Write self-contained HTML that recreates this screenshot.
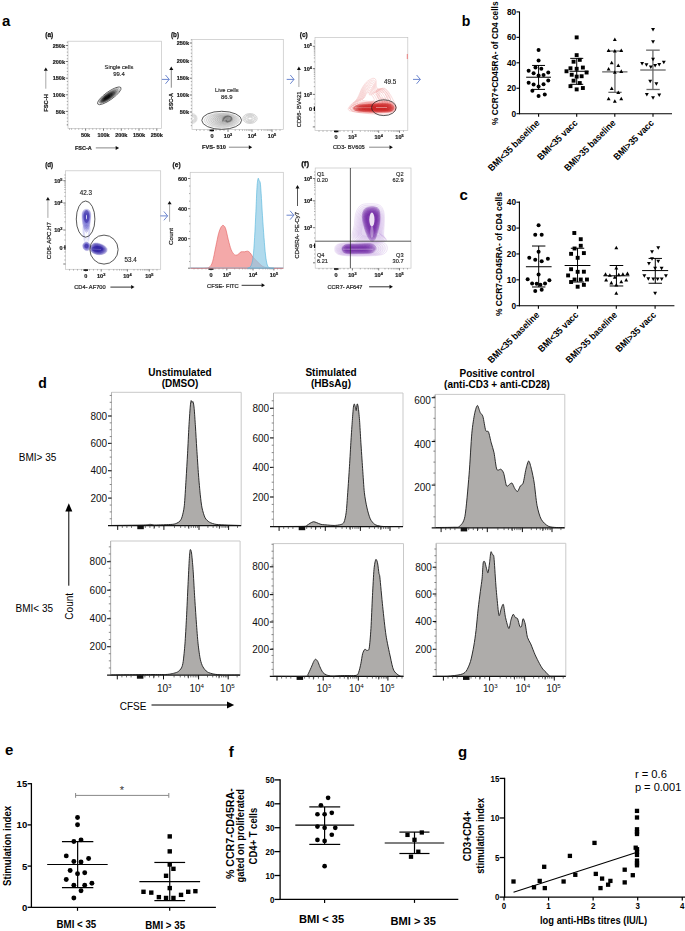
<!DOCTYPE html>
<html><head><meta charset="utf-8"><style>
html,body{margin:0;padding:0;background:#fff;}
body{width:685px;height:931px;overflow:hidden;}
svg{display:block;font-family:"Liberation Sans", sans-serif;}
</style></head><body>
<svg width="685" height="931" viewBox="0 0 685 931">
<rect width="685" height="931" fill="#fff"/>
<text x="1.90" y="26.00" font-size="15" font-weight="bold" text-anchor="start" fill="#000">a</text>
<text x="461.70" y="26.20" font-size="14" font-weight="bold" text-anchor="start" fill="#000">b</text>
<text x="459.40" y="200.00" font-size="15" font-weight="bold" text-anchor="start" fill="#000">c</text>
<text x="38.30" y="388.30" font-size="14" font-weight="bold" text-anchor="start" fill="#000">d</text>
<text x="5.00" y="755.00" font-size="15" font-weight="bold" text-anchor="start" fill="#000">e</text>
<text x="228.80" y="756.80" font-size="15" font-weight="bold" text-anchor="start" fill="#000">f</text>
<text x="458.00" y="757.00" font-size="15" font-weight="bold" text-anchor="start" fill="#000">g</text>
<defs><filter id="soft" x="-5%" y="-5%" width="110%" height="110%"><feGaussianBlur stdDeviation="0.28"/></filter></defs>
<g filter="url(#soft)">
<rect x="68.00" y="41.20" width="93.50" height="87.30" fill="none" stroke="#c4c4c4" stroke-width="0.7"/>
<line x1="65.80" y1="45.50" x2="68.00" y2="45.50" stroke="#555" stroke-width="0.8"/>
<text x="65.00" y="47.60" font-size="5.5" font-weight="bold" text-anchor="end" fill="#1e1e1e" stroke="#1e1e1e" stroke-width="0.22">250k</text>
<line x1="65.80" y1="61.50" x2="68.00" y2="61.50" stroke="#555" stroke-width="0.8"/>
<text x="65.00" y="63.60" font-size="5.5" font-weight="bold" text-anchor="end" fill="#1e1e1e" stroke="#1e1e1e" stroke-width="0.22">200k</text>
<line x1="65.80" y1="78.20" x2="68.00" y2="78.20" stroke="#555" stroke-width="0.8"/>
<text x="65.00" y="80.30" font-size="5.5" font-weight="bold" text-anchor="end" fill="#1e1e1e" stroke="#1e1e1e" stroke-width="0.22">150k</text>
<line x1="65.80" y1="94.80" x2="68.00" y2="94.80" stroke="#555" stroke-width="0.8"/>
<text x="65.00" y="96.90" font-size="5.5" font-weight="bold" text-anchor="end" fill="#1e1e1e" stroke="#1e1e1e" stroke-width="0.22">100k</text>
<line x1="65.80" y1="111.40" x2="68.00" y2="111.40" stroke="#555" stroke-width="0.8"/>
<text x="65.00" y="113.50" font-size="5.5" font-weight="bold" text-anchor="end" fill="#1e1e1e" stroke="#1e1e1e" stroke-width="0.22">50k</text>
<line x1="66.80" y1="48.82" x2="68.00" y2="48.82" stroke="#777" stroke-width="0.6"/>
<line x1="66.80" y1="52.14" x2="68.00" y2="52.14" stroke="#777" stroke-width="0.6"/>
<line x1="66.80" y1="55.46" x2="68.00" y2="55.46" stroke="#777" stroke-width="0.6"/>
<line x1="66.80" y1="58.78" x2="68.00" y2="58.78" stroke="#777" stroke-width="0.6"/>
<line x1="66.80" y1="64.82" x2="68.00" y2="64.82" stroke="#777" stroke-width="0.6"/>
<line x1="66.80" y1="68.14" x2="68.00" y2="68.14" stroke="#777" stroke-width="0.6"/>
<line x1="66.80" y1="71.46" x2="68.00" y2="71.46" stroke="#777" stroke-width="0.6"/>
<line x1="66.80" y1="74.78" x2="68.00" y2="74.78" stroke="#777" stroke-width="0.6"/>
<line x1="66.80" y1="81.52" x2="68.00" y2="81.52" stroke="#777" stroke-width="0.6"/>
<line x1="66.80" y1="84.84" x2="68.00" y2="84.84" stroke="#777" stroke-width="0.6"/>
<line x1="66.80" y1="88.16" x2="68.00" y2="88.16" stroke="#777" stroke-width="0.6"/>
<line x1="66.80" y1="91.48" x2="68.00" y2="91.48" stroke="#777" stroke-width="0.6"/>
<line x1="66.80" y1="98.12" x2="68.00" y2="98.12" stroke="#777" stroke-width="0.6"/>
<line x1="66.80" y1="101.44" x2="68.00" y2="101.44" stroke="#777" stroke-width="0.6"/>
<line x1="66.80" y1="104.76" x2="68.00" y2="104.76" stroke="#777" stroke-width="0.6"/>
<line x1="66.80" y1="108.08" x2="68.00" y2="108.08" stroke="#777" stroke-width="0.6"/>
<line x1="66.80" y1="114.72" x2="68.00" y2="114.72" stroke="#777" stroke-width="0.6"/>
<line x1="66.80" y1="118.04" x2="68.00" y2="118.04" stroke="#777" stroke-width="0.6"/>
<line x1="66.80" y1="121.36" x2="68.00" y2="121.36" stroke="#777" stroke-width="0.6"/>
<line x1="66.80" y1="124.68" x2="68.00" y2="124.68" stroke="#777" stroke-width="0.6"/>
<line x1="66.80" y1="42.20" x2="68.00" y2="42.20" stroke="#777" stroke-width="0.6"/>
<line x1="66.80" y1="125.00" x2="68.00" y2="125.00" stroke="#777" stroke-width="0.6"/>
<line x1="85.60" y1="128.50" x2="85.60" y2="130.70" stroke="#555" stroke-width="0.8"/>
<text x="85.60" y="137.20" font-size="5.5" font-weight="bold" text-anchor="middle" fill="#1e1e1e" stroke="#1e1e1e" stroke-width="0.22">50k</text>
<line x1="103.50" y1="128.50" x2="103.50" y2="130.70" stroke="#555" stroke-width="0.8"/>
<text x="103.50" y="137.20" font-size="5.5" font-weight="bold" text-anchor="middle" fill="#1e1e1e" stroke="#1e1e1e" stroke-width="0.22">100k</text>
<line x1="121.30" y1="128.50" x2="121.30" y2="130.70" stroke="#555" stroke-width="0.8"/>
<text x="121.30" y="137.20" font-size="5.5" font-weight="bold" text-anchor="middle" fill="#1e1e1e" stroke="#1e1e1e" stroke-width="0.22">200k</text>
<line x1="139.00" y1="128.50" x2="139.00" y2="130.70" stroke="#555" stroke-width="0.8"/>
<text x="139.00" y="137.20" font-size="5.5" font-weight="bold" text-anchor="middle" fill="#1e1e1e" stroke="#1e1e1e" stroke-width="0.22">150k</text>
<line x1="156.80" y1="128.50" x2="156.80" y2="130.70" stroke="#555" stroke-width="0.8"/>
<text x="156.80" y="137.20" font-size="5.5" font-weight="bold" text-anchor="middle" fill="#1e1e1e" stroke="#1e1e1e" stroke-width="0.22">250k</text>
<line x1="69.50" y1="128.50" x2="69.50" y2="129.70" stroke="#777" stroke-width="0.6"/>
<line x1="71.58" y1="128.50" x2="71.58" y2="129.70" stroke="#777" stroke-width="0.6"/>
<line x1="75.16" y1="128.50" x2="75.16" y2="129.70" stroke="#777" stroke-width="0.6"/>
<line x1="78.74" y1="128.50" x2="78.74" y2="129.70" stroke="#777" stroke-width="0.6"/>
<line x1="82.32" y1="128.50" x2="82.32" y2="129.70" stroke="#777" stroke-width="0.6"/>
<line x1="89.18" y1="128.50" x2="89.18" y2="129.70" stroke="#777" stroke-width="0.6"/>
<line x1="92.76" y1="128.50" x2="92.76" y2="129.70" stroke="#777" stroke-width="0.6"/>
<line x1="96.34" y1="128.50" x2="96.34" y2="129.70" stroke="#777" stroke-width="0.6"/>
<line x1="99.92" y1="128.50" x2="99.92" y2="129.70" stroke="#777" stroke-width="0.6"/>
<line x1="107.08" y1="128.50" x2="107.08" y2="129.70" stroke="#777" stroke-width="0.6"/>
<line x1="110.66" y1="128.50" x2="110.66" y2="129.70" stroke="#777" stroke-width="0.6"/>
<line x1="114.24" y1="128.50" x2="114.24" y2="129.70" stroke="#777" stroke-width="0.6"/>
<line x1="117.82" y1="128.50" x2="117.82" y2="129.70" stroke="#777" stroke-width="0.6"/>
<line x1="124.88" y1="128.50" x2="124.88" y2="129.70" stroke="#777" stroke-width="0.6"/>
<line x1="128.46" y1="128.50" x2="128.46" y2="129.70" stroke="#777" stroke-width="0.6"/>
<line x1="132.04" y1="128.50" x2="132.04" y2="129.70" stroke="#777" stroke-width="0.6"/>
<line x1="135.62" y1="128.50" x2="135.62" y2="129.70" stroke="#777" stroke-width="0.6"/>
<line x1="142.58" y1="128.50" x2="142.58" y2="129.70" stroke="#777" stroke-width="0.6"/>
<line x1="146.16" y1="128.50" x2="146.16" y2="129.70" stroke="#777" stroke-width="0.6"/>
<line x1="149.74" y1="128.50" x2="149.74" y2="129.70" stroke="#777" stroke-width="0.6"/>
<line x1="153.32" y1="128.50" x2="153.32" y2="129.70" stroke="#777" stroke-width="0.6"/>
<text x="45.30" y="36.80" font-size="7" font-weight="bold" fill="#111" stroke="#111" stroke-width="0.25" textLength="8" lengthAdjust="spacingAndGlyphs">(a)</text>
<text x="48.10" y="103.00" font-size="6.2" font-weight="bold" stroke="#1e1e1e" stroke-width="0.22" text-anchor="middle" fill="#1e1e1e" textLength="17.7" lengthAdjust="spacingAndGlyphs" transform="rotate(-90 48.10 103.00)">FSC-H</text>
<line x1="45.80" y1="88.70" x2="45.80" y2="70.40" stroke="#a8a8a8" stroke-width="1.0"/>
<path d="M43.80,70.80 L45.80,67.40 L47.80,70.80Z" fill="#111"/>
<text x="75.00" y="149.70" font-size="6.2" font-weight="bold" stroke="#1e1e1e" stroke-width="0.22" text-anchor="start" fill="#1e1e1e" textLength="16.8" lengthAdjust="spacingAndGlyphs">FSC-A</text>
<line x1="95.80" y1="147.90" x2="116.10" y2="147.90" stroke="#888" stroke-width="1.0"/>
<path d="M115.70,145.90 L119.10,147.90 L115.70,149.90Z" fill="#111"/>
<text x="119" y="69.4" font-size="5.9" text-anchor="middle" fill="#1e1e1e" stroke="#1e1e1e" stroke-width="0.15" textLength="28.8" lengthAdjust="spacingAndGlyphs">Single cells</text>
<text x="119" y="75.9" font-size="5.9" text-anchor="middle" fill="#1e1e1e" stroke="#1e1e1e" stroke-width="0.15">99.4</text>
<g transform="translate(109.3,95.8) rotate(-35.5)">
<ellipse cx="0" cy="0" rx="14.2" ry="4.0" fill="none" stroke="#333" stroke-width="0.7"/>
<ellipse cx="-0.00" cy="0" rx="12.3" ry="3.7" fill="#d8d8d8" stroke="#555" stroke-width="0.25"/>
<ellipse cx="-0.55" cy="0" rx="11.2" ry="3.35" fill="#b0b0b0" stroke="#555" stroke-width="0.25"/>
<ellipse cx="-1.10" cy="0" rx="9.8" ry="3.0" fill="#7a7a7a" stroke="#555" stroke-width="0.25"/>
<ellipse cx="-1.65" cy="0" rx="8.4" ry="2.6" fill="#4a4a4a" stroke="#555" stroke-width="0.25"/>
<ellipse cx="-2.20" cy="0" rx="6.5" ry="2.1" fill="#222" stroke="#555" stroke-width="0.25"/>
<ellipse cx="-2.75" cy="0" rx="4.2" ry="1.5" fill="#080808" stroke="#555" stroke-width="0.25"/>
</g>
<rect x="192.00" y="39.40" width="91.30" height="90.20" fill="none" stroke="#c4c4c4" stroke-width="0.7"/>
<line x1="189.80" y1="43.00" x2="192.00" y2="43.00" stroke="#555" stroke-width="0.8"/>
<text x="189.00" y="45.10" font-size="5.5" font-weight="bold" text-anchor="end" fill="#1e1e1e" stroke="#1e1e1e" stroke-width="0.22">250k</text>
<line x1="189.80" y1="61.00" x2="192.00" y2="61.00" stroke="#555" stroke-width="0.8"/>
<text x="189.00" y="63.10" font-size="5.5" font-weight="bold" text-anchor="end" fill="#1e1e1e" stroke="#1e1e1e" stroke-width="0.22">200k</text>
<line x1="189.80" y1="78.20" x2="192.00" y2="78.20" stroke="#555" stroke-width="0.8"/>
<text x="189.00" y="80.30" font-size="5.5" font-weight="bold" text-anchor="end" fill="#1e1e1e" stroke="#1e1e1e" stroke-width="0.22">150k</text>
<line x1="189.80" y1="95.00" x2="192.00" y2="95.00" stroke="#555" stroke-width="0.8"/>
<text x="189.00" y="97.10" font-size="5.5" font-weight="bold" text-anchor="end" fill="#1e1e1e" stroke="#1e1e1e" stroke-width="0.22">100k</text>
<line x1="189.80" y1="112.00" x2="192.00" y2="112.00" stroke="#555" stroke-width="0.8"/>
<text x="189.00" y="114.10" font-size="5.5" font-weight="bold" text-anchor="end" fill="#1e1e1e" stroke="#1e1e1e" stroke-width="0.22">50k</text>
<line x1="190.80" y1="46.40" x2="192.00" y2="46.40" stroke="#777" stroke-width="0.6"/>
<line x1="190.80" y1="49.80" x2="192.00" y2="49.80" stroke="#777" stroke-width="0.6"/>
<line x1="190.80" y1="53.20" x2="192.00" y2="53.20" stroke="#777" stroke-width="0.6"/>
<line x1="190.80" y1="56.60" x2="192.00" y2="56.60" stroke="#777" stroke-width="0.6"/>
<line x1="190.80" y1="64.40" x2="192.00" y2="64.40" stroke="#777" stroke-width="0.6"/>
<line x1="190.80" y1="67.80" x2="192.00" y2="67.80" stroke="#777" stroke-width="0.6"/>
<line x1="190.80" y1="71.20" x2="192.00" y2="71.20" stroke="#777" stroke-width="0.6"/>
<line x1="190.80" y1="74.60" x2="192.00" y2="74.60" stroke="#777" stroke-width="0.6"/>
<line x1="190.80" y1="81.60" x2="192.00" y2="81.60" stroke="#777" stroke-width="0.6"/>
<line x1="190.80" y1="85.00" x2="192.00" y2="85.00" stroke="#777" stroke-width="0.6"/>
<line x1="190.80" y1="88.40" x2="192.00" y2="88.40" stroke="#777" stroke-width="0.6"/>
<line x1="190.80" y1="91.80" x2="192.00" y2="91.80" stroke="#777" stroke-width="0.6"/>
<line x1="190.80" y1="98.40" x2="192.00" y2="98.40" stroke="#777" stroke-width="0.6"/>
<line x1="190.80" y1="101.80" x2="192.00" y2="101.80" stroke="#777" stroke-width="0.6"/>
<line x1="190.80" y1="105.20" x2="192.00" y2="105.20" stroke="#777" stroke-width="0.6"/>
<line x1="190.80" y1="108.60" x2="192.00" y2="108.60" stroke="#777" stroke-width="0.6"/>
<line x1="190.80" y1="115.40" x2="192.00" y2="115.40" stroke="#777" stroke-width="0.6"/>
<line x1="190.80" y1="118.80" x2="192.00" y2="118.80" stroke="#777" stroke-width="0.6"/>
<line x1="190.80" y1="122.20" x2="192.00" y2="122.20" stroke="#777" stroke-width="0.6"/>
<line x1="190.80" y1="125.60" x2="192.00" y2="125.60" stroke="#777" stroke-width="0.6"/>
<line x1="190.80" y1="39.80" x2="192.00" y2="39.80" stroke="#777" stroke-width="0.6"/>
<line x1="212.00" y1="129.60" x2="212.00" y2="131.80" stroke="#555" stroke-width="0.8"/>
<text x="212.00" y="137.50" font-size="5.5" font-weight="bold" text-anchor="middle" fill="#1e1e1e" stroke="#1e1e1e" stroke-width="0.22">0</text>
<line x1="228.00" y1="129.60" x2="228.00" y2="131.80" stroke="#555" stroke-width="0.8"/>
<text x="228.00" y="137.50" font-size="5.5" font-weight="bold" text-anchor="middle" fill="#1e1e1e" stroke="#1e1e1e" stroke-width="0.22">10<tspan font-size="3.85" dy="-2">3</tspan></text>
<line x1="252.00" y1="129.60" x2="252.00" y2="131.80" stroke="#555" stroke-width="0.8"/>
<text x="252.00" y="137.50" font-size="5.5" font-weight="bold" text-anchor="middle" fill="#1e1e1e" stroke="#1e1e1e" stroke-width="0.22">10<tspan font-size="3.85" dy="-2">4</tspan></text>
<line x1="272.00" y1="129.60" x2="272.00" y2="131.80" stroke="#555" stroke-width="0.8"/>
<text x="272.00" y="137.50" font-size="5.5" font-weight="bold" text-anchor="middle" fill="#1e1e1e" stroke="#1e1e1e" stroke-width="0.22">10<tspan font-size="3.85" dy="-2">5</tspan></text>
<line x1="196.50" y1="129.60" x2="196.50" y2="130.80" stroke="#777" stroke-width="0.6"/>
<line x1="200.00" y1="129.60" x2="200.00" y2="130.80" stroke="#777" stroke-width="0.6"/>
<line x1="204.00" y1="129.60" x2="204.00" y2="130.80" stroke="#777" stroke-width="0.6"/>
<line x1="208.00" y1="129.60" x2="208.00" y2="130.80" stroke="#777" stroke-width="0.6"/>
<line x1="216.00" y1="129.60" x2="216.00" y2="130.80" stroke="#777" stroke-width="0.6"/>
<line x1="220.00" y1="129.60" x2="220.00" y2="130.80" stroke="#777" stroke-width="0.6"/>
<line x1="224.00" y1="129.60" x2="224.00" y2="130.80" stroke="#777" stroke-width="0.6"/>
<line x1="235.22" y1="129.60" x2="235.22" y2="130.80" stroke="#777" stroke-width="0.6"/>
<line x1="239.45" y1="129.60" x2="239.45" y2="130.80" stroke="#777" stroke-width="0.6"/>
<line x1="242.45" y1="129.60" x2="242.45" y2="130.80" stroke="#777" stroke-width="0.6"/>
<line x1="244.78" y1="129.60" x2="244.78" y2="130.80" stroke="#777" stroke-width="0.6"/>
<line x1="246.68" y1="129.60" x2="246.68" y2="130.80" stroke="#777" stroke-width="0.6"/>
<line x1="248.28" y1="129.60" x2="248.28" y2="130.80" stroke="#777" stroke-width="0.6"/>
<line x1="249.67" y1="129.60" x2="249.67" y2="130.80" stroke="#777" stroke-width="0.6"/>
<line x1="250.90" y1="129.60" x2="250.90" y2="130.80" stroke="#777" stroke-width="0.6"/>
<line x1="258.02" y1="129.60" x2="258.02" y2="130.80" stroke="#777" stroke-width="0.6"/>
<line x1="261.54" y1="129.60" x2="261.54" y2="130.80" stroke="#777" stroke-width="0.6"/>
<line x1="264.04" y1="129.60" x2="264.04" y2="130.80" stroke="#777" stroke-width="0.6"/>
<line x1="265.98" y1="129.60" x2="265.98" y2="130.80" stroke="#777" stroke-width="0.6"/>
<line x1="267.56" y1="129.60" x2="267.56" y2="130.80" stroke="#777" stroke-width="0.6"/>
<line x1="268.90" y1="129.60" x2="268.90" y2="130.80" stroke="#777" stroke-width="0.6"/>
<line x1="270.06" y1="129.60" x2="270.06" y2="130.80" stroke="#777" stroke-width="0.6"/>
<line x1="271.08" y1="129.60" x2="271.08" y2="130.80" stroke="#777" stroke-width="0.6"/>
<line x1="276.00" y1="129.60" x2="276.00" y2="130.80" stroke="#777" stroke-width="0.6"/>
<line x1="280.00" y1="129.60" x2="280.00" y2="130.80" stroke="#777" stroke-width="0.6"/>
<rect x="209.50" y="129.60" width="4.50" height="1.60" fill="#111" stroke="none" stroke-width="1"/>
<text x="171.00" y="37.00" font-size="7" font-weight="bold" fill="#111" stroke="#111" stroke-width="0.25" textLength="8" lengthAdjust="spacingAndGlyphs">(b)</text>
<path d="M161.90,79.40 H169.20 M165.50,75.00 L169.20,79.40 L165.50,83.80" fill="none" stroke="#5b78c8" stroke-width="0.9"/>
<text x="173.30" y="101.50" font-size="6.2" font-weight="bold" stroke="#1e1e1e" stroke-width="0.22" text-anchor="middle" fill="#1e1e1e" textLength="17.0" lengthAdjust="spacingAndGlyphs" transform="rotate(-90 173.30 101.50)">SSC-A</text>
<line x1="171.30" y1="87.70" x2="171.30" y2="69.50" stroke="#8a8a8a" stroke-width="1.0"/>
<path d="M169.30,69.90 L171.30,66.50 L173.30,69.90Z" fill="#111"/>
<text x="202.00" y="149.00" font-size="6.2" font-weight="bold" stroke="#1e1e1e" stroke-width="0.22" text-anchor="start" fill="#1e1e1e" textLength="24.0" lengthAdjust="spacingAndGlyphs">FVS- 510</text>
<line x1="228.90" y1="147.20" x2="249.20" y2="147.20" stroke="#888" stroke-width="1.0"/>
<path d="M248.80,145.20 L252.20,147.20 L248.80,149.20Z" fill="#111"/>
<text x="226.8" y="92.0" font-size="5.9" text-anchor="middle" fill="#1e1e1e" stroke="#1e1e1e" stroke-width="0.15" textLength="23.5" lengthAdjust="spacingAndGlyphs">Live cells</text>
<text x="226.8" y="98.6" font-size="5.9" text-anchor="middle" fill="#1e1e1e" stroke="#1e1e1e" stroke-width="0.15">86.9</text>
<ellipse cx="222.00" cy="120.30" rx="17.80" ry="7.40" fill="#000" fill-opacity="0.03" stroke="#555" stroke-opacity="0.6" stroke-width="0.3"/>
<ellipse cx="222.43" cy="120.18" rx="16.11" ry="6.70" fill="#000" fill-opacity="0.03" stroke="#555" stroke-opacity="0.6" stroke-width="0.3"/>
<ellipse cx="222.85" cy="120.05" rx="14.42" ry="5.99" fill="#000" fill-opacity="0.03" stroke="#555" stroke-opacity="0.6" stroke-width="0.3"/>
<ellipse cx="223.28" cy="119.93" rx="12.73" ry="5.29" fill="#000" fill-opacity="0.03" stroke="#555" stroke-opacity="0.6" stroke-width="0.3"/>
<ellipse cx="223.71" cy="119.81" rx="11.04" ry="4.59" fill="#000" fill-opacity="0.03" stroke="#555" stroke-opacity="0.6" stroke-width="0.3"/>
<ellipse cx="224.14" cy="119.68" rx="9.35" ry="3.89" fill="#000" fill-opacity="0.03" stroke="#555" stroke-opacity="0.6" stroke-width="0.3"/>
<ellipse cx="224.56" cy="119.56" rx="7.65" ry="3.18" fill="#000" fill-opacity="0.03" stroke="#555" stroke-opacity="0.6" stroke-width="0.3"/>
<ellipse cx="224.99" cy="119.44" rx="5.96" ry="2.48" fill="#000" fill-opacity="0.03" stroke="#555" stroke-opacity="0.6" stroke-width="0.3"/>
<ellipse cx="225.42" cy="119.31" rx="4.27" ry="1.78" fill="#000" fill-opacity="0.03" stroke="#555" stroke-opacity="0.6" stroke-width="0.3"/>
<ellipse cx="225.85" cy="119.19" rx="2.58" ry="1.07" fill="#000" fill-opacity="0.03" stroke="#555" stroke-opacity="0.6" stroke-width="0.3"/>
<path d="M222.5,121.5 C223,117 227,115.5 230,116.5 C232.5,117.5 231.5,120.5 229,121.5 C227,122.3 225.5,121 226.5,119.8" fill="none" stroke="#3a3a3a" stroke-opacity="0.45" stroke-width="1.3"/>
<ellipse cx="227.5" cy="119" rx="5.5" ry="3.6" fill="#444" fill-opacity="0.25"/>
<ellipse cx="221.7" cy="120.3" rx="19.9" ry="9.0" fill="none" stroke="#222" stroke-width="0.75"/>
<ellipse cx="250" cy="118.5" rx="7.20" ry="5.00" fill="none" stroke="#777" stroke-width="0.3"/>
<ellipse cx="250" cy="118.5" rx="5.90" ry="4.10" fill="none" stroke="#777" stroke-width="0.3"/>
<ellipse cx="250" cy="118.5" rx="4.61" ry="3.20" fill="none" stroke="#777" stroke-width="0.3"/>
<ellipse cx="250" cy="118.5" rx="3.31" ry="2.30" fill="none" stroke="#777" stroke-width="0.3"/>
<ellipse cx="250" cy="118.5" rx="2.02" ry="1.40" fill="none" stroke="#777" stroke-width="0.3"/>
<ellipse cx="192.5" cy="118.5" rx="4.50" ry="4.80" fill="none" stroke="#888" stroke-width="0.3" clip-path="url(#clipb)"/>
<ellipse cx="192.5" cy="118.5" rx="3.60" ry="3.84" fill="none" stroke="#888" stroke-width="0.3" clip-path="url(#clipb)"/>
<ellipse cx="192.5" cy="118.5" rx="2.70" ry="2.88" fill="none" stroke="#888" stroke-width="0.3" clip-path="url(#clipb)"/>
<ellipse cx="192.5" cy="118.5" rx="1.80" ry="1.92" fill="none" stroke="#888" stroke-width="0.3" clip-path="url(#clipb)"/>
<clipPath id="clipb"><rect x="192.0" y="39.4" width="91.30000000000001" height="90.19999999999999"/></clipPath>
<rect x="315.00" y="37.40" width="92.80" height="93.20" fill="none" stroke="#c4c4c4" stroke-width="0.7"/>
<line x1="312.80" y1="46.30" x2="315.00" y2="46.30" stroke="#555" stroke-width="0.8"/>
<text x="312.00" y="48.40" font-size="5.5" font-weight="bold" text-anchor="end" fill="#1e1e1e" stroke="#1e1e1e" stroke-width="0.22">10<tspan font-size="3.85" dy="-2">5</tspan></text>
<line x1="312.80" y1="68.60" x2="315.00" y2="68.60" stroke="#555" stroke-width="0.8"/>
<text x="312.00" y="70.70" font-size="5.5" font-weight="bold" text-anchor="end" fill="#1e1e1e" stroke="#1e1e1e" stroke-width="0.22">10<tspan font-size="3.85" dy="-2">4</tspan></text>
<line x1="312.80" y1="94.40" x2="315.00" y2="94.40" stroke="#555" stroke-width="0.8"/>
<text x="312.00" y="96.50" font-size="5.5" font-weight="bold" text-anchor="end" fill="#1e1e1e" stroke="#1e1e1e" stroke-width="0.22">10<tspan font-size="3.85" dy="-2">3</tspan></text>
<line x1="312.80" y1="108.70" x2="315.00" y2="108.70" stroke="#555" stroke-width="0.8"/>
<text x="312.00" y="110.80" font-size="5.5" font-weight="bold" text-anchor="end" fill="#1e1e1e" stroke="#1e1e1e" stroke-width="0.22">0</text>
<line x1="312.80" y1="126.90" x2="315.00" y2="126.90" stroke="#555" stroke-width="0.8"/>
<line x1="313.80" y1="86.63" x2="315.00" y2="86.63" stroke="#777" stroke-width="0.6"/>
<line x1="313.80" y1="82.09" x2="315.00" y2="82.09" stroke="#777" stroke-width="0.6"/>
<line x1="313.80" y1="78.87" x2="315.00" y2="78.87" stroke="#777" stroke-width="0.6"/>
<line x1="313.80" y1="76.37" x2="315.00" y2="76.37" stroke="#777" stroke-width="0.6"/>
<line x1="313.80" y1="74.32" x2="315.00" y2="74.32" stroke="#777" stroke-width="0.6"/>
<line x1="313.80" y1="72.60" x2="315.00" y2="72.60" stroke="#777" stroke-width="0.6"/>
<line x1="313.80" y1="71.10" x2="315.00" y2="71.10" stroke="#777" stroke-width="0.6"/>
<line x1="313.80" y1="69.78" x2="315.00" y2="69.78" stroke="#777" stroke-width="0.6"/>
<line x1="313.80" y1="61.89" x2="315.00" y2="61.89" stroke="#777" stroke-width="0.6"/>
<line x1="313.80" y1="57.96" x2="315.00" y2="57.96" stroke="#777" stroke-width="0.6"/>
<line x1="313.80" y1="55.17" x2="315.00" y2="55.17" stroke="#777" stroke-width="0.6"/>
<line x1="313.80" y1="53.01" x2="315.00" y2="53.01" stroke="#777" stroke-width="0.6"/>
<line x1="313.80" y1="51.25" x2="315.00" y2="51.25" stroke="#777" stroke-width="0.6"/>
<line x1="313.80" y1="49.75" x2="315.00" y2="49.75" stroke="#777" stroke-width="0.6"/>
<line x1="313.80" y1="48.46" x2="315.00" y2="48.46" stroke="#777" stroke-width="0.6"/>
<line x1="313.80" y1="47.32" x2="315.00" y2="47.32" stroke="#777" stroke-width="0.6"/>
<line x1="313.80" y1="41.00" x2="315.00" y2="41.00" stroke="#777" stroke-width="0.6"/>
<line x1="313.80" y1="43.00" x2="315.00" y2="43.00" stroke="#777" stroke-width="0.6"/>
<line x1="313.80" y1="99.00" x2="315.00" y2="99.00" stroke="#777" stroke-width="0.6"/>
<line x1="313.80" y1="104.00" x2="315.00" y2="104.00" stroke="#777" stroke-width="0.6"/>
<line x1="313.80" y1="113.00" x2="315.00" y2="113.00" stroke="#777" stroke-width="0.6"/>
<line x1="313.80" y1="117.00" x2="315.00" y2="117.00" stroke="#777" stroke-width="0.6"/>
<line x1="313.80" y1="121.00" x2="315.00" y2="121.00" stroke="#777" stroke-width="0.6"/>
<rect x="313.80" y="106.50" width="1.20" height="4.50" fill="#111" stroke="none" stroke-width="1"/>
<line x1="336.00" y1="130.60" x2="336.00" y2="132.80" stroke="#555" stroke-width="0.8"/>
<text x="336.00" y="138.50" font-size="5.5" font-weight="bold" text-anchor="middle" fill="#1e1e1e" stroke="#1e1e1e" stroke-width="0.22">0</text>
<line x1="352.40" y1="130.60" x2="352.40" y2="132.80" stroke="#555" stroke-width="0.8"/>
<text x="352.40" y="138.50" font-size="5.5" font-weight="bold" text-anchor="middle" fill="#1e1e1e" stroke="#1e1e1e" stroke-width="0.22">10<tspan font-size="3.85" dy="-2">3</tspan></text>
<line x1="378.70" y1="130.60" x2="378.70" y2="132.80" stroke="#555" stroke-width="0.8"/>
<text x="378.70" y="138.50" font-size="5.5" font-weight="bold" text-anchor="middle" fill="#1e1e1e" stroke="#1e1e1e" stroke-width="0.22">10<tspan font-size="3.85" dy="-2">4</tspan></text>
<line x1="399.50" y1="130.60" x2="399.50" y2="132.80" stroke="#555" stroke-width="0.8"/>
<text x="399.50" y="138.50" font-size="5.5" font-weight="bold" text-anchor="middle" fill="#1e1e1e" stroke="#1e1e1e" stroke-width="0.22">10<tspan font-size="3.85" dy="-2">5</tspan></text>
<line x1="319.00" y1="130.60" x2="319.00" y2="131.80" stroke="#777" stroke-width="0.6"/>
<line x1="323.00" y1="130.60" x2="323.00" y2="131.80" stroke="#777" stroke-width="0.6"/>
<line x1="327.00" y1="130.60" x2="327.00" y2="131.80" stroke="#777" stroke-width="0.6"/>
<line x1="331.00" y1="130.60" x2="331.00" y2="131.80" stroke="#777" stroke-width="0.6"/>
<line x1="340.00" y1="130.60" x2="340.00" y2="131.80" stroke="#777" stroke-width="0.6"/>
<line x1="344.00" y1="130.60" x2="344.00" y2="131.80" stroke="#777" stroke-width="0.6"/>
<line x1="348.00" y1="130.60" x2="348.00" y2="131.80" stroke="#777" stroke-width="0.6"/>
<line x1="360.32" y1="130.60" x2="360.32" y2="131.80" stroke="#777" stroke-width="0.6"/>
<line x1="364.95" y1="130.60" x2="364.95" y2="131.80" stroke="#777" stroke-width="0.6"/>
<line x1="368.23" y1="130.60" x2="368.23" y2="131.80" stroke="#777" stroke-width="0.6"/>
<line x1="370.78" y1="130.60" x2="370.78" y2="131.80" stroke="#777" stroke-width="0.6"/>
<line x1="372.87" y1="130.60" x2="372.87" y2="131.80" stroke="#777" stroke-width="0.6"/>
<line x1="374.63" y1="130.60" x2="374.63" y2="131.80" stroke="#777" stroke-width="0.6"/>
<line x1="376.15" y1="130.60" x2="376.15" y2="131.80" stroke="#777" stroke-width="0.6"/>
<line x1="377.50" y1="130.60" x2="377.50" y2="131.80" stroke="#777" stroke-width="0.6"/>
<line x1="384.96" y1="130.60" x2="384.96" y2="131.80" stroke="#777" stroke-width="0.6"/>
<line x1="388.62" y1="130.60" x2="388.62" y2="131.80" stroke="#777" stroke-width="0.6"/>
<line x1="391.22" y1="130.60" x2="391.22" y2="131.80" stroke="#777" stroke-width="0.6"/>
<line x1="393.24" y1="130.60" x2="393.24" y2="131.80" stroke="#777" stroke-width="0.6"/>
<line x1="394.89" y1="130.60" x2="394.89" y2="131.80" stroke="#777" stroke-width="0.6"/>
<line x1="396.28" y1="130.60" x2="396.28" y2="131.80" stroke="#777" stroke-width="0.6"/>
<line x1="397.48" y1="130.60" x2="397.48" y2="131.80" stroke="#777" stroke-width="0.6"/>
<line x1="398.55" y1="130.60" x2="398.55" y2="131.80" stroke="#777" stroke-width="0.6"/>
<line x1="403.50" y1="130.60" x2="403.50" y2="131.80" stroke="#777" stroke-width="0.6"/>
<rect x="334.00" y="130.60" width="4.50" height="1.60" fill="#111" stroke="none" stroke-width="1"/>
<text x="299.80" y="36.60" font-size="7" font-weight="bold" fill="#111" stroke="#111" stroke-width="0.25" textLength="8" lengthAdjust="spacingAndGlyphs">(c)</text>
<path d="M286.70,79.40 H294.00 M290.30,75.00 L294.00,79.40 L290.30,83.80" fill="none" stroke="#5b78c8" stroke-width="0.9"/>
<path d="M413.00,79.40 H420.30 M416.60,75.00 L420.30,79.40 L416.60,83.80" fill="none" stroke="#5b78c8" stroke-width="0.9"/>
<text x="300.90" y="109.40" font-size="6.2" stroke="#1e1e1e" stroke-width="0.22" text-anchor="middle" fill="#1e1e1e" textLength="35.8" lengthAdjust="spacingAndGlyphs" transform="rotate(-90 300.90 109.40)">CD56- BV421</text>
<line x1="298.90" y1="87.00" x2="298.90" y2="69.50" stroke="#a8a8a8" stroke-width="1.0"/>
<path d="M296.90,69.90 L298.90,66.50 L300.90,69.90Z" fill="#111"/>
<text x="333.00" y="149.00" font-size="6.2" stroke="#1e1e1e" stroke-width="0.22" text-anchor="start" fill="#1e1e1e" textLength="31.7" lengthAdjust="spacingAndGlyphs">CD3- BV605</text>
<line x1="369.10" y1="147.20" x2="389.90" y2="147.20" stroke="#888" stroke-width="1.0"/>
<path d="M389.50,145.20 L392.90,147.20 L389.50,149.20Z" fill="#111"/>
<text x="390.2" y="83.6" font-size="6.3" text-anchor="middle" fill="#1e1e1e" stroke="#1e1e1e" stroke-width="0.15">49.5</text>
<path d="M348.32,108.54 C348.61,107.44 350.15,105.47 351.39,104.16 C352.63,102.85 354.53,102.12 355.77,100.66 C357.01,99.20 357.81,97.44 358.83,95.40 C359.85,93.36 360.66,90.58 361.90,88.39 C363.14,86.20 364.82,83.80 366.28,82.26 C367.74,80.73 369.42,79.85 370.66,79.20 C371.90,78.54 372.85,78.17 373.72,78.32 C374.60,78.47 375.47,78.69 375.91,80.07 C376.35,81.46 375.91,85.18 376.35,86.64 C376.79,88.10 377.15,88.54 378.54,88.83 C379.93,89.12 382.92,87.74 384.67,88.39 C386.42,89.05 387.74,91.02 389.05,92.77 C390.36,94.52 391.39,96.57 392.55,98.90 C393.72,101.24 395.84,104.60 396.06,106.79 C396.28,108.98 395.33,110.80 393.87,112.04 C392.41,113.28 390.14,113.87 387.30,114.23 C384.45,114.60 380.29,114.38 376.79,114.23 C373.28,114.09 369.78,113.72 366.28,113.36 C362.77,112.99 358.54,112.48 355.77,112.04 C352.99,111.60 350.88,111.31 349.63,110.73 C348.39,110.14 348.03,109.63 348.32,108.54Z" fill="#e04848" fill-opacity="0.0" stroke="#e04848" stroke-opacity="0.55" stroke-width="0.35"/>
<path d="M350.07,107.46 C350.34,106.47 351.73,104.68 352.85,103.49 C353.97,102.30 355.69,101.64 356.82,100.31 C357.94,98.99 358.67,97.40 359.60,95.55 C360.52,93.70 361.25,91.18 362.38,89.20 C363.50,87.22 365.02,85.03 366.34,83.64 C367.67,82.25 369.19,81.46 370.31,80.87 C371.44,80.27 372.30,79.94 373.09,80.07 C373.89,80.20 374.68,80.40 375.08,81.66 C375.47,82.92 375.08,86.29 375.47,87.61 C375.87,88.94 376.20,89.33 377.46,89.60 C378.71,89.86 381.43,88.61 383.01,89.20 C384.60,89.80 385.79,91.58 386.98,93.17 C388.17,94.76 389.10,96.61 390.16,98.73 C391.22,100.84 393.13,103.89 393.33,105.87 C393.53,107.85 392.67,109.51 391.35,110.63 C390.03,111.76 387.97,112.29 385.39,112.62 C382.82,112.95 379.04,112.75 375.87,112.62 C372.69,112.48 369.52,112.15 366.34,111.82 C363.17,111.49 359.33,111.03 356.82,110.63 C354.31,110.24 352.39,109.97 351.26,109.44 C350.14,108.91 349.81,108.45 350.07,107.46Z" fill="#e04848" fill-opacity="0.0" stroke="#e04848" stroke-opacity="0.55" stroke-width="0.35"/>
<path d="M351.82,106.38 C352.06,105.49 353.31,103.88 354.31,102.82 C355.32,101.75 356.86,101.16 357.87,99.97 C358.88,98.78 359.53,97.36 360.36,95.70 C361.19,94.04 361.85,91.79 362.85,90.01 C363.86,88.23 365.23,86.27 366.41,85.03 C367.60,83.78 368.96,83.07 369.97,82.53 C370.98,82.00 371.75,81.70 372.46,81.82 C373.17,81.94 373.88,82.12 374.24,83.25 C374.60,84.37 374.24,87.40 374.60,88.58 C374.95,89.77 375.25,90.13 376.38,90.36 C377.50,90.60 379.93,89.47 381.36,90.01 C382.78,90.54 383.85,92.14 384.92,93.57 C385.98,94.99 386.81,96.65 387.76,98.55 C388.71,100.44 390.43,103.17 390.61,104.95 C390.79,106.73 390.02,108.21 388.83,109.22 C387.64,110.23 385.80,110.70 383.49,111.00 C381.18,111.30 377.80,111.12 374.95,111.00 C372.11,110.88 369.26,110.59 366.41,110.29 C363.57,109.99 360.13,109.58 357.87,109.22 C355.62,108.87 353.90,108.63 352.89,108.15 C351.88,107.68 351.59,107.27 351.82,106.38Z" fill="#e04848" fill-opacity="0.0" stroke="#e04848" stroke-opacity="0.55" stroke-width="0.35"/>
<path d="M353.57,105.29 C353.78,104.51 354.89,103.09 355.78,102.15 C356.67,101.20 358.03,100.68 358.93,99.63 C359.82,98.58 360.39,97.32 361.13,95.85 C361.86,94.38 362.44,92.39 363.33,90.81 C364.22,89.24 365.43,87.51 366.48,86.41 C367.53,85.31 368.74,84.68 369.63,84.20 C370.52,83.73 371.20,83.47 371.83,83.57 C372.46,83.68 373.09,83.84 373.41,84.83 C373.72,85.83 373.41,88.51 373.72,89.56 C374.03,90.60 374.30,90.92 375.29,91.13 C376.29,91.34 378.44,90.34 379.70,90.81 C380.96,91.29 381.90,92.70 382.85,93.96 C383.79,95.22 384.53,96.69 385.37,98.37 C386.21,100.05 387.73,102.46 387.88,104.03 C388.04,105.61 387.36,106.92 386.31,107.81 C385.26,108.70 383.64,109.12 381.59,109.39 C379.54,109.65 376.55,109.49 374.03,109.39 C371.52,109.28 369.00,109.02 366.48,108.76 C363.96,108.49 360.92,108.13 358.93,107.81 C356.93,107.50 355.41,107.29 354.52,106.87 C353.63,106.45 353.36,106.08 353.57,105.29Z" fill="#e04848" fill-opacity="0.0" stroke="#e04848" stroke-opacity="0.55" stroke-width="0.35"/>
<path d="M355.33,104.21 C355.51,103.53 356.47,102.30 357.24,101.47 C358.02,100.65 359.20,100.20 359.98,99.29 C360.75,98.37 361.26,97.28 361.89,96.00 C362.53,94.72 363.04,92.99 363.81,91.62 C364.59,90.25 365.64,88.75 366.55,87.79 C367.46,86.83 368.51,86.28 369.29,85.87 C370.06,85.46 370.65,85.23 371.20,85.33 C371.75,85.42 372.30,85.55 372.57,86.42 C372.84,87.29 372.57,89.61 372.84,90.53 C373.12,91.44 373.35,91.71 374.21,91.89 C375.08,92.08 376.95,91.21 378.04,91.62 C379.14,92.03 379.96,93.26 380.78,94.36 C381.60,95.45 382.24,96.73 382.97,98.19 C383.70,99.65 385.02,101.75 385.16,103.12 C385.30,104.49 384.70,105.63 383.79,106.40 C382.88,107.18 381.47,107.54 379.69,107.77 C377.91,108.00 375.31,107.86 373.12,107.77 C370.93,107.68 368.74,107.45 366.55,107.22 C364.36,106.99 361.71,106.68 359.98,106.40 C358.25,106.13 356.92,105.95 356.15,105.58 C355.37,105.22 355.14,104.90 355.33,104.21Z" fill="#e04848" fill-opacity="0.0" stroke="#e04848" stroke-opacity="0.55" stroke-width="0.35"/>
<path d="M357.08,103.13 C357.23,102.55 358.05,101.50 358.71,100.80 C359.36,100.11 360.37,99.72 361.03,98.94 C361.69,98.17 362.12,97.24 362.66,96.15 C363.20,95.06 363.63,93.59 364.29,92.43 C364.95,91.26 365.84,89.98 366.62,89.17 C367.39,88.36 368.28,87.89 368.94,87.54 C369.60,87.19 370.11,87.00 370.57,87.08 C371.04,87.15 371.50,87.27 371.73,88.01 C371.97,88.74 371.73,90.72 371.97,91.50 C372.20,92.27 372.39,92.51 373.13,92.66 C373.87,92.82 375.46,92.08 376.39,92.43 C377.32,92.78 378.02,93.82 378.71,94.75 C379.41,95.69 379.95,96.77 380.58,98.01 C381.20,99.25 382.32,101.04 382.44,102.20 C382.55,103.36 382.05,104.33 381.27,104.99 C380.50,105.65 379.30,105.96 377.78,106.15 C376.27,106.35 374.06,106.23 372.20,106.15 C370.34,106.08 368.48,105.88 366.62,105.69 C364.75,105.50 362.51,105.22 361.03,104.99 C359.56,104.76 358.43,104.60 357.77,104.29 C357.12,103.98 356.92,103.71 357.08,103.13Z" fill="#e04848" fill-opacity="0.0" stroke="#e04848" stroke-opacity="0.55" stroke-width="0.35"/>
<path d="M358.83,102.05 C358.96,101.57 359.63,100.71 360.17,100.13 C360.71,99.56 361.54,99.24 362.09,98.60 C362.63,97.96 362.98,97.19 363.43,96.30 C363.87,95.41 364.22,94.19 364.77,93.23 C365.31,92.28 366.04,91.22 366.68,90.55 C367.32,89.88 368.06,89.50 368.60,89.21 C369.14,88.92 369.56,88.76 369.94,88.83 C370.32,88.89 370.71,88.99 370.90,89.59 C371.09,90.20 370.90,91.83 371.09,92.47 C371.28,93.11 371.44,93.30 372.05,93.43 C372.66,93.55 373.96,92.95 374.73,93.23 C375.50,93.52 376.07,94.38 376.65,95.15 C377.22,95.92 377.67,96.81 378.18,97.83 C378.69,98.85 379.62,100.32 379.71,101.28 C379.81,102.24 379.39,103.04 378.75,103.58 C378.12,104.12 377.13,104.38 375.88,104.54 C374.63,104.70 372.81,104.60 371.28,104.54 C369.75,104.48 368.22,104.32 366.68,104.16 C365.15,104.00 363.30,103.77 362.09,103.58 C360.87,103.39 359.95,103.26 359.40,103.01 C358.86,102.75 358.70,102.53 358.83,102.05Z" fill="#e04848" fill-opacity="0.0" stroke="#e04848" stroke-opacity="0.55" stroke-width="0.35"/>
<path d="M360.58,100.97 C360.68,100.59 361.21,99.91 361.63,99.46 C362.06,99.01 362.71,98.76 363.14,98.26 C363.56,97.75 363.84,97.15 364.19,96.45 C364.54,95.75 364.82,94.79 365.25,94.04 C365.67,93.29 366.25,92.46 366.75,91.93 C367.25,91.41 367.83,91.11 368.26,90.88 C368.68,90.65 369.01,90.53 369.31,90.58 C369.61,90.63 369.91,90.70 370.06,91.18 C370.21,91.66 370.06,92.94 370.21,93.44 C370.36,93.94 370.49,94.09 370.97,94.19 C371.44,94.29 372.47,93.82 373.07,94.04 C373.68,94.27 374.13,94.94 374.58,95.55 C375.03,96.15 375.38,96.85 375.78,97.65 C376.19,98.46 376.91,99.61 376.99,100.36 C377.06,101.12 376.74,101.74 376.24,102.17 C375.73,102.60 374.96,102.80 373.98,102.92 C373.00,103.05 371.57,102.97 370.36,102.92 C369.16,102.87 367.96,102.75 366.75,102.62 C365.55,102.50 364.09,102.32 363.14,102.17 C362.18,102.02 361.46,101.92 361.03,101.72 C360.60,101.52 360.48,101.34 360.58,100.97Z" fill="#e04848" fill-opacity="0.0" stroke="#e04848" stroke-opacity="0.55" stroke-width="0.35"/>
<path d="M362.33,99.88 C362.40,99.61 362.79,99.12 363.10,98.79 C363.41,98.46 363.88,98.28 364.19,97.91 C364.50,97.55 364.70,97.11 364.96,96.60 C365.21,96.09 365.41,95.40 365.72,94.85 C366.03,94.30 366.45,93.70 366.82,93.32 C367.18,92.93 367.60,92.71 367.91,92.55 C368.22,92.38 368.46,92.29 368.68,92.33 C368.90,92.37 369.12,92.42 369.23,92.77 C369.34,93.11 369.23,94.05 369.34,94.41 C369.45,94.78 369.54,94.88 369.88,94.96 C370.23,95.03 370.98,94.68 371.42,94.85 C371.86,95.01 372.18,95.51 372.51,95.94 C372.84,96.38 373.10,96.89 373.39,97.48 C373.68,98.06 374.21,98.90 374.26,99.45 C374.32,99.99 374.08,100.45 373.72,100.76 C373.35,101.07 372.79,101.22 372.07,101.31 C371.36,101.40 370.32,101.34 369.45,101.31 C368.57,101.27 367.70,101.18 366.82,101.09 C365.94,101.00 364.88,100.87 364.19,100.76 C363.50,100.65 362.97,100.58 362.66,100.43 C362.35,100.29 362.26,100.16 362.33,99.88Z" fill="#e04848" fill-opacity="0.0" stroke="#e04848" stroke-opacity="0.55" stroke-width="0.35"/>
<path d="M376.79,90.15 C377.52,89.05 379.71,88.90 381.17,88.83 C382.63,88.76 384.23,88.76 385.55,89.71 C386.86,90.66 388.25,92.85 389.05,94.52 C389.85,96.20 390.95,98.61 390.36,99.78 C389.78,100.95 387.37,101.53 385.55,101.53 C383.72,101.53 380.87,100.80 379.41,99.78 C377.96,98.76 377.23,97.01 376.79,95.40 C376.35,93.79 376.06,91.24 376.79,90.15Z" fill="#e04848" fill-opacity="0.0" stroke="#e04848" stroke-opacity="0.45" stroke-width="0.3"/>
<path d="M377.74,91.02 C378.34,90.11 380.17,89.99 381.39,89.93 C382.60,89.87 383.94,89.87 385.04,90.66 C386.13,91.45 387.29,93.27 387.95,94.67 C388.62,96.07 389.54,98.08 389.05,99.05 C388.56,100.02 386.56,100.51 385.04,100.51 C383.51,100.51 381.14,99.90 379.93,99.05 C378.71,98.20 378.10,96.74 377.74,95.40 C377.37,94.06 377.13,91.93 377.74,91.02Z" fill="#e04848" fill-opacity="0.0" stroke="#e04848" stroke-opacity="0.45" stroke-width="0.3"/>
<path d="M378.69,91.90 C379.17,91.17 380.63,91.07 381.60,91.02 C382.58,90.97 383.65,90.97 384.52,91.61 C385.40,92.24 386.32,93.70 386.86,94.82 C387.40,95.94 388.13,97.54 387.74,98.32 C387.35,99.10 385.74,99.49 384.52,99.49 C383.31,99.49 381.41,99.00 380.44,98.32 C379.46,97.64 378.98,96.47 378.69,95.40 C378.39,94.33 378.20,92.63 378.69,91.90Z" fill="#e04848" fill-opacity="0.0" stroke="#e04848" stroke-opacity="0.45" stroke-width="0.3"/>
<path d="M379.63,92.77 C380.00,92.23 381.09,92.15 381.82,92.12 C382.55,92.08 383.36,92.08 384.01,92.55 C384.67,93.03 385.36,94.12 385.77,94.96 C386.17,95.80 386.71,97.01 386.42,97.59 C386.13,98.17 384.93,98.47 384.01,98.47 C383.10,98.47 381.68,98.10 380.95,97.59 C380.22,97.08 379.85,96.20 379.63,95.40 C379.41,94.60 379.27,93.32 379.63,92.77Z" fill="#e04848" fill-opacity="0.0" stroke="#e04848" stroke-opacity="0.45" stroke-width="0.3"/>
<path d="M349.63,108.54 C349.49,107.33 351.97,105.62 354.01,104.60 C356.06,103.58 358.69,102.92 361.90,102.41 C365.11,101.90 369.63,101.79 373.28,101.53 C376.93,101.27 380.58,100.69 383.79,100.83 C387.01,100.98 390.51,101.27 392.55,102.41 C394.60,103.55 396.06,106.06 396.06,107.66 C396.06,109.27 395.33,111.14 392.55,112.04 C389.78,112.95 383.79,112.95 379.41,113.09 C375.04,113.24 370.36,113.12 366.28,112.92 C362.19,112.71 357.66,112.60 354.89,111.87 C352.12,111.14 349.78,109.75 349.63,108.54Z" fill="#e03030" fill-opacity="0.12" stroke="#e03030" stroke-opacity="0.6" stroke-width="0.3"/>
<path d="M353.85,108.48 C353.73,107.40 355.93,105.88 357.75,104.97 C359.57,104.06 361.91,103.48 364.77,103.02 C367.63,102.57 371.65,102.48 374.90,102.24 C378.15,102.01 381.40,101.49 384.26,101.62 C387.12,101.75 390.23,102.01 392.05,103.02 C393.87,104.04 395.17,106.27 395.17,107.70 C395.17,109.13 394.52,110.79 392.05,111.60 C389.58,112.40 384.26,112.40 380.36,112.53 C376.46,112.66 372.30,112.56 368.67,112.38 C365.03,112.20 361.00,112.09 358.53,111.44 C356.06,110.79 353.98,109.56 353.85,108.48Z" fill="#e03030" fill-opacity="0.12" stroke="#e03030" stroke-opacity="0.6" stroke-width="0.3"/>
<path d="M358.08,108.42 C357.96,107.48 359.90,106.14 361.49,105.35 C363.09,104.55 365.13,104.04 367.64,103.64 C370.14,103.24 373.67,103.16 376.52,102.95 C379.37,102.75 382.21,102.29 384.72,102.41 C387.22,102.52 389.96,102.75 391.55,103.64 C393.15,104.53 394.28,106.48 394.28,107.74 C394.28,108.99 393.71,110.45 391.55,111.15 C389.39,111.86 384.72,111.86 381.30,111.97 C377.89,112.09 374.24,112.00 371.06,111.84 C367.87,111.68 364.34,111.59 362.17,111.02 C360.01,110.45 358.19,109.37 358.08,108.42Z" fill="#e03030" fill-opacity="0.12" stroke="#e03030" stroke-opacity="0.6" stroke-width="0.3"/>
<path d="M362.30,108.36 C362.20,107.55 363.86,106.40 365.23,105.72 C366.60,105.04 368.36,104.60 370.51,104.25 C372.66,103.91 375.69,103.84 378.14,103.67 C380.59,103.49 383.03,103.10 385.18,103.20 C387.33,103.29 389.68,103.49 391.05,104.25 C392.42,105.02 393.40,106.70 393.40,107.77 C393.40,108.85 392.91,110.10 391.05,110.71 C389.19,111.31 385.18,111.31 382.25,111.41 C379.31,111.51 376.18,111.43 373.45,111.30 C370.71,111.16 367.67,111.08 365.82,110.59 C363.96,110.10 362.39,109.17 362.30,108.36Z" fill="#e03030" fill-opacity="0.12" stroke="#e03030" stroke-opacity="0.6" stroke-width="0.3"/>
<path d="M366.52,108.30 C366.43,107.62 367.82,106.67 368.97,106.09 C370.11,105.52 371.58,105.15 373.38,104.87 C375.18,104.58 377.72,104.53 379.76,104.38 C381.80,104.23 383.85,103.90 385.64,103.99 C387.44,104.07 389.41,104.23 390.55,104.87 C391.69,105.51 392.51,106.91 392.51,107.81 C392.51,108.71 392.10,109.76 390.55,110.26 C389.00,110.77 385.64,110.77 383.19,110.85 C380.74,110.93 378.12,110.87 375.83,110.75 C373.55,110.64 371.01,110.57 369.46,110.17 C367.91,109.76 366.60,108.98 366.52,108.30Z" fill="#e03030" fill-opacity="0.12" stroke="#e03030" stroke-opacity="0.6" stroke-width="0.3"/>
<path d="M370.74,108.24 C370.67,107.70 371.79,106.93 372.71,106.47 C373.63,106.01 374.81,105.71 376.25,105.48 C377.70,105.25 379.74,105.21 381.38,105.09 C383.02,104.97 384.66,104.71 386.11,104.77 C387.55,104.84 389.13,104.97 390.05,105.48 C390.97,106.00 391.63,107.13 391.63,107.85 C391.63,108.57 391.30,109.41 390.05,109.82 C388.80,110.23 386.11,110.23 384.14,110.29 C382.17,110.36 380.06,110.31 378.22,110.21 C376.39,110.12 374.35,110.07 373.10,109.74 C371.85,109.41 370.80,108.79 370.74,108.24Z" fill="#e03030" fill-opacity="0.12" stroke="#e03030" stroke-opacity="0.6" stroke-width="0.3"/>
<path d="M353.14,107.66 C353.43,106.71 355.33,105.62 357.52,105.04 C359.71,104.45 363.36,104.38 366.28,104.16 C369.20,103.94 372.12,103.87 375.04,103.72 C377.96,103.58 381.02,103.14 383.79,103.28 C386.57,103.43 390.00,103.72 391.68,104.60 C393.36,105.47 394.01,107.44 393.87,108.54 C393.72,109.63 393.21,110.61 390.80,111.17 C388.39,111.72 383.50,111.79 379.41,111.87 C375.33,111.94 370.22,111.79 366.28,111.60 C362.34,111.41 357.96,111.39 355.77,110.73 C353.58,110.07 352.85,108.61 353.14,107.66Z" fill="#c81e1e" fill-opacity="0.22" stroke="#c81e1e" stroke-opacity="0.8" stroke-width="0.3"/>
<path d="M354.37,107.72 C354.64,106.88 356.43,105.90 358.50,105.38 C360.57,104.86 364.01,104.80 366.77,104.60 C369.52,104.41 372.28,104.34 375.03,104.21 C377.79,104.08 380.68,103.69 383.30,103.82 C385.92,103.95 389.15,104.21 390.74,104.99 C392.32,105.77 392.94,107.53 392.81,108.50 C392.67,109.48 392.19,110.35 389.91,110.84 C387.64,111.33 383.02,111.40 379.17,111.46 C375.31,111.53 370.49,111.40 366.77,111.23 C363.05,111.06 358.91,111.04 356.85,110.45 C354.78,109.87 354.09,108.57 354.37,107.72Z" fill="#c81e1e" fill-opacity="0.22" stroke="#c81e1e" stroke-opacity="0.8" stroke-width="0.3"/>
<path d="M355.60,107.78 C355.86,107.04 357.54,106.19 359.48,105.73 C361.43,105.28 364.67,105.22 367.26,105.05 C369.85,104.88 372.44,104.82 375.03,104.71 C377.62,104.59 380.34,104.25 382.80,104.37 C385.27,104.48 388.31,104.71 389.80,105.39 C391.29,106.07 391.87,107.61 391.74,108.46 C391.61,109.32 391.16,110.08 389.02,110.51 C386.89,110.95 382.55,111.00 378.92,111.06 C375.29,111.12 370.76,111.00 367.26,110.86 C363.76,110.71 359.87,110.68 357.93,110.17 C355.99,109.66 355.34,108.52 355.60,107.78Z" fill="#c81e1e" fill-opacity="0.22" stroke="#c81e1e" stroke-opacity="0.8" stroke-width="0.3"/>
<path d="M356.83,107.84 C357.07,107.20 358.65,106.47 360.47,106.08 C362.29,105.69 365.32,105.64 367.75,105.49 C370.18,105.35 372.60,105.30 375.03,105.20 C377.46,105.10 380.00,104.81 382.31,104.91 C384.62,105.00 387.47,105.20 388.86,105.79 C390.26,106.37 390.80,107.69 390.68,108.43 C390.56,109.16 390.14,109.82 388.13,110.19 C386.13,110.56 382.07,110.61 378.67,110.66 C375.27,110.71 371.03,110.61 367.75,110.48 C364.47,110.35 360.83,110.33 359.01,109.89 C357.19,109.45 356.58,108.48 356.83,107.84Z" fill="#c81e1e" fill-opacity="0.22" stroke="#c81e1e" stroke-opacity="0.8" stroke-width="0.3"/>
<path d="M358.06,107.90 C358.28,107.37 359.75,106.75 361.45,106.43 C363.15,106.10 365.98,106.06 368.24,105.94 C370.50,105.81 372.76,105.77 375.03,105.69 C377.29,105.61 379.67,105.37 381.82,105.45 C383.97,105.53 386.62,105.69 387.92,106.18 C389.23,106.67 389.74,107.78 389.62,108.39 C389.51,109.00 389.11,109.55 387.25,109.86 C385.38,110.17 381.59,110.21 378.42,110.25 C375.25,110.29 371.29,110.21 368.24,110.11 C365.18,110.00 361.79,109.98 360.09,109.62 C358.40,109.25 357.83,108.43 358.06,107.90Z" fill="#c81e1e" fill-opacity="0.22" stroke="#c81e1e" stroke-opacity="0.8" stroke-width="0.3"/>
<path d="M359.29,107.96 C359.50,107.53 360.86,107.04 362.43,106.78 C364.01,106.51 366.63,106.48 368.73,106.38 C370.83,106.28 372.93,106.25 375.03,106.18 C377.12,106.12 379.33,105.92 381.32,105.99 C383.31,106.05 385.78,106.18 386.99,106.58 C388.19,106.97 388.67,107.86 388.56,108.35 C388.46,108.85 388.09,109.29 386.36,109.54 C384.63,109.78 381.11,109.82 378.17,109.85 C375.24,109.88 371.56,109.82 368.73,109.73 C365.90,109.65 362.75,109.63 361.18,109.34 C359.60,109.04 359.08,108.39 359.29,107.96Z" fill="#c81e1e" fill-opacity="0.22" stroke="#c81e1e" stroke-opacity="0.8" stroke-width="0.3"/>
<path d="M360.52,108.02 C360.71,107.69 361.97,107.32 363.42,107.12 C364.87,106.93 367.29,106.90 369.22,106.83 C371.16,106.75 373.09,106.73 375.02,106.68 C376.96,106.63 378.99,106.48 380.83,106.53 C382.66,106.58 384.94,106.68 386.05,106.98 C387.16,107.27 387.60,107.94 387.50,108.32 C387.40,108.69 387.06,109.02 385.47,109.21 C383.87,109.40 380.63,109.42 377.92,109.45 C375.22,109.47 371.83,109.42 369.22,109.36 C366.61,109.29 363.71,109.28 362.26,109.06 C360.81,108.84 360.32,108.34 360.52,108.02Z" fill="#c81e1e" fill-opacity="0.22" stroke="#c81e1e" stroke-opacity="0.8" stroke-width="0.3"/>
<path d="M361.75,108.08 C361.92,107.86 363.07,107.61 364.40,107.47 C365.73,107.34 367.94,107.32 369.71,107.27 C371.48,107.22 373.25,107.20 375.02,107.17 C376.79,107.14 378.65,107.04 380.33,107.07 C382.01,107.10 384.09,107.17 385.11,107.37 C386.13,107.57 386.53,108.03 386.44,108.28 C386.35,108.53 386.04,108.75 384.58,108.88 C383.12,109.01 380.15,109.03 377.68,109.04 C375.20,109.06 372.10,109.03 369.71,108.98 C367.32,108.94 364.67,108.93 363.34,108.78 C362.01,108.63 361.57,108.29 361.75,108.08Z" fill="#c81e1e" fill-opacity="0.22" stroke="#c81e1e" stroke-opacity="0.8" stroke-width="0.3"/>
<path d="M362.98,108.14 C363.14,108.02 364.18,107.89 365.38,107.82 C366.59,107.75 368.60,107.74 370.20,107.72 C371.81,107.69 373.41,107.68 375.02,107.66 C376.63,107.65 378.31,107.59 379.84,107.61 C381.36,107.63 383.25,107.66 384.17,107.77 C385.10,107.87 385.46,108.11 385.38,108.24 C385.30,108.37 385.02,108.49 383.69,108.56 C382.37,108.62 379.68,108.63 377.43,108.64 C375.18,108.65 372.37,108.63 370.20,108.61 C368.03,108.59 365.63,108.58 364.42,108.50 C363.22,108.42 362.82,108.25 362.98,108.14Z" fill="#c81e1e" fill-opacity="0.22" stroke="#c81e1e" stroke-opacity="0.8" stroke-width="0.3"/>
<line x1="355.00" y1="107.70" x2="372.00" y2="107.70" stroke="#fff" stroke-width="0.5" stroke-opacity="0.6"/>
<line x1="376.00" y1="107.50" x2="387.00" y2="107.50" stroke="#fff" stroke-width="0.6" stroke-opacity="0.7"/>
<ellipse cx="383.8" cy="107.7" rx="12.3" ry="7.9" fill="none" stroke="#222" stroke-width="0.75"/>
<line x1="407.30" y1="54.00" x2="407.30" y2="59.00" stroke="#e66" stroke-width="0.8"/>
<rect x="65.50" y="170.80" width="95.20" height="98.50" fill="none" stroke="#c4c4c4" stroke-width="0.7"/>
<line x1="63.30" y1="180.70" x2="65.50" y2="180.70" stroke="#555" stroke-width="0.8"/>
<text x="62.50" y="182.80" font-size="5.5" font-weight="bold" text-anchor="end" fill="#1e1e1e" stroke="#1e1e1e" stroke-width="0.22">10<tspan font-size="3.85" dy="-2">5</tspan></text>
<line x1="63.30" y1="203.00" x2="65.50" y2="203.00" stroke="#555" stroke-width="0.8"/>
<text x="62.50" y="205.10" font-size="5.5" font-weight="bold" text-anchor="end" fill="#1e1e1e" stroke="#1e1e1e" stroke-width="0.22">10<tspan font-size="3.85" dy="-2">4</tspan></text>
<line x1="63.30" y1="230.00" x2="65.50" y2="230.00" stroke="#555" stroke-width="0.8"/>
<text x="62.50" y="232.10" font-size="5.5" font-weight="bold" text-anchor="end" fill="#1e1e1e" stroke="#1e1e1e" stroke-width="0.22">10<tspan font-size="3.85" dy="-2">3</tspan></text>
<line x1="63.30" y1="247.40" x2="65.50" y2="247.40" stroke="#555" stroke-width="0.8"/>
<text x="62.50" y="249.50" font-size="5.5" font-weight="bold" text-anchor="end" fill="#1e1e1e" stroke="#1e1e1e" stroke-width="0.22">0</text>
<line x1="63.30" y1="264.00" x2="65.50" y2="264.00" stroke="#555" stroke-width="0.8"/>
<line x1="64.30" y1="221.87" x2="65.50" y2="221.87" stroke="#777" stroke-width="0.6"/>
<line x1="64.30" y1="217.12" x2="65.50" y2="217.12" stroke="#777" stroke-width="0.6"/>
<line x1="64.30" y1="213.74" x2="65.50" y2="213.74" stroke="#777" stroke-width="0.6"/>
<line x1="64.30" y1="211.13" x2="65.50" y2="211.13" stroke="#777" stroke-width="0.6"/>
<line x1="64.30" y1="208.99" x2="65.50" y2="208.99" stroke="#777" stroke-width="0.6"/>
<line x1="64.30" y1="207.18" x2="65.50" y2="207.18" stroke="#777" stroke-width="0.6"/>
<line x1="64.30" y1="205.62" x2="65.50" y2="205.62" stroke="#777" stroke-width="0.6"/>
<line x1="64.30" y1="204.24" x2="65.50" y2="204.24" stroke="#777" stroke-width="0.6"/>
<line x1="64.30" y1="196.29" x2="65.50" y2="196.29" stroke="#777" stroke-width="0.6"/>
<line x1="64.30" y1="192.36" x2="65.50" y2="192.36" stroke="#777" stroke-width="0.6"/>
<line x1="64.30" y1="189.57" x2="65.50" y2="189.57" stroke="#777" stroke-width="0.6"/>
<line x1="64.30" y1="187.41" x2="65.50" y2="187.41" stroke="#777" stroke-width="0.6"/>
<line x1="64.30" y1="185.65" x2="65.50" y2="185.65" stroke="#777" stroke-width="0.6"/>
<line x1="64.30" y1="184.15" x2="65.50" y2="184.15" stroke="#777" stroke-width="0.6"/>
<line x1="64.30" y1="182.86" x2="65.50" y2="182.86" stroke="#777" stroke-width="0.6"/>
<line x1="64.30" y1="181.72" x2="65.50" y2="181.72" stroke="#777" stroke-width="0.6"/>
<line x1="64.30" y1="175.00" x2="65.50" y2="175.00" stroke="#777" stroke-width="0.6"/>
<line x1="64.30" y1="178.00" x2="65.50" y2="178.00" stroke="#777" stroke-width="0.6"/>
<line x1="64.30" y1="235.00" x2="65.50" y2="235.00" stroke="#777" stroke-width="0.6"/>
<line x1="64.30" y1="240.00" x2="65.50" y2="240.00" stroke="#777" stroke-width="0.6"/>
<line x1="64.30" y1="252.00" x2="65.50" y2="252.00" stroke="#777" stroke-width="0.6"/>
<line x1="64.30" y1="256.00" x2="65.50" y2="256.00" stroke="#777" stroke-width="0.6"/>
<line x1="64.30" y1="260.00" x2="65.50" y2="260.00" stroke="#777" stroke-width="0.6"/>
<rect x="64.30" y="245.20" width="1.20" height="4.50" fill="#111" stroke="none" stroke-width="1"/>
<line x1="85.80" y1="269.30" x2="85.80" y2="271.50" stroke="#555" stroke-width="0.8"/>
<text x="85.80" y="277.50" font-size="5.5" font-weight="bold" text-anchor="middle" fill="#1e1e1e" stroke="#1e1e1e" stroke-width="0.22">0</text>
<line x1="101.20" y1="269.30" x2="101.20" y2="271.50" stroke="#555" stroke-width="0.8"/>
<text x="101.20" y="277.50" font-size="5.5" font-weight="bold" text-anchor="middle" fill="#1e1e1e" stroke="#1e1e1e" stroke-width="0.22">10<tspan font-size="3.85" dy="-2">3</tspan></text>
<line x1="127.40" y1="269.30" x2="127.40" y2="271.50" stroke="#555" stroke-width="0.8"/>
<text x="127.40" y="277.50" font-size="5.5" font-weight="bold" text-anchor="middle" fill="#1e1e1e" stroke="#1e1e1e" stroke-width="0.22">10<tspan font-size="3.85" dy="-2">4</tspan></text>
<line x1="149.30" y1="269.30" x2="149.30" y2="271.50" stroke="#555" stroke-width="0.8"/>
<text x="149.30" y="277.50" font-size="5.5" font-weight="bold" text-anchor="middle" fill="#1e1e1e" stroke="#1e1e1e" stroke-width="0.22">10<tspan font-size="3.85" dy="-2">5</tspan></text>
<line x1="69.50" y1="269.30" x2="69.50" y2="270.50" stroke="#777" stroke-width="0.6"/>
<line x1="73.50" y1="269.30" x2="73.50" y2="270.50" stroke="#777" stroke-width="0.6"/>
<line x1="77.50" y1="269.30" x2="77.50" y2="270.50" stroke="#777" stroke-width="0.6"/>
<line x1="81.50" y1="269.30" x2="81.50" y2="270.50" stroke="#777" stroke-width="0.6"/>
<line x1="89.50" y1="269.30" x2="89.50" y2="270.50" stroke="#777" stroke-width="0.6"/>
<line x1="93.50" y1="269.30" x2="93.50" y2="270.50" stroke="#777" stroke-width="0.6"/>
<line x1="97.50" y1="269.30" x2="97.50" y2="270.50" stroke="#777" stroke-width="0.6"/>
<line x1="109.09" y1="269.30" x2="109.09" y2="270.50" stroke="#777" stroke-width="0.6"/>
<line x1="113.70" y1="269.30" x2="113.70" y2="270.50" stroke="#777" stroke-width="0.6"/>
<line x1="116.97" y1="269.30" x2="116.97" y2="270.50" stroke="#777" stroke-width="0.6"/>
<line x1="119.51" y1="269.30" x2="119.51" y2="270.50" stroke="#777" stroke-width="0.6"/>
<line x1="121.59" y1="269.30" x2="121.59" y2="270.50" stroke="#777" stroke-width="0.6"/>
<line x1="123.34" y1="269.30" x2="123.34" y2="270.50" stroke="#777" stroke-width="0.6"/>
<line x1="124.86" y1="269.30" x2="124.86" y2="270.50" stroke="#777" stroke-width="0.6"/>
<line x1="126.20" y1="269.30" x2="126.20" y2="270.50" stroke="#777" stroke-width="0.6"/>
<line x1="133.99" y1="269.30" x2="133.99" y2="270.50" stroke="#777" stroke-width="0.6"/>
<line x1="137.85" y1="269.30" x2="137.85" y2="270.50" stroke="#777" stroke-width="0.6"/>
<line x1="140.59" y1="269.30" x2="140.59" y2="270.50" stroke="#777" stroke-width="0.6"/>
<line x1="142.71" y1="269.30" x2="142.71" y2="270.50" stroke="#777" stroke-width="0.6"/>
<line x1="144.44" y1="269.30" x2="144.44" y2="270.50" stroke="#777" stroke-width="0.6"/>
<line x1="145.91" y1="269.30" x2="145.91" y2="270.50" stroke="#777" stroke-width="0.6"/>
<line x1="147.18" y1="269.30" x2="147.18" y2="270.50" stroke="#777" stroke-width="0.6"/>
<line x1="148.30" y1="269.30" x2="148.30" y2="270.50" stroke="#777" stroke-width="0.6"/>
<line x1="153.00" y1="269.30" x2="153.00" y2="270.50" stroke="#777" stroke-width="0.6"/>
<line x1="157.00" y1="269.30" x2="157.00" y2="270.50" stroke="#777" stroke-width="0.6"/>
<rect x="83.50" y="269.30" width="4.50" height="1.60" fill="#111" stroke="none" stroke-width="1"/>
<text x="45.20" y="166.60" font-size="7" font-weight="bold" fill="#111" stroke="#111" stroke-width="0.25" textLength="8" lengthAdjust="spacingAndGlyphs">(d)</text>
<text x="50.70" y="240.70" font-size="6.2" stroke="#1e1e1e" stroke-width="0.22" text-anchor="middle" fill="#1e1e1e" textLength="36.9" lengthAdjust="spacingAndGlyphs" transform="rotate(-90 50.70 240.70)">CD8- APC.H7</text>
<line x1="47.90" y1="217.90" x2="47.90" y2="199.90" stroke="#a8a8a8" stroke-width="1.0"/>
<path d="M45.90,200.30 L47.90,196.90 L49.90,200.30Z" fill="#111"/>
<text x="74.20" y="289.00" font-size="6.2" stroke="#1e1e1e" stroke-width="0.22" text-anchor="start" fill="#1e1e1e" textLength="31.5" lengthAdjust="spacingAndGlyphs">CD4- AF700</text>
<line x1="110.40" y1="287.10" x2="131.50" y2="287.10" stroke="#333" stroke-width="1.0"/>
<path d="M131.10,285.10 L134.50,287.10 L131.10,289.10Z" fill="#111"/>
<text x="85.8" y="194.5" font-size="6.3" text-anchor="middle" fill="#1e1e1e" stroke="#1e1e1e" stroke-width="0.15">42.3</text>
<text x="130.7" y="261.7" font-size="6.3" text-anchor="middle" fill="#1e1e1e" stroke="#1e1e1e" stroke-width="0.15">53.4</text>
<path d="M82.85,227.12 C82.44,229.52 83.52,237.29 84.05,239.96 C84.59,242.64 85.25,243.17 86.06,243.17 C86.86,243.17 88.20,242.64 88.87,239.96 C89.54,237.29 90.47,229.52 90.07,227.12 C89.67,224.71 87.66,225.51 86.46,225.51 C85.25,225.51 83.25,224.71 82.85,227.12Z" fill="#7a7ae0" fill-opacity="0.0" stroke="#7a7ae0" stroke-opacity="0.55" stroke-width="0.3"/>
<path d="M83.33,227.77 C82.99,229.85 83.91,236.58 84.38,238.90 C84.84,241.22 85.42,241.68 86.12,241.68 C86.81,241.68 87.97,241.22 88.55,238.90 C89.13,236.58 89.94,229.85 89.60,227.77 C89.25,225.68 87.51,226.38 86.46,226.38 C85.42,226.38 83.68,225.68 83.33,227.77Z" fill="#7a7ae0" fill-opacity="0.0" stroke="#7a7ae0" stroke-opacity="0.55" stroke-width="0.3"/>
<path d="M83.82,228.42 C83.53,230.18 84.31,235.88 84.70,237.84 C85.10,239.80 85.59,240.19 86.18,240.19 C86.76,240.19 87.75,239.80 88.24,237.84 C88.73,235.88 89.41,230.18 89.12,228.42 C88.83,226.65 87.35,227.24 86.47,227.24 C85.59,227.24 84.11,226.65 83.82,228.42Z" fill="#7a7ae0" fill-opacity="0.0" stroke="#7a7ae0" stroke-opacity="0.55" stroke-width="0.3"/>
<path d="M84.31,229.07 C84.07,230.51 84.71,235.17 85.03,236.78 C85.35,238.38 85.75,238.70 86.23,238.70 C86.72,238.70 87.52,238.38 87.92,236.78 C88.32,235.17 88.88,230.51 88.64,229.07 C88.40,227.62 87.20,228.11 86.48,228.11 C85.75,228.11 84.55,227.62 84.31,229.07Z" fill="#7a7ae0" fill-opacity="0.0" stroke="#7a7ae0" stroke-opacity="0.55" stroke-width="0.3"/>
<path d="M82.04,215.07 C82.18,213.27 82.51,211.62 83.25,210.66 C83.98,209.69 85.39,209.29 86.46,209.29 C87.53,209.29 88.96,209.69 89.67,210.66 C90.38,211.62 90.62,213.27 90.71,215.07 C90.81,216.88 90.47,219.49 90.23,221.50 C89.99,223.50 89.90,225.24 89.27,227.12 C88.64,228.99 87.42,232.74 86.46,232.74 C85.50,232.74 84.16,228.99 83.49,227.12 C82.82,225.24 82.69,223.50 82.44,221.50 C82.20,219.49 81.91,216.88 82.04,215.07Z" fill="#4238c0" fill-opacity="0.14" stroke="#4238c0" stroke-opacity="0.65" stroke-width="0.3"/>
<path d="M82.49,215.22 C82.61,213.59 82.91,212.11 83.57,211.24 C84.24,210.37 85.50,210.01 86.46,210.01 C87.43,210.01 88.72,210.37 89.35,211.24 C89.99,212.11 90.21,213.59 90.29,215.22 C90.38,216.84 90.08,219.19 89.86,221.00 C89.64,222.80 89.56,224.37 88.99,226.05 C88.43,227.74 87.33,231.11 86.46,231.11 C85.60,231.11 84.39,227.74 83.79,226.05 C83.19,224.37 83.07,222.80 82.85,221.00 C82.63,219.19 82.37,216.84 82.49,215.22Z" fill="#4238c0" fill-opacity="0.14" stroke="#4238c0" stroke-opacity="0.65" stroke-width="0.3"/>
<path d="M82.93,215.36 C83.04,213.91 83.31,212.60 83.90,211.83 C84.49,211.05 85.61,210.73 86.47,210.73 C87.32,210.73 88.47,211.05 89.04,211.83 C89.60,212.60 89.80,213.91 89.87,215.36 C89.95,216.80 89.68,218.89 89.49,220.50 C89.29,222.10 89.22,223.49 88.72,224.99 C88.21,226.49 87.24,229.49 86.47,229.49 C85.70,229.49 84.63,226.49 84.09,224.99 C83.56,223.49 83.45,222.10 83.26,220.50 C83.06,218.89 82.83,216.80 82.93,215.36Z" fill="#4238c0" fill-opacity="0.14" stroke="#4238c0" stroke-opacity="0.65" stroke-width="0.3"/>
<path d="M83.38,215.50 C83.47,214.24 83.71,213.08 84.22,212.41 C84.74,211.74 85.72,211.45 86.47,211.45 C87.22,211.45 88.22,211.74 88.72,212.41 C89.22,213.08 89.38,214.24 89.45,215.50 C89.52,216.77 89.28,218.59 89.11,220.00 C88.94,221.40 88.88,222.62 88.44,223.93 C88.00,225.24 87.15,227.87 86.47,227.87 C85.80,227.87 84.86,225.24 84.39,223.93 C83.92,222.62 83.83,221.40 83.66,220.00 C83.49,218.59 83.29,216.77 83.38,215.50Z" fill="#4238c0" fill-opacity="0.14" stroke="#4238c0" stroke-opacity="0.65" stroke-width="0.3"/>
<path d="M83.83,215.64 C83.91,214.56 84.11,213.57 84.55,212.99 C84.99,212.42 85.83,212.17 86.48,212.17 C87.12,212.17 87.98,212.42 88.40,212.99 C88.83,213.57 88.97,214.56 89.03,215.64 C89.08,216.73 88.88,218.29 88.74,219.50 C88.60,220.70 88.54,221.75 88.16,222.87 C87.78,223.99 87.05,226.24 86.48,226.24 C85.90,226.24 85.09,223.99 84.69,222.87 C84.29,221.75 84.21,220.70 84.07,219.50 C83.92,218.29 83.75,216.73 83.83,215.64Z" fill="#4238c0" fill-opacity="0.14" stroke="#4238c0" stroke-opacity="0.65" stroke-width="0.3"/>
<path d="M84.27,215.79 C84.34,214.88 84.51,214.06 84.87,213.58 C85.24,213.10 85.94,212.90 86.48,212.90 C87.01,212.90 87.73,213.10 88.09,213.58 C88.44,214.06 88.56,214.88 88.61,215.79 C88.65,216.69 88.49,217.99 88.37,219.00 C88.25,220.00 88.20,220.87 87.88,221.81 C87.57,222.74 86.96,224.62 86.48,224.62 C86.00,224.62 85.33,222.74 84.99,221.81 C84.66,220.87 84.59,220.00 84.47,219.00 C84.35,217.99 84.20,216.69 84.27,215.79Z" fill="#4238c0" fill-opacity="0.14" stroke="#4238c0" stroke-opacity="0.65" stroke-width="0.3"/>
<path d="M84.72,215.93 C84.77,215.21 84.90,214.55 85.20,214.16 C85.49,213.78 86.06,213.62 86.48,213.62 C86.91,213.62 87.48,213.78 87.77,214.16 C88.05,214.55 88.15,215.21 88.19,215.93 C88.22,216.65 88.09,217.70 87.99,218.50 C87.90,219.30 87.86,220.00 87.61,220.75 C87.36,221.50 86.87,222.99 86.48,222.99 C86.10,222.99 85.56,221.50 85.30,220.75 C85.03,220.00 84.97,219.30 84.88,218.50 C84.78,217.70 84.66,216.65 84.72,215.93Z" fill="#4238c0" fill-opacity="0.14" stroke="#4238c0" stroke-opacity="0.65" stroke-width="0.3"/>
<path d="M85.16,216.07 C85.20,215.53 85.30,215.04 85.52,214.75 C85.75,214.46 86.17,214.34 86.49,214.34 C86.81,214.34 87.24,214.46 87.45,214.75 C87.66,215.04 87.74,215.53 87.76,216.07 C87.79,216.61 87.69,217.40 87.62,218.00 C87.55,218.60 87.52,219.12 87.33,219.68 C87.14,220.25 86.78,221.37 86.49,221.37 C86.20,221.37 85.80,220.25 85.60,219.68 C85.40,219.12 85.36,218.60 85.28,218.00 C85.21,217.40 85.12,216.61 85.16,216.07Z" fill="#4238c0" fill-opacity="0.14" stroke="#4238c0" stroke-opacity="0.65" stroke-width="0.3"/>
<path d="M85.61,216.21 C85.64,215.85 85.70,215.52 85.85,215.33 C86.00,215.14 86.28,215.06 86.49,215.06 C86.71,215.06 86.99,215.14 87.13,215.33 C87.28,215.52 87.32,215.85 87.34,216.21 C87.36,216.58 87.29,217.10 87.25,217.50 C87.20,217.90 87.18,218.25 87.05,218.62 C86.93,219.00 86.68,219.75 86.49,219.75 C86.30,219.75 86.03,219.00 85.90,218.62 C85.76,218.25 85.74,217.90 85.69,217.50 C85.64,217.10 85.58,216.58 85.61,216.21Z" fill="#4238c0" fill-opacity="0.14" stroke="#4238c0" stroke-opacity="0.65" stroke-width="0.3"/>
<path d="M82.69,245.58 C82.71,244.62 83.18,243.74 83.81,243.17 C84.44,242.61 85.55,242.17 86.46,242.21 C87.37,242.25 88.64,242.72 89.27,243.41 C89.90,244.11 90.27,245.33 90.23,246.38 C90.19,247.44 89.66,249.06 89.03,249.76 C88.40,250.45 87.36,250.69 86.46,250.56 C85.56,250.43 84.28,249.78 83.65,248.95 C83.02,248.12 82.66,246.55 82.69,245.58Z" fill="#3e34b8" fill-opacity="0.22" stroke="#3e34b8" stroke-opacity="0.65" stroke-width="0.3"/>
<path d="M83.22,245.64 C83.24,244.81 83.65,244.05 84.19,243.57 C84.73,243.09 85.68,242.71 86.46,242.74 C87.25,242.78 88.34,243.18 88.88,243.78 C89.42,244.37 89.74,245.42 89.71,246.33 C89.68,247.24 89.22,248.63 88.67,249.23 C88.13,249.83 87.24,250.04 86.46,249.92 C85.69,249.81 84.59,249.25 84.05,248.54 C83.51,247.83 83.20,246.47 83.22,245.64Z" fill="#3e34b8" fill-opacity="0.22" stroke="#3e34b8" stroke-opacity="0.65" stroke-width="0.3"/>
<path d="M83.75,245.70 C83.77,245.01 84.11,244.37 84.56,243.96 C85.02,243.56 85.82,243.24 86.47,243.27 C87.13,243.30 88.04,243.64 88.49,244.14 C88.95,244.64 89.22,245.52 89.19,246.28 C89.16,247.04 88.77,248.20 88.32,248.71 C87.87,249.21 87.12,249.38 86.47,249.28 C85.83,249.19 84.90,248.72 84.45,248.13 C83.99,247.53 83.73,246.39 83.75,245.70Z" fill="#3e34b8" fill-opacity="0.22" stroke="#3e34b8" stroke-opacity="0.65" stroke-width="0.3"/>
<path d="M84.29,245.76 C84.30,245.20 84.57,244.69 84.94,244.36 C85.30,244.03 85.95,243.78 86.48,243.80 C87.00,243.83 87.74,244.10 88.11,244.50 C88.47,244.90 88.69,245.61 88.67,246.22 C88.64,246.84 88.33,247.78 87.97,248.18 C87.60,248.58 87.00,248.72 86.48,248.64 C85.96,248.57 85.21,248.19 84.85,247.71 C84.48,247.23 84.27,246.32 84.29,245.76Z" fill="#3e34b8" fill-opacity="0.22" stroke="#3e34b8" stroke-opacity="0.65" stroke-width="0.3"/>
<path d="M84.82,245.82 C84.83,245.39 85.04,245.00 85.32,244.76 C85.59,244.51 86.08,244.31 86.48,244.33 C86.88,244.35 87.44,244.56 87.72,244.86 C88.00,245.17 88.16,245.70 88.14,246.17 C88.12,246.63 87.89,247.35 87.61,247.65 C87.34,247.96 86.88,248.07 86.48,248.01 C86.09,247.95 85.52,247.66 85.25,247.30 C84.97,246.93 84.81,246.24 84.82,245.82Z" fill="#3e34b8" fill-opacity="0.22" stroke="#3e34b8" stroke-opacity="0.65" stroke-width="0.3"/>
<path d="M85.36,245.87 C85.36,245.59 85.50,245.32 85.69,245.15 C85.88,244.98 86.21,244.85 86.49,244.86 C86.76,244.88 87.14,245.02 87.33,245.22 C87.52,245.43 87.63,245.80 87.62,246.12 C87.61,246.43 87.45,246.92 87.26,247.13 C87.07,247.34 86.76,247.41 86.49,247.37 C86.22,247.33 85.83,247.14 85.64,246.89 C85.46,246.64 85.35,246.16 85.36,245.87Z" fill="#3e34b8" fill-opacity="0.22" stroke="#3e34b8" stroke-opacity="0.65" stroke-width="0.3"/>
<path d="M90.71,246.38 C91.22,245.45 92.12,244.11 93.28,243.57 C94.45,243.04 96.09,242.95 97.70,243.17 C99.31,243.40 101.41,244.07 102.92,244.94 C104.43,245.81 106.21,247.19 106.77,248.39 C107.33,249.60 107.07,251.16 106.29,252.17 C105.51,253.17 103.75,254.04 102.12,254.41 C100.48,254.79 98.21,254.79 96.50,254.41 C94.78,254.04 92.88,253.04 91.84,252.17 C90.79,251.30 90.42,250.16 90.23,249.20 C90.05,248.23 90.21,247.32 90.71,246.38Z" fill="#3529aa" fill-opacity="0.28" stroke="#3529aa" stroke-opacity="0.7" stroke-width="0.3"/>
<path d="M91.39,246.65 C91.85,245.80 92.66,244.60 93.71,244.12 C94.75,243.64 96.23,243.55 97.68,243.76 C99.12,243.96 101.02,244.56 102.38,245.35 C103.74,246.13 105.34,247.37 105.85,248.45 C106.35,249.54 106.11,250.95 105.41,251.85 C104.71,252.75 103.12,253.54 101.65,253.87 C100.18,254.21 98.14,254.21 96.60,253.87 C95.05,253.54 93.34,252.63 92.40,251.85 C91.47,251.07 91.13,250.04 90.96,249.18 C90.79,248.31 90.94,247.49 91.39,246.65Z" fill="#3529aa" fill-opacity="0.28" stroke="#3529aa" stroke-opacity="0.7" stroke-width="0.3"/>
<path d="M92.07,246.91 C92.48,246.16 93.20,245.09 94.13,244.66 C95.06,244.23 96.38,244.16 97.66,244.34 C98.94,244.52 100.63,245.06 101.83,245.75 C103.04,246.45 104.47,247.55 104.92,248.51 C105.37,249.48 105.15,250.73 104.53,251.53 C103.91,252.34 102.50,253.03 101.19,253.33 C99.89,253.63 98.07,253.63 96.70,253.33 C95.33,253.03 93.81,252.23 92.97,251.53 C92.14,250.84 91.84,249.93 91.69,249.16 C91.54,248.39 91.66,247.66 92.07,246.91Z" fill="#3529aa" fill-opacity="0.28" stroke="#3529aa" stroke-opacity="0.7" stroke-width="0.3"/>
<path d="M92.75,247.17 C93.11,246.51 93.73,245.58 94.55,245.20 C95.36,244.83 96.52,244.76 97.64,244.92 C98.76,245.08 100.23,245.55 101.29,246.16 C102.35,246.77 103.60,247.73 103.99,248.57 C104.38,249.42 104.20,250.51 103.65,251.22 C103.11,251.92 101.87,252.53 100.73,252.79 C99.59,253.05 98.00,253.05 96.80,252.79 C95.60,252.53 94.27,251.82 93.54,251.22 C92.81,250.61 92.54,249.81 92.41,249.14 C92.28,248.46 92.39,247.83 92.75,247.17Z" fill="#3529aa" fill-opacity="0.28" stroke="#3529aa" stroke-opacity="0.7" stroke-width="0.3"/>
<path d="M93.43,247.43 C93.73,246.87 94.27,246.07 94.97,245.74 C95.67,245.42 96.66,245.37 97.62,245.50 C98.58,245.64 99.84,246.04 100.75,246.56 C101.66,247.09 102.73,247.91 103.06,248.64 C103.40,249.36 103.24,250.30 102.77,250.90 C102.31,251.50 101.25,252.02 100.27,252.25 C99.29,252.47 97.92,252.47 96.90,252.25 C95.87,252.02 94.73,251.42 94.10,250.90 C93.48,250.38 93.25,249.70 93.14,249.12 C93.03,248.54 93.12,247.99 93.43,247.43Z" fill="#3529aa" fill-opacity="0.28" stroke="#3529aa" stroke-opacity="0.7" stroke-width="0.3"/>
<path d="M94.11,247.69 C94.36,247.22 94.81,246.56 95.39,246.29 C95.97,246.02 96.80,245.97 97.60,246.09 C98.40,246.20 99.45,246.53 100.21,246.97 C100.97,247.40 101.86,248.09 102.14,248.70 C102.42,249.30 102.28,250.08 101.90,250.58 C101.51,251.08 100.62,251.52 99.81,251.71 C98.99,251.89 97.85,251.89 97.00,251.71 C96.14,251.52 95.19,251.02 94.67,250.58 C94.15,250.15 93.96,249.58 93.87,249.10 C93.77,248.62 93.85,248.16 94.11,247.69Z" fill="#3529aa" fill-opacity="0.28" stroke="#3529aa" stroke-opacity="0.7" stroke-width="0.3"/>
<path d="M94.79,247.95 C94.99,247.58 95.35,247.04 95.81,246.83 C96.28,246.62 96.94,246.58 97.58,246.67 C98.22,246.76 99.06,247.03 99.67,247.38 C100.27,247.72 100.98,248.28 101.21,248.76 C101.43,249.24 101.33,249.86 101.02,250.27 C100.71,250.67 100.00,251.02 99.35,251.17 C98.69,251.32 97.78,251.32 97.10,251.17 C96.41,251.02 95.65,250.61 95.24,250.27 C94.82,249.92 94.67,249.46 94.59,249.08 C94.52,248.69 94.58,248.33 94.79,247.95Z" fill="#3529aa" fill-opacity="0.28" stroke="#3529aa" stroke-opacity="0.7" stroke-width="0.3"/>
<path d="M95.46,248.22 C95.62,247.93 95.89,247.53 96.24,247.37 C96.58,247.21 97.08,247.18 97.56,247.25 C98.04,247.32 98.67,247.52 99.13,247.78 C99.58,248.04 100.11,248.46 100.28,248.82 C100.45,249.18 100.37,249.65 100.14,249.95 C99.90,250.25 99.37,250.51 98.88,250.62 C98.39,250.74 97.71,250.74 97.20,250.62 C96.68,250.51 96.11,250.21 95.80,249.95 C95.49,249.69 95.38,249.35 95.32,249.06 C95.26,248.77 95.31,248.50 95.46,248.22Z" fill="#3529aa" fill-opacity="0.28" stroke="#3529aa" stroke-opacity="0.7" stroke-width="0.3"/>
<path d="M96.14,248.48 C96.24,248.29 96.42,248.02 96.66,247.91 C96.89,247.81 97.22,247.79 97.54,247.83 C97.86,247.88 98.28,248.01 98.58,248.19 C98.89,248.36 99.24,248.64 99.35,248.88 C99.47,249.12 99.41,249.43 99.26,249.63 C99.10,249.83 98.75,250.01 98.42,250.08 C98.10,250.16 97.64,250.16 97.30,250.08 C96.96,250.01 96.58,249.81 96.37,249.63 C96.16,249.46 96.08,249.23 96.05,249.04 C96.01,248.85 96.04,248.66 96.14,248.48Z" fill="#3529aa" fill-opacity="0.28" stroke="#3529aa" stroke-opacity="0.7" stroke-width="0.3"/>
<ellipse cx="86.5" cy="216.5" rx="3" ry="6.5" fill="#2a1c9c" fill-opacity="0.45"/>
<ellipse cx="97.5" cy="249" rx="6" ry="3" fill="#2a1c9c" fill-opacity="0.5"/>
<ellipse cx="86.5" cy="246" rx="2.2" ry="2.2" fill="#2a1c9c" fill-opacity="0.4"/>
<ellipse cx="86.5" cy="217" rx="0.5" ry="2.5" fill="#fff" fill-opacity="0.8"/>
<line x1="91.00" y1="249.00" x2="101.00" y2="249.50" stroke="#fff" stroke-width="0.4" stroke-opacity="0.5"/>
<ellipse cx="85.6" cy="219.1" rx="9.3" ry="18.1" fill="none" stroke="#222" stroke-width="0.75"/>
<ellipse cx="104.0" cy="249.6" rx="14.1" ry="14.5" fill="none" stroke="#222" stroke-width="0.75"/>
<path d="M160.30,215.90 H167.60 M163.90,211.50 L167.60,215.90 L163.90,220.30" fill="none" stroke="#5b78c8" stroke-width="0.9"/>
<rect x="190.20" y="172.30" width="93.10" height="95.90" fill="none" stroke="#c4c4c4" stroke-width="0.7"/>
<line x1="188.00" y1="178.50" x2="190.20" y2="178.50" stroke="#555" stroke-width="0.8"/>
<text x="187.20" y="180.60" font-size="5.5" font-weight="bold" text-anchor="end" fill="#1e1e1e" stroke="#1e1e1e" stroke-width="0.22">600</text>
<line x1="188.00" y1="208.70" x2="190.20" y2="208.70" stroke="#555" stroke-width="0.8"/>
<text x="187.20" y="210.80" font-size="5.5" font-weight="bold" text-anchor="end" fill="#1e1e1e" stroke="#1e1e1e" stroke-width="0.22">400</text>
<line x1="188.00" y1="238.70" x2="190.20" y2="238.70" stroke="#555" stroke-width="0.8"/>
<text x="187.20" y="240.80" font-size="5.5" font-weight="bold" text-anchor="end" fill="#1e1e1e" stroke="#1e1e1e" stroke-width="0.22">200</text>
<line x1="188.00" y1="268.20" x2="190.20" y2="268.20" stroke="#555" stroke-width="0.8"/>
<line x1="189.00" y1="186.05" x2="190.20" y2="186.05" stroke="#777" stroke-width="0.6"/>
<line x1="189.00" y1="193.60" x2="190.20" y2="193.60" stroke="#777" stroke-width="0.6"/>
<line x1="189.00" y1="201.15" x2="190.20" y2="201.15" stroke="#777" stroke-width="0.6"/>
<line x1="189.00" y1="216.25" x2="190.20" y2="216.25" stroke="#777" stroke-width="0.6"/>
<line x1="189.00" y1="223.80" x2="190.20" y2="223.80" stroke="#777" stroke-width="0.6"/>
<line x1="189.00" y1="231.35" x2="190.20" y2="231.35" stroke="#777" stroke-width="0.6"/>
<line x1="189.00" y1="246.45" x2="190.20" y2="246.45" stroke="#777" stroke-width="0.6"/>
<line x1="189.00" y1="254.00" x2="190.20" y2="254.00" stroke="#777" stroke-width="0.6"/>
<line x1="189.00" y1="261.55" x2="190.20" y2="261.55" stroke="#777" stroke-width="0.6"/>
<line x1="211.00" y1="268.20" x2="211.00" y2="270.40" stroke="#555" stroke-width="0.8"/>
<text x="211.00" y="276.50" font-size="5.5" font-weight="bold" text-anchor="middle" fill="#1e1e1e" stroke="#1e1e1e" stroke-width="0.22">0</text>
<line x1="226.80" y1="268.20" x2="226.80" y2="270.40" stroke="#555" stroke-width="0.8"/>
<text x="226.80" y="276.50" font-size="5.5" font-weight="bold" text-anchor="middle" fill="#1e1e1e" stroke="#1e1e1e" stroke-width="0.22">10<tspan font-size="3.85" dy="-2">3</tspan></text>
<line x1="253.00" y1="268.20" x2="253.00" y2="270.40" stroke="#555" stroke-width="0.8"/>
<text x="253.00" y="276.50" font-size="5.5" font-weight="bold" text-anchor="middle" fill="#1e1e1e" stroke="#1e1e1e" stroke-width="0.22">10<tspan font-size="3.85" dy="-2">4</tspan></text>
<line x1="273.90" y1="268.20" x2="273.90" y2="270.40" stroke="#555" stroke-width="0.8"/>
<text x="273.90" y="276.50" font-size="5.5" font-weight="bold" text-anchor="middle" fill="#1e1e1e" stroke="#1e1e1e" stroke-width="0.22">10<tspan font-size="3.85" dy="-2">5</tspan></text>
<line x1="194.00" y1="268.20" x2="194.00" y2="269.40" stroke="#777" stroke-width="0.6"/>
<line x1="198.00" y1="268.20" x2="198.00" y2="269.40" stroke="#777" stroke-width="0.6"/>
<line x1="202.00" y1="268.20" x2="202.00" y2="269.40" stroke="#777" stroke-width="0.6"/>
<line x1="206.00" y1="268.20" x2="206.00" y2="269.40" stroke="#777" stroke-width="0.6"/>
<line x1="215.00" y1="268.20" x2="215.00" y2="269.40" stroke="#777" stroke-width="0.6"/>
<line x1="219.00" y1="268.20" x2="219.00" y2="269.40" stroke="#777" stroke-width="0.6"/>
<line x1="223.00" y1="268.20" x2="223.00" y2="269.40" stroke="#777" stroke-width="0.6"/>
<line x1="234.69" y1="268.20" x2="234.69" y2="269.40" stroke="#777" stroke-width="0.6"/>
<line x1="239.30" y1="268.20" x2="239.30" y2="269.40" stroke="#777" stroke-width="0.6"/>
<line x1="242.57" y1="268.20" x2="242.57" y2="269.40" stroke="#777" stroke-width="0.6"/>
<line x1="245.11" y1="268.20" x2="245.11" y2="269.40" stroke="#777" stroke-width="0.6"/>
<line x1="247.19" y1="268.20" x2="247.19" y2="269.40" stroke="#777" stroke-width="0.6"/>
<line x1="248.94" y1="268.20" x2="248.94" y2="269.40" stroke="#777" stroke-width="0.6"/>
<line x1="250.46" y1="268.20" x2="250.46" y2="269.40" stroke="#777" stroke-width="0.6"/>
<line x1="251.80" y1="268.20" x2="251.80" y2="269.40" stroke="#777" stroke-width="0.6"/>
<line x1="259.29" y1="268.20" x2="259.29" y2="269.40" stroke="#777" stroke-width="0.6"/>
<line x1="262.97" y1="268.20" x2="262.97" y2="269.40" stroke="#777" stroke-width="0.6"/>
<line x1="265.58" y1="268.20" x2="265.58" y2="269.40" stroke="#777" stroke-width="0.6"/>
<line x1="267.61" y1="268.20" x2="267.61" y2="269.40" stroke="#777" stroke-width="0.6"/>
<line x1="269.26" y1="268.20" x2="269.26" y2="269.40" stroke="#777" stroke-width="0.6"/>
<line x1="270.66" y1="268.20" x2="270.66" y2="269.40" stroke="#777" stroke-width="0.6"/>
<line x1="271.87" y1="268.20" x2="271.87" y2="269.40" stroke="#777" stroke-width="0.6"/>
<line x1="272.94" y1="268.20" x2="272.94" y2="269.40" stroke="#777" stroke-width="0.6"/>
<line x1="277.50" y1="268.20" x2="277.50" y2="269.40" stroke="#777" stroke-width="0.6"/>
<line x1="281.00" y1="268.20" x2="281.00" y2="269.40" stroke="#777" stroke-width="0.6"/>
<rect x="208.50" y="268.20" width="5.00" height="1.60" fill="#111" stroke="none" stroke-width="1"/>
<text x="172.60" y="166.60" font-size="7" font-weight="bold" fill="#111" stroke="#111" stroke-width="0.25" textLength="8" lengthAdjust="spacingAndGlyphs">(e)</text>
<text x="172.80" y="236.50" font-size="6.2" stroke="#1e1e1e" stroke-width="0.22" text-anchor="middle" fill="#1e1e1e" textLength="16.9" lengthAdjust="spacingAndGlyphs" transform="rotate(-90 172.80 236.50)">Count</text>
<line x1="169.60" y1="221.80" x2="169.60" y2="203.90" stroke="#a8a8a8" stroke-width="1.0"/>
<path d="M167.60,204.30 L169.60,200.90 L171.60,204.30Z" fill="#111"/>
<text x="207.00" y="287.50" font-size="6.2" stroke="#1e1e1e" stroke-width="0.22" text-anchor="start" fill="#1e1e1e" textLength="31.7" lengthAdjust="spacingAndGlyphs">CFSE- FITC</text>
<line x1="241.60" y1="285.30" x2="262.00" y2="285.30" stroke="#333" stroke-width="1.0"/>
<path d="M261.60,283.30 L265.00,285.30 L261.60,287.30Z" fill="#111"/>
<path d="M190.65,268.24 C192.84,268.24 200.69,268.42 203.79,268.24 C206.89,268.06 207.81,268.24 209.27,267.14 C210.73,266.05 211.46,265.14 212.55,261.67 C213.65,258.20 214.81,251.09 215.84,246.34 C216.86,241.60 217.77,236.49 218.68,233.21 C219.59,229.92 220.51,227.91 221.31,226.64 C222.11,225.36 222.77,225.18 223.50,225.54 C224.23,225.91 224.89,226.45 225.69,228.83 C226.49,231.20 227.40,236.31 228.32,239.77 C229.23,243.24 230.14,247.15 231.16,249.63 C232.18,252.11 233.35,253.82 234.45,254.66 C235.54,255.50 236.64,255.14 237.73,254.66 C238.83,254.19 239.92,252.29 241.02,251.82 C242.11,251.34 243.21,251.93 244.30,251.82 C245.40,251.71 246.60,250.98 247.58,251.16 C248.57,251.34 249.30,251.89 250.21,252.91 C251.12,253.93 252.04,256.01 253.06,257.29 C254.08,258.57 255.25,259.48 256.34,260.58 C257.44,261.67 258.53,262.87 259.63,263.86 C260.72,264.85 261.63,265.83 262.91,266.49 C264.19,267.14 265.47,267.51 267.29,267.80 C269.12,268.09 271.20,268.17 273.86,268.24 C276.52,268.31 281.71,268.24 283.28,268.24 Z" fill="#f08c8c" fill-opacity="0.75" stroke="#e25c5c" stroke-width="0.6"/>
<path d="M247.58,268.24 C248.13,267.87 249.96,267.87 250.87,266.05 C251.78,264.23 252.44,262.04 253.06,257.29 C253.68,252.55 254.12,245.25 254.59,237.58 C255.07,229.92 255.50,219.70 255.91,211.31 C256.31,202.92 256.64,192.70 257.00,187.22 C257.37,181.75 257.73,179.56 258.10,178.47 C258.46,177.37 258.82,179.92 259.19,180.65 C259.55,181.38 259.96,180.65 260.28,182.84 C260.61,185.03 260.80,188.32 261.16,193.79 C261.53,199.27 262.00,208.39 262.47,215.69 C262.95,222.99 263.50,231.02 264.01,237.58 C264.52,244.15 264.99,250.54 265.54,255.10 C266.09,259.66 266.63,262.84 267.29,264.96 C267.95,267.07 268.39,267.25 269.48,267.80 C270.58,268.35 273.13,268.17 273.86,268.24 Z" fill="#8ecbe6" fill-opacity="0.7" stroke="#4fb3da" stroke-width="0.6"/>
<line x1="190.20" y1="267.90" x2="283.30" y2="267.90" stroke="#6fb9d9" stroke-width="0.6"/>
<path d="M286.50,215.20 H293.80 M290.10,210.80 L293.80,215.20 L290.10,219.60" fill="none" stroke="#5b78c8" stroke-width="0.9"/>
<rect x="315.20" y="168.00" width="95.80" height="100.20" fill="none" stroke="#c4c4c4" stroke-width="0.7"/>
<line x1="313.00" y1="178.50" x2="315.20" y2="178.50" stroke="#555" stroke-width="0.8"/>
<text x="312.20" y="180.60" font-size="5.5" font-weight="bold" text-anchor="end" fill="#1e1e1e" stroke="#1e1e1e" stroke-width="0.22">10<tspan font-size="3.85" dy="-2">5</tspan></text>
<line x1="313.00" y1="200.80" x2="315.20" y2="200.80" stroke="#555" stroke-width="0.8"/>
<text x="312.20" y="202.90" font-size="5.5" font-weight="bold" text-anchor="end" fill="#1e1e1e" stroke="#1e1e1e" stroke-width="0.22">10<tspan font-size="3.85" dy="-2">4</tspan></text>
<line x1="313.00" y1="227.70" x2="315.20" y2="227.70" stroke="#555" stroke-width="0.8"/>
<text x="312.20" y="229.80" font-size="5.5" font-weight="bold" text-anchor="end" fill="#1e1e1e" stroke="#1e1e1e" stroke-width="0.22">10<tspan font-size="3.85" dy="-2">3</tspan></text>
<line x1="313.00" y1="245.70" x2="315.20" y2="245.70" stroke="#555" stroke-width="0.8"/>
<text x="312.20" y="247.80" font-size="5.5" font-weight="bold" text-anchor="end" fill="#1e1e1e" stroke="#1e1e1e" stroke-width="0.22">0</text>
<line x1="313.00" y1="262.80" x2="315.20" y2="262.80" stroke="#555" stroke-width="0.8"/>
<line x1="314.00" y1="219.60" x2="315.20" y2="219.60" stroke="#777" stroke-width="0.6"/>
<line x1="314.00" y1="214.87" x2="315.20" y2="214.87" stroke="#777" stroke-width="0.6"/>
<line x1="314.00" y1="211.50" x2="315.20" y2="211.50" stroke="#777" stroke-width="0.6"/>
<line x1="314.00" y1="208.90" x2="315.20" y2="208.90" stroke="#777" stroke-width="0.6"/>
<line x1="314.00" y1="206.77" x2="315.20" y2="206.77" stroke="#777" stroke-width="0.6"/>
<line x1="314.00" y1="204.97" x2="315.20" y2="204.97" stroke="#777" stroke-width="0.6"/>
<line x1="314.00" y1="203.41" x2="315.20" y2="203.41" stroke="#777" stroke-width="0.6"/>
<line x1="314.00" y1="202.03" x2="315.20" y2="202.03" stroke="#777" stroke-width="0.6"/>
<line x1="314.00" y1="194.09" x2="315.20" y2="194.09" stroke="#777" stroke-width="0.6"/>
<line x1="314.00" y1="190.16" x2="315.20" y2="190.16" stroke="#777" stroke-width="0.6"/>
<line x1="314.00" y1="187.37" x2="315.20" y2="187.37" stroke="#777" stroke-width="0.6"/>
<line x1="314.00" y1="185.21" x2="315.20" y2="185.21" stroke="#777" stroke-width="0.6"/>
<line x1="314.00" y1="183.45" x2="315.20" y2="183.45" stroke="#777" stroke-width="0.6"/>
<line x1="314.00" y1="181.95" x2="315.20" y2="181.95" stroke="#777" stroke-width="0.6"/>
<line x1="314.00" y1="180.66" x2="315.20" y2="180.66" stroke="#777" stroke-width="0.6"/>
<line x1="314.00" y1="179.52" x2="315.20" y2="179.52" stroke="#777" stroke-width="0.6"/>
<line x1="314.00" y1="172.00" x2="315.20" y2="172.00" stroke="#777" stroke-width="0.6"/>
<line x1="314.00" y1="175.00" x2="315.20" y2="175.00" stroke="#777" stroke-width="0.6"/>
<line x1="314.00" y1="233.00" x2="315.20" y2="233.00" stroke="#777" stroke-width="0.6"/>
<line x1="314.00" y1="238.00" x2="315.20" y2="238.00" stroke="#777" stroke-width="0.6"/>
<line x1="314.00" y1="250.00" x2="315.20" y2="250.00" stroke="#777" stroke-width="0.6"/>
<line x1="314.00" y1="254.00" x2="315.20" y2="254.00" stroke="#777" stroke-width="0.6"/>
<line x1="314.00" y1="258.00" x2="315.20" y2="258.00" stroke="#777" stroke-width="0.6"/>
<rect x="314.00" y="243.50" width="1.20" height="4.50" fill="#111" stroke="none" stroke-width="1"/>
<line x1="336.00" y1="268.20" x2="336.00" y2="270.40" stroke="#555" stroke-width="0.8"/>
<text x="336.00" y="277.00" font-size="5.5" font-weight="bold" text-anchor="middle" fill="#1e1e1e" stroke="#1e1e1e" stroke-width="0.22">0</text>
<line x1="352.40" y1="268.20" x2="352.40" y2="270.40" stroke="#555" stroke-width="0.8"/>
<text x="352.40" y="277.00" font-size="5.5" font-weight="bold" text-anchor="middle" fill="#1e1e1e" stroke="#1e1e1e" stroke-width="0.22">10<tspan font-size="3.85" dy="-2">3</tspan></text>
<line x1="378.70" y1="268.20" x2="378.70" y2="270.40" stroke="#555" stroke-width="0.8"/>
<text x="378.70" y="277.00" font-size="5.5" font-weight="bold" text-anchor="middle" fill="#1e1e1e" stroke="#1e1e1e" stroke-width="0.22">10<tspan font-size="3.85" dy="-2">4</tspan></text>
<line x1="399.50" y1="268.20" x2="399.50" y2="270.40" stroke="#555" stroke-width="0.8"/>
<text x="399.50" y="277.00" font-size="5.5" font-weight="bold" text-anchor="middle" fill="#1e1e1e" stroke="#1e1e1e" stroke-width="0.22">10<tspan font-size="3.85" dy="-2">5</tspan></text>
<line x1="319.00" y1="268.20" x2="319.00" y2="269.40" stroke="#777" stroke-width="0.6"/>
<line x1="323.00" y1="268.20" x2="323.00" y2="269.40" stroke="#777" stroke-width="0.6"/>
<line x1="327.00" y1="268.20" x2="327.00" y2="269.40" stroke="#777" stroke-width="0.6"/>
<line x1="331.00" y1="268.20" x2="331.00" y2="269.40" stroke="#777" stroke-width="0.6"/>
<line x1="340.00" y1="268.20" x2="340.00" y2="269.40" stroke="#777" stroke-width="0.6"/>
<line x1="344.00" y1="268.20" x2="344.00" y2="269.40" stroke="#777" stroke-width="0.6"/>
<line x1="348.00" y1="268.20" x2="348.00" y2="269.40" stroke="#777" stroke-width="0.6"/>
<line x1="360.32" y1="268.20" x2="360.32" y2="269.40" stroke="#777" stroke-width="0.6"/>
<line x1="364.95" y1="268.20" x2="364.95" y2="269.40" stroke="#777" stroke-width="0.6"/>
<line x1="368.23" y1="268.20" x2="368.23" y2="269.40" stroke="#777" stroke-width="0.6"/>
<line x1="370.78" y1="268.20" x2="370.78" y2="269.40" stroke="#777" stroke-width="0.6"/>
<line x1="372.87" y1="268.20" x2="372.87" y2="269.40" stroke="#777" stroke-width="0.6"/>
<line x1="374.63" y1="268.20" x2="374.63" y2="269.40" stroke="#777" stroke-width="0.6"/>
<line x1="376.15" y1="268.20" x2="376.15" y2="269.40" stroke="#777" stroke-width="0.6"/>
<line x1="377.50" y1="268.20" x2="377.50" y2="269.40" stroke="#777" stroke-width="0.6"/>
<line x1="384.96" y1="268.20" x2="384.96" y2="269.40" stroke="#777" stroke-width="0.6"/>
<line x1="388.62" y1="268.20" x2="388.62" y2="269.40" stroke="#777" stroke-width="0.6"/>
<line x1="391.22" y1="268.20" x2="391.22" y2="269.40" stroke="#777" stroke-width="0.6"/>
<line x1="393.24" y1="268.20" x2="393.24" y2="269.40" stroke="#777" stroke-width="0.6"/>
<line x1="394.89" y1="268.20" x2="394.89" y2="269.40" stroke="#777" stroke-width="0.6"/>
<line x1="396.28" y1="268.20" x2="396.28" y2="269.40" stroke="#777" stroke-width="0.6"/>
<line x1="397.48" y1="268.20" x2="397.48" y2="269.40" stroke="#777" stroke-width="0.6"/>
<line x1="398.55" y1="268.20" x2="398.55" y2="269.40" stroke="#777" stroke-width="0.6"/>
<line x1="403.50" y1="268.20" x2="403.50" y2="269.40" stroke="#777" stroke-width="0.6"/>
<line x1="407.50" y1="268.20" x2="407.50" y2="269.40" stroke="#777" stroke-width="0.6"/>
<rect x="334.00" y="268.20" width="4.50" height="1.60" fill="#111" stroke="none" stroke-width="1"/>
<text x="301.20" y="165.60" font-size="7" font-weight="bold" fill="#111" stroke="#111" stroke-width="0.25" textLength="8" lengthAdjust="spacingAndGlyphs">(f)</text>
<text x="299.20" y="235.30" font-size="6.2" stroke="#1e1e1e" stroke-width="0.22" text-anchor="middle" fill="#1e1e1e" textLength="46.5" lengthAdjust="spacingAndGlyphs" transform="rotate(-90 299.20 235.30)">CD45RA- PE-Cy7</text>
<line x1="297.50" y1="206.00" x2="297.50" y2="188.00" stroke="#555" stroke-width="1.0"/>
<path d="M295.50,188.40 L297.50,185.00 L299.50,188.40Z" fill="#111"/>
<text x="327.50" y="289.00" font-size="6.2" stroke="#1e1e1e" stroke-width="0.22" text-anchor="start" fill="#1e1e1e" textLength="35.0" lengthAdjust="spacingAndGlyphs">CCR7- AF647</text>
<line x1="369.10" y1="286.80" x2="389.90" y2="286.80" stroke="#333" stroke-width="1.0"/>
<path d="M389.50,284.80 L392.90,286.80 L389.50,288.80Z" fill="#111"/>
<path d="M354.20,241.50 C349.18,238.49 354.17,228.37 354.48,223.47 C354.80,218.57 354.96,215.17 356.10,212.08 C357.23,209.00 358.86,206.36 361.32,204.96 C363.77,203.57 367.72,203.68 370.80,203.73 C373.89,203.78 377.64,203.86 379.82,205.25 C382.00,206.64 383.16,209.04 383.90,212.08 C384.64,215.12 384.33,219.67 384.28,223.47 C384.23,227.26 383.57,231.85 383.62,234.86 C383.66,237.86 389.47,240.39 384.56,241.50 C379.66,242.61 359.21,244.50 354.20,241.50Z" fill="#a46ad0" fill-opacity="0.045" stroke="#a46ad0" stroke-opacity="0.55" stroke-width="0.3"/>
<path d="M355.34,240.63 C350.65,237.82 355.31,228.35 355.61,223.76 C355.90,219.17 356.05,215.99 357.12,213.10 C358.18,210.22 359.71,207.75 362.00,206.44 C364.30,205.14 368.00,205.25 370.88,205.29 C373.77,205.33 377.27,205.41 379.32,206.71 C381.36,208.01 382.44,210.26 383.14,213.10 C383.83,215.95 383.53,220.21 383.49,223.76 C383.45,227.31 382.82,231.60 382.87,234.42 C382.91,237.23 388.34,239.59 383.76,240.63 C379.17,241.67 360.03,243.44 355.34,240.63Z" fill="#a46ad0" fill-opacity="0.045" stroke="#a46ad0" stroke-opacity="0.55" stroke-width="0.3"/>
<path d="M356.49,239.76 C352.12,237.14 356.46,228.32 356.74,224.05 C357.01,219.78 357.15,216.82 358.14,214.13 C359.13,211.44 360.55,209.14 362.69,207.93 C364.83,206.71 368.27,206.81 370.96,206.85 C373.65,206.89 376.91,206.96 378.81,208.17 C380.72,209.39 381.72,211.48 382.37,214.13 C383.02,216.77 382.74,220.74 382.70,224.05 C382.66,227.36 382.08,231.36 382.12,233.97 C382.16,236.59 387.22,238.80 382.95,239.76 C378.68,240.73 360.86,242.38 356.49,239.76Z" fill="#a46ad0" fill-opacity="0.045" stroke="#a46ad0" stroke-opacity="0.55" stroke-width="0.3"/>
<path d="M357.63,238.90 C353.58,236.47 357.61,228.30 357.86,224.34 C358.12,220.39 358.24,217.64 359.16,215.15 C360.08,212.66 361.40,210.53 363.38,209.41 C365.35,208.28 368.55,208.37 371.04,208.41 C373.52,208.45 376.55,208.51 378.31,209.64 C380.07,210.76 381.01,212.70 381.61,215.15 C382.21,217.60 381.95,221.28 381.91,224.34 C381.87,227.41 381.34,231.11 381.38,233.53 C381.41,235.96 386.10,238.00 382.14,238.90 C378.18,239.79 361.68,241.32 357.63,238.90Z" fill="#a46ad0" fill-opacity="0.045" stroke="#a46ad0" stroke-opacity="0.55" stroke-width="0.3"/>
<path d="M358.78,238.03 C355.05,235.80 358.75,228.28 358.99,224.63 C359.22,220.99 359.34,218.47 360.19,216.17 C361.03,213.88 362.24,211.92 364.06,210.89 C365.88,209.85 368.82,209.94 371.11,209.97 C373.40,210.01 376.19,210.07 377.81,211.10 C379.43,212.13 380.29,213.92 380.84,216.17 C381.39,218.43 381.16,221.81 381.12,224.63 C381.09,227.45 380.59,230.86 380.63,233.09 C380.66,235.33 384.98,237.20 381.33,238.03 C377.69,238.85 362.50,240.26 358.78,238.03Z" fill="#a46ad0" fill-opacity="0.045" stroke="#a46ad0" stroke-opacity="0.55" stroke-width="0.3"/>
<path d="M359.92,237.16 C356.52,235.12 359.90,228.25 360.11,224.92 C360.33,221.60 360.44,219.29 361.21,217.20 C361.98,215.11 363.09,213.31 364.75,212.37 C366.41,211.42 369.10,211.50 371.19,211.53 C373.28,211.56 375.83,211.62 377.31,212.56 C378.79,213.51 379.57,215.14 380.08,217.20 C380.58,219.26 380.36,222.35 380.33,224.92 C380.30,227.50 379.85,230.61 379.88,232.65 C379.91,234.69 383.85,236.41 380.53,237.16 C377.20,237.91 363.32,239.20 359.92,237.16Z" fill="#a46ad0" fill-opacity="0.045" stroke="#a46ad0" stroke-opacity="0.55" stroke-width="0.3"/>
<path d="M361.06,236.29 C357.98,234.45 361.05,228.23 361.24,225.22 C361.43,222.20 361.53,220.12 362.23,218.22 C362.93,216.33 363.93,214.70 365.44,213.85 C366.94,212.99 369.37,213.06 371.27,213.09 C373.16,213.12 375.46,213.17 376.80,214.02 C378.14,214.88 378.85,216.36 379.31,218.22 C379.77,220.09 379.57,222.88 379.54,225.22 C379.51,227.55 379.11,230.37 379.14,232.21 C379.16,234.06 382.73,235.61 379.72,236.29 C376.71,236.97 364.14,238.14 361.06,236.29Z" fill="#a46ad0" fill-opacity="0.045" stroke="#a46ad0" stroke-opacity="0.55" stroke-width="0.3"/>
<path d="M362.21,235.42 C359.45,233.77 362.19,228.20 362.37,225.51 C362.54,222.81 362.63,220.94 363.25,219.24 C363.88,217.55 364.78,216.10 366.12,215.33 C367.47,214.56 369.65,214.63 371.34,214.65 C373.04,214.68 375.10,214.72 376.30,215.49 C377.50,216.25 378.14,217.57 378.55,219.24 C378.95,220.91 378.78,223.42 378.75,225.51 C378.73,227.60 378.36,230.12 378.39,231.77 C378.41,233.42 381.61,234.82 378.91,235.42 C376.21,236.03 364.97,237.08 362.21,235.42Z" fill="#a46ad0" fill-opacity="0.045" stroke="#a46ad0" stroke-opacity="0.55" stroke-width="0.3"/>
<path d="M334.74,249.09 C334.74,247.48 335.22,245.45 337.59,244.35 C339.96,243.24 343.92,242.76 348.98,242.45 C354.04,242.13 362.26,242.45 367.96,242.45 C373.65,242.45 379.90,241.50 383.14,242.45 C386.38,243.40 387.41,246.16 387.41,248.14 C387.41,250.12 386.38,253.01 383.14,254.31 C379.90,255.61 373.65,255.65 367.96,255.92 C362.26,256.19 354.04,256.24 348.98,255.92 C343.92,255.61 339.96,255.16 337.59,254.02 C335.22,252.89 334.74,250.70 334.74,249.09Z" fill="#a46ad0" fill-opacity="0.045" stroke="#a46ad0" stroke-opacity="0.55" stroke-width="0.3"/>
<path d="M335.62,249.17 C335.62,247.69 336.06,245.84 338.30,244.83 C340.54,243.82 344.27,243.38 349.04,243.09 C353.81,242.81 361.56,243.09 366.93,243.09 C372.30,243.09 378.19,242.23 381.25,243.09 C384.30,243.96 385.27,246.49 385.27,248.30 C385.27,250.11 384.30,252.75 381.25,253.94 C378.19,255.13 372.30,255.17 366.93,255.41 C361.56,255.66 353.81,255.70 349.04,255.41 C344.27,255.13 340.54,254.72 338.30,253.68 C336.06,252.64 335.62,250.64 335.62,249.17Z" fill="#a46ad0" fill-opacity="0.045" stroke="#a46ad0" stroke-opacity="0.55" stroke-width="0.3"/>
<path d="M336.49,249.25 C336.49,247.91 336.91,246.23 339.01,245.31 C341.11,244.40 344.61,244.00 349.10,243.74 C353.58,243.48 360.86,243.74 365.91,243.74 C370.95,243.74 376.48,242.96 379.35,243.74 C382.23,244.53 383.14,246.82 383.14,248.46 C383.14,250.10 382.23,252.50 379.35,253.57 C376.48,254.65 370.95,254.68 365.91,254.91 C360.86,255.13 353.58,255.17 349.10,254.91 C344.61,254.65 341.11,254.28 339.01,253.33 C336.91,252.39 336.49,250.58 336.49,249.25Z" fill="#a46ad0" fill-opacity="0.045" stroke="#a46ad0" stroke-opacity="0.55" stroke-width="0.3"/>
<path d="M337.36,249.32 C337.36,248.13 337.75,246.62 339.72,245.80 C341.68,244.98 344.96,244.62 349.15,244.39 C353.35,244.15 360.16,244.39 364.88,244.39 C369.60,244.39 374.77,243.68 377.46,244.39 C380.15,245.09 381.00,247.15 381.00,248.62 C381.00,250.09 380.15,252.24 377.46,253.20 C374.77,254.16 369.60,254.20 364.88,254.40 C360.16,254.60 353.35,254.63 349.15,254.40 C344.96,254.16 341.68,253.84 339.72,252.99 C337.75,252.14 337.36,250.52 337.36,249.32Z" fill="#a46ad0" fill-opacity="0.045" stroke="#a46ad0" stroke-opacity="0.55" stroke-width="0.3"/>
<path d="M338.23,249.40 C338.23,248.34 338.60,247.01 340.43,246.28 C342.26,245.56 345.31,245.24 349.21,245.04 C353.12,244.83 359.46,245.04 363.85,245.04 C368.25,245.04 373.06,244.41 375.57,245.04 C378.07,245.66 378.86,247.48 378.86,248.78 C378.86,250.08 378.07,251.98 375.57,252.83 C373.06,253.68 368.25,253.72 363.85,253.89 C359.46,254.07 353.12,254.10 349.21,253.89 C345.31,253.68 342.26,253.39 340.43,252.64 C338.60,251.90 338.23,250.46 338.23,249.40Z" fill="#a46ad0" fill-opacity="0.045" stroke="#a46ad0" stroke-opacity="0.55" stroke-width="0.3"/>
<path d="M339.10,249.48 C339.10,248.56 339.44,247.40 341.14,246.77 C342.83,246.14 345.66,245.86 349.27,245.68 C352.89,245.50 358.76,245.68 362.83,245.68 C366.89,245.68 371.36,245.14 373.67,245.68 C375.99,246.23 376.72,247.81 376.72,248.94 C376.72,250.07 375.99,251.72 373.67,252.46 C371.36,253.20 366.89,253.23 362.83,253.38 C358.76,253.54 352.89,253.56 349.27,253.38 C345.66,253.20 342.83,252.95 341.14,252.30 C339.44,251.65 339.10,250.40 339.10,249.48Z" fill="#a46ad0" fill-opacity="0.045" stroke="#a46ad0" stroke-opacity="0.55" stroke-width="0.3"/>
<path d="M339.98,249.56 C339.98,248.77 340.29,247.79 341.85,247.25 C343.40,246.72 346.00,246.49 349.33,246.33 C352.65,246.18 358.06,246.33 361.80,246.33 C365.54,246.33 369.65,245.87 371.78,246.33 C373.91,246.79 374.58,248.14 374.58,249.10 C374.58,250.06 373.91,251.46 371.78,252.09 C369.65,252.72 365.54,252.75 361.80,252.88 C358.06,253.01 352.65,253.03 349.33,252.88 C346.00,252.72 343.40,252.51 341.85,251.95 C340.29,251.40 339.98,250.34 339.98,249.56Z" fill="#a46ad0" fill-opacity="0.045" stroke="#a46ad0" stroke-opacity="0.55" stroke-width="0.3"/>
<path d="M340.85,249.64 C340.85,248.99 341.13,248.18 342.55,247.74 C343.98,247.30 346.35,247.11 349.39,246.98 C352.42,246.85 357.36,246.98 360.77,246.98 C364.19,246.98 367.94,246.60 369.88,246.98 C371.83,247.36 372.45,248.47 372.45,249.26 C372.45,250.05 371.83,251.20 369.88,251.72 C367.94,252.24 364.19,252.26 360.77,252.37 C357.36,252.48 352.42,252.50 349.39,252.37 C346.35,252.24 343.98,252.07 342.55,251.61 C341.13,251.15 340.85,250.28 340.85,249.64Z" fill="#a46ad0" fill-opacity="0.045" stroke="#a46ad0" stroke-opacity="0.55" stroke-width="0.3"/>
<path d="M362.26,217.77 C362.11,214.14 362.77,211.10 364.35,209.23 C365.93,207.37 369.33,206.58 371.75,206.58 C374.17,206.58 377.48,207.05 378.87,209.23 C380.26,211.42 380.26,216.03 380.10,219.67 C379.95,223.31 378.84,227.66 377.92,231.06 C377.00,234.46 375.94,238.57 374.60,240.07 C373.26,241.58 371.41,241.58 369.86,240.07 C368.31,238.57 366.57,234.78 365.30,231.06 C364.04,227.34 362.42,221.41 362.26,217.77Z" fill="#6a1fa0" fill-opacity="0.17" stroke="#6a1fa0" stroke-opacity="0.75" stroke-width="0.3"/>
<path d="M362.79,217.90 C362.64,214.46 363.27,211.59 364.77,209.83 C366.26,208.07 369.47,207.32 371.76,207.32 C374.04,207.32 377.16,207.77 378.48,209.83 C379.79,211.89 379.79,216.26 379.64,219.69 C379.49,223.13 378.45,227.23 377.58,230.45 C376.72,233.66 375.71,237.54 374.44,238.96 C373.18,240.38 371.43,240.38 369.96,238.96 C368.50,237.54 366.86,233.96 365.66,230.45 C364.47,226.94 362.94,221.33 362.79,217.90Z" fill="#6a1fa0" fill-opacity="0.17" stroke="#6a1fa0" stroke-opacity="0.75" stroke-width="0.3"/>
<path d="M363.32,218.02 C363.18,214.79 363.77,212.09 365.18,210.43 C366.59,208.77 369.61,208.07 371.76,208.07 C373.91,208.07 376.85,208.49 378.09,210.43 C379.32,212.37 379.32,216.48 379.18,219.71 C379.04,222.94 378.06,226.81 377.24,229.83 C376.43,232.85 375.48,236.51 374.29,237.84 C373.09,239.18 371.45,239.18 370.07,237.84 C368.69,236.51 367.15,233.13 366.02,229.83 C364.90,226.53 363.46,221.26 363.32,218.02Z" fill="#6a1fa0" fill-opacity="0.17" stroke="#6a1fa0" stroke-opacity="0.75" stroke-width="0.3"/>
<path d="M363.85,218.15 C363.72,215.11 364.28,212.58 365.59,211.03 C366.91,209.47 369.74,208.81 371.76,208.81 C373.78,208.81 376.53,209.21 377.69,211.03 C378.85,212.85 378.85,216.70 378.72,219.73 C378.59,222.76 377.67,226.38 376.90,229.22 C376.14,232.05 375.25,235.48 374.13,236.73 C373.01,237.98 371.47,237.98 370.18,236.73 C368.89,235.48 367.44,232.31 366.38,229.22 C365.33,226.12 363.99,221.18 363.85,218.15Z" fill="#6a1fa0" fill-opacity="0.17" stroke="#6a1fa0" stroke-opacity="0.75" stroke-width="0.3"/>
<path d="M364.38,218.27 C364.26,215.44 364.78,213.08 366.01,211.63 C367.24,210.18 369.88,209.56 371.76,209.56 C373.65,209.56 376.22,209.93 377.30,211.63 C378.38,213.32 378.38,216.92 378.26,219.75 C378.14,222.57 377.27,225.96 376.56,228.60 C375.85,231.25 375.02,234.45 373.98,235.61 C372.93,236.78 371.49,236.78 370.29,235.61 C369.08,234.45 367.73,231.49 366.75,228.60 C365.76,225.71 364.51,221.10 364.38,218.27Z" fill="#6a1fa0" fill-opacity="0.17" stroke="#6a1fa0" stroke-opacity="0.75" stroke-width="0.3"/>
<path d="M364.91,218.39 C364.80,215.77 365.28,213.57 366.42,212.22 C367.56,210.88 370.02,210.31 371.77,210.31 C373.51,210.31 375.90,210.65 376.91,212.22 C377.91,213.80 377.91,217.14 377.80,219.76 C377.68,222.39 376.88,225.53 376.22,227.99 C375.56,230.44 374.79,233.41 373.82,234.50 C372.85,235.58 371.52,235.58 370.40,234.50 C369.28,233.41 368.02,230.67 367.11,227.99 C366.19,225.30 365.03,221.02 364.91,218.39Z" fill="#6a1fa0" fill-opacity="0.17" stroke="#6a1fa0" stroke-opacity="0.75" stroke-width="0.3"/>
<path d="M365.44,218.52 C365.34,216.09 365.78,214.07 366.83,212.82 C367.89,211.58 370.16,211.05 371.77,211.05 C373.38,211.05 375.59,211.37 376.51,212.82 C377.44,214.28 377.44,217.36 377.34,219.78 C377.23,222.21 376.49,225.11 375.88,227.37 C375.27,229.64 374.56,232.38 373.67,233.38 C372.77,234.38 371.54,234.38 370.50,233.38 C369.47,232.38 368.31,229.85 367.47,227.37 C366.62,224.90 365.55,220.94 365.44,218.52Z" fill="#6a1fa0" fill-opacity="0.17" stroke="#6a1fa0" stroke-opacity="0.75" stroke-width="0.3"/>
<path d="M365.97,218.64 C365.88,216.42 366.28,214.56 367.25,213.42 C368.21,212.28 370.29,211.80 371.77,211.80 C373.25,211.80 375.27,212.09 376.12,213.42 C376.97,214.75 376.97,217.58 376.87,219.80 C376.78,222.02 376.10,224.68 375.54,226.76 C374.98,228.84 374.33,231.35 373.51,232.27 C372.69,233.19 371.56,233.19 370.61,232.27 C369.66,231.35 368.60,229.03 367.83,226.76 C367.06,224.49 366.07,220.86 365.97,218.64Z" fill="#6a1fa0" fill-opacity="0.17" stroke="#6a1fa0" stroke-opacity="0.75" stroke-width="0.3"/>
<path d="M366.50,218.76 C366.41,216.74 366.78,215.06 367.66,214.02 C368.54,212.98 370.43,212.54 371.77,212.54 C373.12,212.54 374.95,212.81 375.73,214.02 C376.50,215.23 376.50,217.80 376.41,219.82 C376.33,221.84 375.71,224.26 375.20,226.14 C374.69,228.03 374.10,230.32 373.36,231.15 C372.61,231.99 371.58,231.99 370.72,231.15 C369.86,230.32 368.89,228.21 368.19,226.14 C367.49,224.08 366.59,220.78 366.50,218.76Z" fill="#6a1fa0" fill-opacity="0.17" stroke="#6a1fa0" stroke-opacity="0.75" stroke-width="0.3"/>
<path d="M367.03,218.89 C366.95,217.07 367.29,215.55 368.08,214.62 C368.87,213.68 370.57,213.29 371.78,213.29 C372.99,213.29 374.64,213.53 375.34,214.62 C376.03,215.71 376.03,218.02 375.95,219.84 C375.87,221.66 375.32,223.83 374.86,225.53 C374.40,227.23 373.87,229.29 373.20,230.04 C372.53,230.79 371.60,230.79 370.83,230.04 C370.05,229.29 369.18,227.39 368.55,225.53 C367.92,223.67 367.11,220.71 367.03,218.89Z" fill="#6a1fa0" fill-opacity="0.17" stroke="#6a1fa0" stroke-opacity="0.75" stroke-width="0.3"/>
<path d="M341.86,249.09 C341.86,247.62 342.89,245.40 345.66,244.54 C348.43,243.67 354.12,243.98 358.47,243.87 C362.82,243.76 368.83,243.16 371.75,243.87 C374.68,244.58 376.02,246.64 376.02,248.14 C376.02,249.64 374.68,251.98 371.75,252.89 C368.83,253.79 362.82,253.47 358.47,253.55 C354.12,253.63 348.43,254.10 345.66,253.36 C342.89,252.62 341.86,250.56 341.86,249.09Z" fill="#6a1fa0" fill-opacity="0.17" stroke="#6a1fa0" stroke-opacity="0.75" stroke-width="0.3"/>
<path d="M342.31,249.10 C342.31,247.77 343.29,245.76 345.94,244.98 C348.58,244.19 354.02,244.47 358.18,244.37 C362.34,244.27 368.08,243.73 370.88,244.37 C373.67,245.02 374.96,246.88 374.96,248.24 C374.96,249.60 373.67,251.72 370.88,252.54 C368.08,253.35 362.34,253.07 358.18,253.14 C354.02,253.21 348.58,253.64 345.94,252.97 C343.29,252.29 342.31,250.43 342.31,249.10Z" fill="#6a1fa0" fill-opacity="0.17" stroke="#6a1fa0" stroke-opacity="0.75" stroke-width="0.3"/>
<path d="M342.76,249.11 C342.76,247.92 343.70,246.12 346.22,245.42 C348.74,244.71 353.93,244.97 357.89,244.88 C361.86,244.79 367.33,244.30 370.00,244.88 C372.66,245.45 373.89,247.12 373.89,248.34 C373.89,249.56 372.66,251.46 370.00,252.19 C367.33,252.92 361.86,252.66 357.89,252.73 C353.93,252.79 348.74,253.18 346.22,252.57 C343.70,251.97 342.76,250.30 342.76,249.11Z" fill="#6a1fa0" fill-opacity="0.17" stroke="#6a1fa0" stroke-opacity="0.75" stroke-width="0.3"/>
<path d="M343.21,249.12 C343.21,248.07 344.10,246.48 346.50,245.86 C348.90,245.23 353.84,245.46 357.61,245.38 C361.38,245.30 366.58,244.87 369.12,245.38 C371.66,245.89 372.82,247.36 372.82,248.44 C372.82,249.52 371.66,251.20 369.12,251.84 C366.58,252.49 361.38,252.26 357.61,252.32 C353.84,252.37 348.90,252.71 346.50,252.18 C344.10,251.65 343.21,250.18 343.21,249.12Z" fill="#6a1fa0" fill-opacity="0.17" stroke="#6a1fa0" stroke-opacity="0.75" stroke-width="0.3"/>
<path d="M343.66,249.13 C343.66,248.22 344.51,246.84 346.79,246.30 C349.06,245.76 353.74,245.95 357.32,245.88 C360.89,245.82 365.84,245.44 368.24,245.88 C370.65,246.33 371.75,247.61 371.75,248.54 C371.75,249.48 370.65,250.93 368.24,251.49 C365.84,252.05 360.89,251.86 357.32,251.91 C353.74,251.96 349.06,252.25 346.79,251.79 C344.51,251.33 343.66,250.05 343.66,249.13Z" fill="#6a1fa0" fill-opacity="0.17" stroke="#6a1fa0" stroke-opacity="0.75" stroke-width="0.3"/>
<path d="M344.11,249.14 C344.11,248.37 344.91,247.20 347.07,246.74 C349.22,246.28 353.65,246.45 357.03,246.39 C360.41,246.33 365.09,246.01 367.36,246.39 C369.64,246.76 370.69,247.85 370.69,248.64 C370.69,249.43 369.64,250.67 367.36,251.15 C365.09,251.62 360.41,251.45 357.03,251.50 C353.65,251.54 349.22,251.79 347.07,251.40 C344.91,251.00 344.11,249.92 344.11,249.14Z" fill="#6a1fa0" fill-opacity="0.17" stroke="#6a1fa0" stroke-opacity="0.75" stroke-width="0.3"/>
<path d="M344.57,249.15 C344.57,248.51 345.32,247.56 347.35,247.18 C349.38,246.80 353.55,246.94 356.74,246.89 C359.93,246.84 364.34,246.58 366.49,246.89 C368.63,247.20 369.62,248.09 369.62,248.74 C369.62,249.39 368.63,250.41 366.49,250.80 C364.34,251.19 359.93,251.05 356.74,251.09 C353.55,251.12 349.38,251.32 347.35,251.00 C345.32,250.68 344.57,249.79 344.57,249.15Z" fill="#6a1fa0" fill-opacity="0.17" stroke="#6a1fa0" stroke-opacity="0.75" stroke-width="0.3"/>
<path d="M345.02,249.16 C345.02,248.66 345.72,247.91 347.63,247.62 C349.54,247.32 353.46,247.43 356.46,247.39 C359.45,247.36 363.59,247.15 365.61,247.39 C367.62,247.64 368.55,248.33 368.55,248.84 C368.55,249.35 367.62,250.14 365.61,250.45 C363.59,250.75 359.45,250.65 356.46,250.67 C353.46,250.70 349.54,250.86 347.63,250.61 C345.72,250.36 345.02,249.66 345.02,249.16Z" fill="#6a1fa0" fill-opacity="0.17" stroke="#6a1fa0" stroke-opacity="0.75" stroke-width="0.3"/>
<path d="M345.47,249.17 C345.47,248.81 346.13,248.27 347.91,248.06 C349.70,247.85 353.37,247.92 356.17,247.90 C358.97,247.87 362.84,247.72 364.73,247.90 C366.62,248.07 367.48,248.57 367.48,248.94 C367.48,249.31 366.62,249.88 364.73,250.10 C362.84,250.32 358.97,250.24 356.17,250.26 C353.37,250.28 349.70,250.40 347.91,250.22 C346.13,250.04 345.47,249.53 345.47,249.17Z" fill="#6a1fa0" fill-opacity="0.17" stroke="#6a1fa0" stroke-opacity="0.75" stroke-width="0.3"/>
<path d="M345.92,249.18 C345.92,248.96 346.53,248.63 348.19,248.50 C349.86,248.37 353.27,248.42 355.88,248.40 C358.49,248.38 362.10,248.29 363.85,248.40 C365.61,248.51 366.41,248.82 366.41,249.04 C366.41,249.27 365.61,249.62 363.85,249.75 C362.10,249.89 358.49,249.84 355.88,249.85 C353.27,249.86 349.86,249.94 348.19,249.82 C346.53,249.71 345.92,249.40 345.92,249.18Z" fill="#6a1fa0" fill-opacity="0.17" stroke="#6a1fa0" stroke-opacity="0.75" stroke-width="0.3"/>
<ellipse cx="371.9" cy="219.6" rx="2.6" ry="7.0" fill="#fff" fill-opacity="0.85"/>
<ellipse cx="371.9" cy="232" rx="1.6" ry="6" fill="#fff" fill-opacity="0.35"/>
<line x1="343.00" y1="249.20" x2="373.00" y2="249.20" stroke="#fff" stroke-width="0.5" stroke-opacity="0.7"/>
<line x1="350.40" y1="168.00" x2="350.40" y2="268.20" stroke="#222" stroke-width="0.75"/>
<line x1="315.20" y1="241.20" x2="411.00" y2="241.20" stroke="#222" stroke-width="0.75"/>
<text x="317" y="175.5" font-size="5.6" text-anchor="start" fill="#1e1e1e" stroke="#1e1e1e" stroke-width="0.15">Q1</text>
<text x="317" y="181.5" font-size="5.6" text-anchor="start" fill="#1e1e1e" stroke="#1e1e1e" stroke-width="0.15">0.20</text>
<text x="403.5" y="175.5" font-size="5.6" text-anchor="end" fill="#1e1e1e" stroke="#1e1e1e" stroke-width="0.15">Q2</text>
<text x="403.5" y="181.5" font-size="5.6" text-anchor="end" fill="#1e1e1e" stroke="#1e1e1e" stroke-width="0.15">62.9</text>
<text x="317" y="257.3" font-size="5.6" text-anchor="start" fill="#1e1e1e" stroke="#1e1e1e" stroke-width="0.15">Q4</text>
<text x="317" y="263.3" font-size="5.6" text-anchor="start" fill="#1e1e1e" stroke="#1e1e1e" stroke-width="0.15">6.21</text>
<text x="403.5" y="257.3" font-size="5.6" text-anchor="end" fill="#1e1e1e" stroke="#1e1e1e" stroke-width="0.15">Q3</text>
<text x="403.5" y="263.3" font-size="5.6" text-anchor="end" fill="#1e1e1e" stroke="#1e1e1e" stroke-width="0.15">30.7</text>
</g>
<line x1="519.50" y1="114.20" x2="519.50" y2="11.60" stroke="#000" stroke-width="1.1"/>
<line x1="516.50" y1="113.70" x2="519.50" y2="113.70" stroke="#000" stroke-width="1.1"/>
<text x="516.20" y="116.60" font-size="8.3" font-weight="bold" text-anchor="end">0</text>
<line x1="516.50" y1="88.25" x2="519.50" y2="88.25" stroke="#000" stroke-width="1.1"/>
<text x="516.20" y="91.15" font-size="8.3" font-weight="bold" text-anchor="end">20</text>
<line x1="516.50" y1="62.80" x2="519.50" y2="62.80" stroke="#000" stroke-width="1.1"/>
<text x="516.20" y="65.70" font-size="8.3" font-weight="bold" text-anchor="end">40</text>
<line x1="516.50" y1="37.35" x2="519.50" y2="37.35" stroke="#000" stroke-width="1.1"/>
<text x="516.20" y="40.25" font-size="8.3" font-weight="bold" text-anchor="end">60</text>
<line x1="516.50" y1="11.90" x2="519.50" y2="11.90" stroke="#000" stroke-width="1.1"/>
<text x="516.20" y="14.80" font-size="8.3" font-weight="bold" text-anchor="end">80</text>
<line x1="519.00" y1="113.70" x2="672.00" y2="113.70" stroke="#000" stroke-width="1.1"/>
<line x1="538.60" y1="113.70" x2="538.60" y2="116.70" stroke="#000" stroke-width="1.1"/>
<line x1="576.70" y1="113.70" x2="576.70" y2="116.70" stroke="#000" stroke-width="1.1"/>
<line x1="614.80" y1="113.70" x2="614.80" y2="116.70" stroke="#000" stroke-width="1.1"/>
<line x1="653.00" y1="113.70" x2="653.00" y2="116.70" stroke="#000" stroke-width="1.1"/>
<text x="497.90" y="63.25" font-size="9.5" font-weight="bold" text-anchor="middle" fill="#000" textLength="123.6" lengthAdjust="spacingAndGlyphs" transform="rotate(-90 497.90 63.25)">% CCR7+CD45RA- of CD4 cells</text>
<line x1="538.58" y1="65.44" x2="538.58" y2="89.39" stroke="#000" stroke-width="1.0"/>
<line x1="526.17" y1="77.23" x2="550.98" y2="77.23" stroke="#000" stroke-width="1.0"/>
<line x1="532.12" y1="65.44" x2="545.03" y2="65.44" stroke="#000" stroke-width="1.0"/>
<line x1="532.12" y1="89.39" x2="545.03" y2="89.39" stroke="#000" stroke-width="1.0"/>
<circle cx="538.58" cy="49.93" r="2.00" fill="#000"/>
<circle cx="538.58" cy="60.47" r="2.00" fill="#000"/>
<circle cx="535.47" cy="67.55" r="2.00" fill="#000"/>
<circle cx="541.31" cy="68.79" r="2.00" fill="#000"/>
<circle cx="528.65" cy="70.65" r="2.00" fill="#000"/>
<circle cx="533.61" cy="73.25" r="2.00" fill="#000"/>
<circle cx="548.25" cy="72.51" r="2.00" fill="#000"/>
<circle cx="538.58" cy="75.61" r="2.00" fill="#000"/>
<circle cx="543.54" cy="74.99" r="2.00" fill="#000"/>
<circle cx="548.25" cy="80.58" r="2.00" fill="#000"/>
<circle cx="528.65" cy="82.81" r="2.00" fill="#000"/>
<circle cx="533.61" cy="84.42" r="2.00" fill="#000"/>
<circle cx="543.54" cy="84.30" r="2.00" fill="#000"/>
<circle cx="538.58" cy="86.53" r="2.00" fill="#000"/>
<circle cx="532.37" cy="90.63" r="2.00" fill="#000"/>
<circle cx="538.58" cy="96.09" r="2.00" fill="#000"/>
<circle cx="544.78" cy="94.60" r="2.00" fill="#000"/>
<line x1="576.73" y1="58.36" x2="576.73" y2="84.30" stroke="#000" stroke-width="1.0"/>
<line x1="569.60" y1="71.27" x2="588.46" y2="71.27" stroke="#000" stroke-width="1.0"/>
<line x1="570.22" y1="58.36" x2="583.25" y2="58.36" stroke="#000" stroke-width="1.0"/>
<line x1="570.22" y1="84.30" x2="583.25" y2="84.30" stroke="#000" stroke-width="1.0"/>
<rect x="574.72" y="35.44" width="3.90" height="3.90" fill="#000"/>
<rect x="574.72" y="53.19" width="3.90" height="3.90" fill="#000"/>
<rect x="571.62" y="59.76" width="3.90" height="3.90" fill="#000"/>
<rect x="577.82" y="57.90" width="3.90" height="3.90" fill="#000"/>
<rect x="568.52" y="66.34" width="3.90" height="3.90" fill="#000"/>
<rect x="574.72" y="66.84" width="3.90" height="3.90" fill="#000"/>
<rect x="580.92" y="65.60" width="3.90" height="3.90" fill="#000"/>
<rect x="564.55" y="69.32" width="3.90" height="3.90" fill="#000"/>
<rect x="584.65" y="70.56" width="3.90" height="3.90" fill="#000"/>
<rect x="569.76" y="72.79" width="3.90" height="3.90" fill="#000"/>
<rect x="574.72" y="74.66" width="3.90" height="3.90" fill="#000"/>
<rect x="579.68" y="74.28" width="3.90" height="3.90" fill="#000"/>
<rect x="571.62" y="78.75" width="3.90" height="3.90" fill="#000"/>
<rect x="577.82" y="81.11" width="3.90" height="3.90" fill="#000"/>
<rect x="568.52" y="84.21" width="3.90" height="3.90" fill="#000"/>
<rect x="574.72" y="87.44" width="3.90" height="3.90" fill="#000"/>
<rect x="580.92" y="86.07" width="3.90" height="3.90" fill="#000"/>
<line x1="614.94" y1="51.02" x2="614.94" y2="92.34" stroke="#6a6a6a" stroke-width="1.3"/>
<line x1="602.16" y1="71.87" x2="627.47" y2="71.87" stroke="#6a6a6a" stroke-width="1.3"/>
<line x1="607.37" y1="51.02" x2="622.51" y2="51.02" stroke="#6a6a6a" stroke-width="1.3"/>
<line x1="608.36" y1="92.34" x2="621.64" y2="92.34" stroke="#6a6a6a" stroke-width="1.3"/>
<path d="M612.87,40.99 L614.82,37.48 L616.77,40.99Z" fill="#000"/>
<path d="M606.66,51.91 L608.61,48.40 L610.56,51.91Z" fill="#000"/>
<path d="M612.87,52.53 L614.82,49.02 L616.77,52.53Z" fill="#000"/>
<path d="M619.32,51.91 L621.27,48.40 L623.22,51.91Z" fill="#000"/>
<path d="M609.76,64.32 L611.71,60.81 L613.66,64.32Z" fill="#000"/>
<path d="M616.34,67.05 L618.29,63.54 L620.24,67.05Z" fill="#000"/>
<path d="M606.66,70.40 L608.61,66.89 L610.56,70.40Z" fill="#000"/>
<path d="M612.87,73.87 L614.82,70.36 L616.77,73.87Z" fill="#000"/>
<path d="M619.32,72.88 L621.27,69.37 L623.22,72.88Z" fill="#000"/>
<path d="M609.76,90.00 L611.71,86.49 L613.66,90.00Z" fill="#000"/>
<path d="M616.34,94.10 L618.29,90.59 L620.24,94.10Z" fill="#000"/>
<path d="M606.66,100.30 L608.61,96.79 L610.56,100.30Z" fill="#000"/>
<path d="M612.87,102.66 L614.82,99.15 L616.77,102.66Z" fill="#000"/>
<path d="M619.32,100.30 L621.27,96.79 L623.22,100.30Z" fill="#000"/>
<line x1="652.91" y1="50.15" x2="652.91" y2="89.49" stroke="#6a6a6a" stroke-width="1.3"/>
<line x1="640.25" y1="70.01" x2="665.69" y2="70.01" stroke="#6a6a6a" stroke-width="1.3"/>
<line x1="646.09" y1="50.15" x2="659.74" y2="50.15" stroke="#6a6a6a" stroke-width="1.3"/>
<line x1="646.46" y1="89.49" x2="659.74" y2="89.49" stroke="#6a6a6a" stroke-width="1.3"/>
<path d="M651.09,27.92 L653.04,31.43 L654.99,27.92Z" fill="#000"/>
<path d="M651.09,40.33 L653.04,43.84 L654.99,40.33Z" fill="#000"/>
<path d="M651.09,57.70 L653.04,61.21 L654.99,57.70Z" fill="#000"/>
<path d="M640.17,61.92 L642.12,65.43 L644.07,61.92Z" fill="#000"/>
<path d="M644.51,63.16 L646.46,66.67 L648.41,63.16Z" fill="#000"/>
<path d="M648.85,65.40 L650.80,68.91 L652.75,65.40Z" fill="#000"/>
<path d="M653.19,63.91 L655.14,67.42 L657.09,63.91Z" fill="#000"/>
<path d="M657.29,62.92 L659.24,66.43 L661.19,62.92Z" fill="#000"/>
<path d="M661.88,60.68 L663.83,64.19 L665.78,60.68Z" fill="#000"/>
<path d="M648.23,79.67 L650.18,83.18 L652.13,79.67Z" fill="#000"/>
<path d="M654.44,82.15 L656.39,85.66 L658.34,82.15Z" fill="#000"/>
<path d="M644.88,93.07 L646.83,96.58 L648.78,93.07Z" fill="#000"/>
<path d="M651.09,96.17 L653.04,99.68 L654.99,96.17Z" fill="#000"/>
<path d="M657.29,93.56 L659.24,97.07 L661.19,93.56Z" fill="#000"/>
<text x="540.10" y="123.50" font-size="9.4" font-weight="bold" text-anchor="end" textLength="68.27" lengthAdjust="spacingAndGlyphs" transform="rotate(-45 540.10 123.50)">BMI&lt;35 baseline</text>
<text x="578.20" y="123.50" font-size="9.4" font-weight="bold" text-anchor="end" textLength="52.73" lengthAdjust="spacingAndGlyphs" transform="rotate(-45 578.20 123.50)">BMI&lt;35 vacc</text>
<text x="616.30" y="123.50" font-size="9.4" font-weight="bold" text-anchor="end" textLength="68.27" lengthAdjust="spacingAndGlyphs" transform="rotate(-45 616.30 123.50)">BMI&gt;35 baseline</text>
<text x="654.50" y="123.50" font-size="9.4" font-weight="bold" text-anchor="end" textLength="52.73" lengthAdjust="spacingAndGlyphs" transform="rotate(-45 654.50 123.50)">BMI&gt;35 vacc</text>
<line x1="519.40" y1="306.20" x2="519.40" y2="201.60" stroke="#000" stroke-width="1.1"/>
<line x1="516.40" y1="305.70" x2="519.40" y2="305.70" stroke="#000" stroke-width="1.1"/>
<text x="516.10" y="308.60" font-size="8.3" font-weight="bold" text-anchor="end">0</text>
<line x1="516.40" y1="279.82" x2="519.40" y2="279.82" stroke="#000" stroke-width="1.1"/>
<text x="516.10" y="282.72" font-size="8.3" font-weight="bold" text-anchor="end">10</text>
<line x1="516.40" y1="253.95" x2="519.40" y2="253.95" stroke="#000" stroke-width="1.1"/>
<text x="516.10" y="256.85" font-size="8.3" font-weight="bold" text-anchor="end">20</text>
<line x1="516.40" y1="228.07" x2="519.40" y2="228.07" stroke="#000" stroke-width="1.1"/>
<text x="516.10" y="230.97" font-size="8.3" font-weight="bold" text-anchor="end">30</text>
<line x1="516.40" y1="202.20" x2="519.40" y2="202.20" stroke="#000" stroke-width="1.1"/>
<text x="516.10" y="205.10" font-size="8.3" font-weight="bold" text-anchor="end">40</text>
<line x1="519.00" y1="305.70" x2="674.40" y2="305.70" stroke="#000" stroke-width="1.1"/>
<line x1="538.40" y1="305.70" x2="538.40" y2="308.70" stroke="#000" stroke-width="1.1"/>
<line x1="577.50" y1="305.70" x2="577.50" y2="308.70" stroke="#000" stroke-width="1.1"/>
<line x1="616.30" y1="305.70" x2="616.30" y2="308.70" stroke="#000" stroke-width="1.1"/>
<line x1="655.10" y1="305.70" x2="655.10" y2="308.70" stroke="#000" stroke-width="1.1"/>
<text x="501.80" y="254.10" font-size="9.5" font-weight="bold" text-anchor="middle" fill="#000" textLength="124.0" lengthAdjust="spacingAndGlyphs" transform="rotate(-90 501.80 254.10)">% CCR7-CD45RA- of CD4 cells</text>
<line x1="538.70" y1="246.02" x2="538.70" y2="286.97" stroke="#000" stroke-width="1.0"/>
<line x1="525.92" y1="266.74" x2="551.61" y2="266.74" stroke="#000" stroke-width="1.0"/>
<line x1="532.00" y1="246.02" x2="545.40" y2="246.02" stroke="#000" stroke-width="1.0"/>
<line x1="532.00" y1="286.97" x2="545.40" y2="286.97" stroke="#000" stroke-width="1.0"/>
<circle cx="538.58" cy="225.17" r="2.00" fill="#000"/>
<circle cx="535.23" cy="234.85" r="2.00" fill="#000"/>
<circle cx="541.68" cy="234.85" r="2.00" fill="#000"/>
<circle cx="538.58" cy="251.85" r="2.00" fill="#000"/>
<circle cx="529.27" cy="257.81" r="2.00" fill="#000"/>
<circle cx="535.23" cy="259.67" r="2.00" fill="#000"/>
<circle cx="541.68" cy="261.16" r="2.00" fill="#000"/>
<circle cx="547.88" cy="258.80" r="2.00" fill="#000"/>
<circle cx="538.58" cy="274.56" r="2.00" fill="#000"/>
<circle cx="527.66" cy="279.15" r="2.00" fill="#000"/>
<circle cx="549.37" cy="280.14" r="2.00" fill="#000"/>
<circle cx="532.12" cy="283.49" r="2.00" fill="#000"/>
<circle cx="536.71" cy="283.87" r="2.00" fill="#000"/>
<circle cx="540.44" cy="284.74" r="2.00" fill="#000"/>
<circle cx="545.03" cy="283.49" r="2.00" fill="#000"/>
<circle cx="535.23" cy="290.94" r="2.00" fill="#000"/>
<circle cx="541.68" cy="289.70" r="2.00" fill="#000"/>
<line x1="577.54" y1="248.25" x2="577.54" y2="282.01" stroke="#000" stroke-width="1.0"/>
<line x1="564.63" y1="265.50" x2="590.44" y2="265.50" stroke="#000" stroke-width="1.0"/>
<line x1="570.84" y1="248.25" x2="584.24" y2="248.25" stroke="#000" stroke-width="1.0"/>
<line x1="570.84" y1="282.01" x2="584.24" y2="282.01" stroke="#000" stroke-width="1.0"/>
<rect x="572.36" y="231.04" width="3.90" height="3.90" fill="#000"/>
<rect x="578.81" y="237.25" width="3.90" height="3.90" fill="#000"/>
<rect x="578.81" y="243.82" width="3.90" height="3.90" fill="#000"/>
<rect x="572.61" y="246.55" width="3.90" height="3.90" fill="#000"/>
<rect x="569.14" y="251.89" width="3.90" height="3.90" fill="#000"/>
<rect x="581.92" y="251.14" width="3.90" height="3.90" fill="#000"/>
<rect x="575.71" y="255.86" width="3.90" height="3.90" fill="#000"/>
<rect x="569.14" y="267.28" width="3.90" height="3.90" fill="#000"/>
<rect x="575.71" y="269.88" width="3.90" height="3.90" fill="#000"/>
<rect x="581.92" y="269.76" width="3.90" height="3.90" fill="#000"/>
<rect x="566.16" y="273.48" width="3.90" height="3.90" fill="#000"/>
<rect x="572.61" y="277.57" width="3.90" height="3.90" fill="#000"/>
<rect x="578.81" y="277.57" width="3.90" height="3.90" fill="#000"/>
<rect x="585.02" y="277.57" width="3.90" height="3.90" fill="#000"/>
<rect x="569.14" y="280.06" width="3.90" height="3.90" fill="#000"/>
<rect x="581.92" y="282.91" width="3.90" height="3.90" fill="#000"/>
<rect x="575.71" y="284.77" width="3.90" height="3.90" fill="#000"/>
<line x1="616.43" y1="265.50" x2="616.43" y2="285.98" stroke="#000" stroke-width="1.0"/>
<line x1="603.40" y1="275.80" x2="629.46" y2="275.80" stroke="#000" stroke-width="1.0"/>
<line x1="609.61" y1="265.50" x2="623.25" y2="265.50" stroke="#000" stroke-width="1.0"/>
<line x1="609.61" y1="285.98" x2="623.25" y2="285.98" stroke="#000" stroke-width="1.0"/>
<path d="M614.36,249.27 L616.31,245.76 L618.26,249.27Z" fill="#000"/>
<path d="M614.36,269.49 L616.31,265.98 L618.26,269.49Z" fill="#000"/>
<path d="M603.56,275.70 L605.51,272.19 L607.46,275.70Z" fill="#000"/>
<path d="M607.90,276.69 L609.85,273.18 L611.80,276.69Z" fill="#000"/>
<path d="M616.84,276.32 L618.79,272.81 L620.74,276.32Z" fill="#000"/>
<path d="M620.93,275.70 L622.88,272.19 L624.83,275.70Z" fill="#000"/>
<path d="M625.52,275.07 L627.47,271.56 L629.42,275.07Z" fill="#000"/>
<path d="M612.87,278.80 L614.82,275.29 L616.77,278.80Z" fill="#000"/>
<path d="M604.18,281.53 L606.13,278.02 L608.08,281.53Z" fill="#000"/>
<path d="M609.39,284.38 L611.34,280.87 L613.29,284.38Z" fill="#000"/>
<path d="M619.32,283.14 L621.27,279.63 L623.22,283.14Z" fill="#000"/>
<path d="M624.28,281.53 L626.23,278.02 L628.18,281.53Z" fill="#000"/>
<path d="M614.36,286.49 L616.31,282.98 L618.26,286.49Z" fill="#000"/>
<path d="M614.36,294.68 L616.31,291.17 L618.26,294.68Z" fill="#000"/>
<line x1="655.27" y1="258.43" x2="655.27" y2="283.25" stroke="#000" stroke-width="1.0"/>
<line x1="642.12" y1="270.59" x2="668.17" y2="270.59" stroke="#000" stroke-width="1.0"/>
<line x1="648.57" y1="258.43" x2="661.97" y2="258.43" stroke="#000" stroke-width="1.0"/>
<line x1="648.57" y1="283.25" x2="661.97" y2="283.25" stroke="#000" stroke-width="1.0"/>
<path d="M656.30,246.13 L658.25,249.64 L660.20,246.13Z" fill="#000"/>
<path d="M650.09,250.22 L652.04,253.73 L653.99,250.22Z" fill="#000"/>
<path d="M650.09,257.30 L652.04,260.81 L653.99,257.30Z" fill="#000"/>
<path d="M656.30,259.78 L658.25,263.29 L660.20,259.78Z" fill="#000"/>
<path d="M646.99,262.01 L648.94,265.52 L650.89,262.01Z" fill="#000"/>
<path d="M653.19,266.85 L655.14,270.36 L657.09,266.85Z" fill="#000"/>
<path d="M659.65,266.85 L661.60,270.36 L663.55,266.85Z" fill="#000"/>
<path d="M642.40,274.29 L644.35,277.80 L646.30,274.29Z" fill="#000"/>
<path d="M646.37,277.15 L648.32,280.66 L650.27,277.15Z" fill="#000"/>
<path d="M651.33,277.52 L653.28,281.03 L655.23,277.52Z" fill="#000"/>
<path d="M655.68,277.52 L657.63,281.03 L659.58,277.52Z" fill="#000"/>
<path d="M659.77,277.52 L661.72,281.03 L663.67,277.52Z" fill="#000"/>
<path d="M663.99,274.29 L665.94,277.80 L667.89,274.29Z" fill="#000"/>
<path d="M653.19,291.67 L655.14,295.18 L657.09,291.67Z" fill="#000"/>
<text x="539.90" y="315.50" font-size="9.4" font-weight="bold" text-anchor="end" textLength="68.27" lengthAdjust="spacingAndGlyphs" transform="rotate(-45 539.90 315.50)">BMI&lt;35 baseline</text>
<text x="579.00" y="315.50" font-size="9.4" font-weight="bold" text-anchor="end" textLength="52.73" lengthAdjust="spacingAndGlyphs" transform="rotate(-45 579.00 315.50)">BMI&lt;35 vacc</text>
<text x="617.80" y="315.50" font-size="9.4" font-weight="bold" text-anchor="end" textLength="68.27" lengthAdjust="spacingAndGlyphs" transform="rotate(-45 617.80 315.50)">BMI&gt;35 baseline</text>
<text x="656.60" y="315.50" font-size="9.4" font-weight="bold" text-anchor="end" textLength="52.73" lengthAdjust="spacingAndGlyphs" transform="rotate(-45 656.60 315.50)">BMI&gt;35 vacc</text>
<text x="180.00" y="375.80" font-size="10" font-weight="bold" text-anchor="middle">Unstimulated</text>
<text x="180.00" y="387.00" font-size="10" font-weight="bold" text-anchor="middle">(DMSO)</text>
<text x="331.00" y="375.80" font-size="10" font-weight="bold" text-anchor="middle">Stimulated</text>
<text x="331.00" y="387.00" font-size="10" font-weight="bold" text-anchor="middle">(HBsAg)</text>
<text x="497.00" y="377.00" font-size="10" font-weight="bold" text-anchor="middle">Positive control</text>
<text x="497.00" y="388.20" font-size="10" font-weight="bold" text-anchor="middle">(anti-CD3 + anti-CD28)</text>
<text x="18.8" y="461.2" font-size="10">BMI&gt; 35</text>
<text x="15.5" y="611.5" font-size="10">BMI&lt; 35</text>
<text x="73.2" y="606.3" font-size="10" text-anchor="middle" transform="rotate(-90 73.2 606.3)">Count</text>
<line x1="68.80" y1="585.70" x2="68.80" y2="510.00" stroke="#000" stroke-width="1"/>
<path d="M65.3,511.5 L68.8,503.2 L72.3,511.5Z" fill="#000"/>
<text x="119.7" y="709.9" font-size="10">CFSE</text>
<line x1="151.50" y1="705.00" x2="228.00" y2="705.00" stroke="#000" stroke-width="1"/>
<path d="M227,701.6 L234.2,705 L227,708.4Z" fill="#000"/>
<path d="M110.95,525.46 C115.33,525.40 138.54,525.17 143.79,525.03 C149.05,524.88 148.90,524.37 150.36,524.37 C151.82,524.37 151.82,525.03 154.74,525.03 C157.66,525.03 169.34,524.60 172.26,524.37 C175.18,524.13 175.61,523.71 176.64,523.27 C177.66,522.84 179.19,521.96 179.92,521.08 C180.65,520.21 181.53,518.75 182.11,516.70 C182.69,514.66 183.77,510.72 184.30,505.76 C184.83,500.79 185.61,486.49 186.05,479.48 C186.49,472.47 187.21,460.21 187.58,453.21 C187.96,446.20 188.55,433.06 188.90,426.93 C189.25,420.80 189.92,410.73 190.21,407.22 C190.50,403.72 190.85,401.30 191.09,400.65 C191.32,400.01 191.70,402.26 191.96,402.41 C192.23,402.55 192.77,400.96 193.06,401.75 C193.35,402.54 193.83,404.96 194.15,408.32 C194.47,411.68 195.12,421.53 195.47,426.93 C195.82,432.33 196.37,442.40 196.78,448.83 C197.19,455.25 198.07,468.97 198.53,475.10 C199.00,481.23 199.82,490.43 200.28,494.81 C200.75,499.19 201.39,504.88 202.04,507.95 C202.68,511.01 204.11,515.90 205.10,517.80 C206.09,519.70 208.02,521.30 209.48,522.18 C210.94,523.05 213.71,523.99 216.05,524.37 C218.39,524.75 223.79,524.88 227.00,525.03 C230.21,525.17 238.38,525.40 240.14,525.46 L240.14,525.60 L110.95,525.60Z" fill="#aeacaa" stroke="none"/>
<path d="M110.95,525.46 C115.33,525.40 138.54,525.17 143.79,525.03 C149.05,524.88 148.90,524.37 150.36,524.37 C151.82,524.37 151.82,525.03 154.74,525.03 C157.66,525.03 169.34,524.60 172.26,524.37 C175.18,524.13 175.61,523.71 176.64,523.27 C177.66,522.84 179.19,521.96 179.92,521.08 C180.65,520.21 181.53,518.75 182.11,516.70 C182.69,514.66 183.77,510.72 184.30,505.76 C184.83,500.79 185.61,486.49 186.05,479.48 C186.49,472.47 187.21,460.21 187.58,453.21 C187.96,446.20 188.55,433.06 188.90,426.93 C189.25,420.80 189.92,410.73 190.21,407.22 C190.50,403.72 190.85,401.30 191.09,400.65 C191.32,400.01 191.70,402.26 191.96,402.41 C192.23,402.55 192.77,400.96 193.06,401.75 C193.35,402.54 193.83,404.96 194.15,408.32 C194.47,411.68 195.12,421.53 195.47,426.93 C195.82,432.33 196.37,442.40 196.78,448.83 C197.19,455.25 198.07,468.97 198.53,475.10 C199.00,481.23 199.82,490.43 200.28,494.81 C200.75,499.19 201.39,504.88 202.04,507.95 C202.68,511.01 204.11,515.90 205.10,517.80 C206.09,519.70 208.02,521.30 209.48,522.18 C210.94,523.05 213.71,523.99 216.05,524.37 C218.39,524.75 223.79,524.88 227.00,525.03 C230.21,525.17 238.38,525.40 240.14,525.46" fill="none" stroke="#1a1a1a" stroke-width="0.9" stroke-linejoin="round"/>
<path d="M111.50,525.60 V392.30 H241.20 V525.60" fill="none" stroke="#c9c9c9" stroke-width="1"/>
<line x1="111.50" y1="392.30" x2="111.50" y2="525.60" stroke="#b5b5b5" stroke-width="1"/>
<line x1="108.00" y1="416.00" x2="111.50" y2="416.00" stroke="#111" stroke-width="1.1"/>
<text x="107.20" y="419.60" font-size="10" text-anchor="end" fill="#111">800</text>
<line x1="108.00" y1="443.40" x2="111.50" y2="443.40" stroke="#111" stroke-width="1.1"/>
<text x="107.20" y="447.00" font-size="10" text-anchor="end" fill="#111">600</text>
<line x1="108.00" y1="470.70" x2="111.50" y2="470.70" stroke="#111" stroke-width="1.1"/>
<text x="107.20" y="474.30" font-size="10" text-anchor="end" fill="#111">400</text>
<line x1="108.00" y1="498.10" x2="111.50" y2="498.10" stroke="#111" stroke-width="1.1"/>
<text x="107.20" y="501.70" font-size="10" text-anchor="end" fill="#111">200</text>
<line x1="109.70" y1="518.75" x2="111.50" y2="518.75" stroke="#555" stroke-width="0.7"/>
<line x1="109.70" y1="511.90" x2="111.50" y2="511.90" stroke="#555" stroke-width="0.7"/>
<line x1="109.70" y1="505.05" x2="111.50" y2="505.05" stroke="#555" stroke-width="0.7"/>
<line x1="109.70" y1="498.20" x2="111.50" y2="498.20" stroke="#555" stroke-width="0.7"/>
<line x1="109.70" y1="491.35" x2="111.50" y2="491.35" stroke="#555" stroke-width="0.7"/>
<line x1="109.70" y1="484.50" x2="111.50" y2="484.50" stroke="#555" stroke-width="0.7"/>
<line x1="109.70" y1="477.65" x2="111.50" y2="477.65" stroke="#555" stroke-width="0.7"/>
<line x1="109.70" y1="470.80" x2="111.50" y2="470.80" stroke="#555" stroke-width="0.7"/>
<line x1="109.70" y1="463.95" x2="111.50" y2="463.95" stroke="#555" stroke-width="0.7"/>
<line x1="109.70" y1="457.10" x2="111.50" y2="457.10" stroke="#555" stroke-width="0.7"/>
<line x1="109.70" y1="450.25" x2="111.50" y2="450.25" stroke="#555" stroke-width="0.7"/>
<line x1="109.70" y1="443.40" x2="111.50" y2="443.40" stroke="#555" stroke-width="0.7"/>
<line x1="109.70" y1="436.55" x2="111.50" y2="436.55" stroke="#555" stroke-width="0.7"/>
<line x1="109.70" y1="429.70" x2="111.50" y2="429.70" stroke="#555" stroke-width="0.7"/>
<line x1="109.70" y1="422.85" x2="111.50" y2="422.85" stroke="#555" stroke-width="0.7"/>
<line x1="109.70" y1="416.00" x2="111.50" y2="416.00" stroke="#555" stroke-width="0.7"/>
<line x1="109.70" y1="409.15" x2="111.50" y2="409.15" stroke="#555" stroke-width="0.7"/>
<line x1="109.70" y1="402.30" x2="111.50" y2="402.30" stroke="#555" stroke-width="0.7"/>
<line x1="109.70" y1="395.45" x2="111.50" y2="395.45" stroke="#555" stroke-width="0.7"/>
<line x1="108.00" y1="525.60" x2="241.20" y2="525.60" stroke="#111" stroke-width="1.3"/>
<line x1="117.70" y1="525.60" x2="117.70" y2="529.90" stroke="#111" stroke-width="1.0"/>
<line x1="163.90" y1="525.60" x2="163.90" y2="529.90" stroke="#111" stroke-width="1.0"/>
<line x1="199.00" y1="525.60" x2="199.00" y2="529.90" stroke="#111" stroke-width="1.0"/>
<line x1="228.60" y1="525.60" x2="228.60" y2="529.90" stroke="#111" stroke-width="1.0"/>
<line x1="174.47" y1="525.60" x2="174.47" y2="527.90" stroke="#333" stroke-width="0.7"/>
<line x1="207.91" y1="525.60" x2="207.91" y2="527.90" stroke="#333" stroke-width="0.7"/>
<line x1="237.51" y1="525.60" x2="237.51" y2="527.90" stroke="#333" stroke-width="0.7"/>
<line x1="180.65" y1="525.60" x2="180.65" y2="527.90" stroke="#333" stroke-width="0.7"/>
<line x1="213.12" y1="525.60" x2="213.12" y2="527.90" stroke="#333" stroke-width="0.7"/>
<line x1="185.03" y1="525.60" x2="185.03" y2="527.90" stroke="#333" stroke-width="0.7"/>
<line x1="216.82" y1="525.60" x2="216.82" y2="527.90" stroke="#333" stroke-width="0.7"/>
<line x1="188.43" y1="525.60" x2="188.43" y2="527.90" stroke="#333" stroke-width="0.7"/>
<line x1="219.69" y1="525.60" x2="219.69" y2="527.90" stroke="#333" stroke-width="0.7"/>
<line x1="191.21" y1="525.60" x2="191.21" y2="527.90" stroke="#333" stroke-width="0.7"/>
<line x1="222.03" y1="525.60" x2="222.03" y2="527.90" stroke="#333" stroke-width="0.7"/>
<line x1="193.56" y1="525.60" x2="193.56" y2="527.90" stroke="#333" stroke-width="0.7"/>
<line x1="224.01" y1="525.60" x2="224.01" y2="527.90" stroke="#333" stroke-width="0.7"/>
<line x1="195.60" y1="525.60" x2="195.60" y2="527.90" stroke="#333" stroke-width="0.7"/>
<line x1="225.73" y1="525.60" x2="225.73" y2="527.90" stroke="#333" stroke-width="0.7"/>
<line x1="197.39" y1="525.60" x2="197.39" y2="527.90" stroke="#333" stroke-width="0.7"/>
<line x1="227.25" y1="525.60" x2="227.25" y2="527.90" stroke="#333" stroke-width="0.7"/>
<line x1="122.30" y1="525.60" x2="122.30" y2="527.90" stroke="#333" stroke-width="0.7"/>
<line x1="126.90" y1="525.60" x2="126.90" y2="527.90" stroke="#333" stroke-width="0.7"/>
<line x1="131.50" y1="525.60" x2="131.50" y2="527.90" stroke="#333" stroke-width="0.7"/>
<line x1="145.30" y1="525.60" x2="145.30" y2="527.90" stroke="#333" stroke-width="0.7"/>
<line x1="149.90" y1="525.60" x2="149.90" y2="527.90" stroke="#333" stroke-width="0.7"/>
<line x1="154.50" y1="525.60" x2="154.50" y2="527.90" stroke="#333" stroke-width="0.7"/>
<line x1="159.10" y1="525.60" x2="159.10" y2="527.90" stroke="#333" stroke-width="0.7"/>
<line x1="154.10" y1="525.60" x2="154.10" y2="528.80" stroke="#222" stroke-width="0.8"/>
<line x1="188.80" y1="525.60" x2="188.80" y2="528.80" stroke="#222" stroke-width="0.8"/>
<line x1="219.40" y1="525.60" x2="219.40" y2="528.80" stroke="#222" stroke-width="0.8"/>
<rect x="137.30" y="525.60" width="6.50" height="3.60" fill="#111" stroke="none" stroke-width="1"/>
<path d="M273.50,526.56 C277.50,526.53 299.06,526.48 303.50,526.34 C307.94,526.19 305.91,525.87 306.78,525.46 C307.66,525.05 309.19,523.77 310.07,523.27 C310.94,522.78 312.48,521.83 313.35,521.74 C314.23,521.65 315.61,522.27 316.64,522.62 C317.66,522.97 319.56,524.05 321.02,524.37 C322.48,524.69 325.83,524.88 327.58,525.03 C329.34,525.17 332.40,525.52 334.15,525.46 C335.91,525.40 339.41,525.03 340.72,524.59 C342.04,524.15 343.28,523.81 344.01,522.18 C344.74,520.54 345.70,516.27 346.20,512.33 C346.69,508.38 347.29,498.75 347.73,492.62 C348.17,486.49 349.04,473.35 349.48,466.34 C349.92,459.34 350.63,446.20 351.01,440.07 C351.39,433.94 352.01,424.74 352.33,420.36 C352.65,415.98 353.16,409.41 353.42,407.22 C353.69,405.03 354.04,403.94 354.30,403.94 C354.56,403.94 355.13,406.35 355.39,407.22 C355.66,408.10 356.04,410.95 356.27,410.51 C356.50,410.07 356.88,404.38 357.14,403.94 C357.41,403.50 357.92,405.03 358.24,407.22 C358.56,409.41 359.20,415.69 359.55,420.36 C359.90,425.03 360.46,435.83 360.87,442.26 C361.28,448.68 362.15,461.82 362.62,468.53 C363.09,475.25 363.79,487.36 364.37,492.62 C364.95,497.87 366.21,504.44 367.00,507.95 C367.79,511.45 369.26,516.70 370.28,518.89 C371.30,521.08 373.35,523.40 374.66,524.37 C375.98,525.33 378.82,525.83 380.14,526.12 C381.45,526.41 383.93,526.50 384.51,526.56 L384.51,526.60 L273.50,526.60Z" fill="#aeacaa" stroke="none"/>
<path d="M273.50,526.56 C277.50,526.53 299.06,526.48 303.50,526.34 C307.94,526.19 305.91,525.87 306.78,525.46 C307.66,525.05 309.19,523.77 310.07,523.27 C310.94,522.78 312.48,521.83 313.35,521.74 C314.23,521.65 315.61,522.27 316.64,522.62 C317.66,522.97 319.56,524.05 321.02,524.37 C322.48,524.69 325.83,524.88 327.58,525.03 C329.34,525.17 332.40,525.52 334.15,525.46 C335.91,525.40 339.41,525.03 340.72,524.59 C342.04,524.15 343.28,523.81 344.01,522.18 C344.74,520.54 345.70,516.27 346.20,512.33 C346.69,508.38 347.29,498.75 347.73,492.62 C348.17,486.49 349.04,473.35 349.48,466.34 C349.92,459.34 350.63,446.20 351.01,440.07 C351.39,433.94 352.01,424.74 352.33,420.36 C352.65,415.98 353.16,409.41 353.42,407.22 C353.69,405.03 354.04,403.94 354.30,403.94 C354.56,403.94 355.13,406.35 355.39,407.22 C355.66,408.10 356.04,410.95 356.27,410.51 C356.50,410.07 356.88,404.38 357.14,403.94 C357.41,403.50 357.92,405.03 358.24,407.22 C358.56,409.41 359.20,415.69 359.55,420.36 C359.90,425.03 360.46,435.83 360.87,442.26 C361.28,448.68 362.15,461.82 362.62,468.53 C363.09,475.25 363.79,487.36 364.37,492.62 C364.95,497.87 366.21,504.44 367.00,507.95 C367.79,511.45 369.26,516.70 370.28,518.89 C371.30,521.08 373.35,523.40 374.66,524.37 C375.98,525.33 378.82,525.83 380.14,526.12 C381.45,526.41 383.93,526.50 384.51,526.56" fill="none" stroke="#1a1a1a" stroke-width="0.9" stroke-linejoin="round"/>
<path d="M273.50,526.60 V393.00 H403.00 V526.60" fill="none" stroke="#c9c9c9" stroke-width="1"/>
<line x1="273.50" y1="393.00" x2="273.50" y2="526.60" stroke="#b5b5b5" stroke-width="1"/>
<line x1="270.00" y1="408.30" x2="273.50" y2="408.30" stroke="#111" stroke-width="1.1"/>
<text x="269.20" y="411.90" font-size="10" text-anchor="end" fill="#111">800</text>
<line x1="270.00" y1="437.90" x2="273.50" y2="437.90" stroke="#111" stroke-width="1.1"/>
<text x="269.20" y="441.50" font-size="10" text-anchor="end" fill="#111">600</text>
<line x1="270.00" y1="467.40" x2="273.50" y2="467.40" stroke="#111" stroke-width="1.1"/>
<text x="269.20" y="471.00" font-size="10" text-anchor="end" fill="#111">400</text>
<line x1="270.00" y1="497.00" x2="273.50" y2="497.00" stroke="#111" stroke-width="1.1"/>
<text x="269.20" y="500.60" font-size="10" text-anchor="end" fill="#111">200</text>
<line x1="271.70" y1="519.20" x2="273.50" y2="519.20" stroke="#555" stroke-width="0.7"/>
<line x1="271.70" y1="511.80" x2="273.50" y2="511.80" stroke="#555" stroke-width="0.7"/>
<line x1="271.70" y1="504.40" x2="273.50" y2="504.40" stroke="#555" stroke-width="0.7"/>
<line x1="271.70" y1="497.00" x2="273.50" y2="497.00" stroke="#555" stroke-width="0.7"/>
<line x1="271.70" y1="489.60" x2="273.50" y2="489.60" stroke="#555" stroke-width="0.7"/>
<line x1="271.70" y1="482.20" x2="273.50" y2="482.20" stroke="#555" stroke-width="0.7"/>
<line x1="271.70" y1="474.80" x2="273.50" y2="474.80" stroke="#555" stroke-width="0.7"/>
<line x1="271.70" y1="467.40" x2="273.50" y2="467.40" stroke="#555" stroke-width="0.7"/>
<line x1="271.70" y1="460.00" x2="273.50" y2="460.00" stroke="#555" stroke-width="0.7"/>
<line x1="271.70" y1="452.60" x2="273.50" y2="452.60" stroke="#555" stroke-width="0.7"/>
<line x1="271.70" y1="445.20" x2="273.50" y2="445.20" stroke="#555" stroke-width="0.7"/>
<line x1="271.70" y1="437.80" x2="273.50" y2="437.80" stroke="#555" stroke-width="0.7"/>
<line x1="271.70" y1="430.40" x2="273.50" y2="430.40" stroke="#555" stroke-width="0.7"/>
<line x1="271.70" y1="423.00" x2="273.50" y2="423.00" stroke="#555" stroke-width="0.7"/>
<line x1="271.70" y1="415.60" x2="273.50" y2="415.60" stroke="#555" stroke-width="0.7"/>
<line x1="271.70" y1="408.20" x2="273.50" y2="408.20" stroke="#555" stroke-width="0.7"/>
<line x1="271.70" y1="400.80" x2="273.50" y2="400.80" stroke="#555" stroke-width="0.7"/>
<line x1="270.00" y1="526.60" x2="403.00" y2="526.60" stroke="#111" stroke-width="1.3"/>
<line x1="279.10" y1="526.60" x2="279.10" y2="530.90" stroke="#111" stroke-width="1.0"/>
<line x1="325.30" y1="526.60" x2="325.30" y2="530.90" stroke="#111" stroke-width="1.0"/>
<line x1="360.40" y1="526.60" x2="360.40" y2="530.90" stroke="#111" stroke-width="1.0"/>
<line x1="390.00" y1="526.60" x2="390.00" y2="530.90" stroke="#111" stroke-width="1.0"/>
<line x1="335.87" y1="526.60" x2="335.87" y2="528.90" stroke="#333" stroke-width="0.7"/>
<line x1="369.31" y1="526.60" x2="369.31" y2="528.90" stroke="#333" stroke-width="0.7"/>
<line x1="398.91" y1="526.60" x2="398.91" y2="528.90" stroke="#333" stroke-width="0.7"/>
<line x1="342.05" y1="526.60" x2="342.05" y2="528.90" stroke="#333" stroke-width="0.7"/>
<line x1="374.52" y1="526.60" x2="374.52" y2="528.90" stroke="#333" stroke-width="0.7"/>
<line x1="346.43" y1="526.60" x2="346.43" y2="528.90" stroke="#333" stroke-width="0.7"/>
<line x1="378.22" y1="526.60" x2="378.22" y2="528.90" stroke="#333" stroke-width="0.7"/>
<line x1="349.83" y1="526.60" x2="349.83" y2="528.90" stroke="#333" stroke-width="0.7"/>
<line x1="381.09" y1="526.60" x2="381.09" y2="528.90" stroke="#333" stroke-width="0.7"/>
<line x1="352.61" y1="526.60" x2="352.61" y2="528.90" stroke="#333" stroke-width="0.7"/>
<line x1="383.43" y1="526.60" x2="383.43" y2="528.90" stroke="#333" stroke-width="0.7"/>
<line x1="354.96" y1="526.60" x2="354.96" y2="528.90" stroke="#333" stroke-width="0.7"/>
<line x1="385.41" y1="526.60" x2="385.41" y2="528.90" stroke="#333" stroke-width="0.7"/>
<line x1="357.00" y1="526.60" x2="357.00" y2="528.90" stroke="#333" stroke-width="0.7"/>
<line x1="387.13" y1="526.60" x2="387.13" y2="528.90" stroke="#333" stroke-width="0.7"/>
<line x1="358.79" y1="526.60" x2="358.79" y2="528.90" stroke="#333" stroke-width="0.7"/>
<line x1="388.65" y1="526.60" x2="388.65" y2="528.90" stroke="#333" stroke-width="0.7"/>
<line x1="283.70" y1="526.60" x2="283.70" y2="528.90" stroke="#333" stroke-width="0.7"/>
<line x1="288.30" y1="526.60" x2="288.30" y2="528.90" stroke="#333" stroke-width="0.7"/>
<line x1="292.90" y1="526.60" x2="292.90" y2="528.90" stroke="#333" stroke-width="0.7"/>
<line x1="306.70" y1="526.60" x2="306.70" y2="528.90" stroke="#333" stroke-width="0.7"/>
<line x1="311.30" y1="526.60" x2="311.30" y2="528.90" stroke="#333" stroke-width="0.7"/>
<line x1="315.90" y1="526.60" x2="315.90" y2="528.90" stroke="#333" stroke-width="0.7"/>
<line x1="320.50" y1="526.60" x2="320.50" y2="528.90" stroke="#333" stroke-width="0.7"/>
<line x1="315.50" y1="526.60" x2="315.50" y2="529.80" stroke="#222" stroke-width="0.8"/>
<line x1="350.20" y1="526.60" x2="350.20" y2="529.80" stroke="#222" stroke-width="0.8"/>
<line x1="380.80" y1="526.60" x2="380.80" y2="529.80" stroke="#222" stroke-width="0.8"/>
<rect x="298.70" y="526.60" width="6.50" height="3.60" fill="#111" stroke="none" stroke-width="1"/>
<path d="M435.77,527.53 C438.17,527.49 450.66,527.40 453.80,527.25 C456.94,527.11 457.87,527.86 459.35,526.42 C460.83,524.98 463.60,523.31 464.90,516.44 C466.19,509.56 468.13,485.92 469.06,474.83 C469.98,463.73 471.09,441.35 471.83,433.22 C472.57,425.08 473.87,417.50 474.60,413.80 C475.34,410.10 476.64,405.66 477.38,405.48 C478.12,405.29 479.41,410.93 480.15,412.41 C480.89,413.89 482.19,414.17 482.93,416.57 C483.67,418.98 484.96,428.41 485.70,430.44 C486.44,432.48 487.73,430.17 488.47,431.83 C489.21,433.50 490.51,440.15 491.25,442.93 C491.99,445.70 493.28,449.12 494.02,452.64 C494.76,456.15 495.87,467.06 496.80,469.28 C497.72,471.50 500.03,468.72 500.96,469.28 C501.88,469.83 502.99,471.22 503.73,473.44 C504.47,475.66 505.77,484.44 506.50,485.92 C507.24,487.40 508.54,484.91 509.28,484.54 C510.02,484.17 511.31,482.59 512.05,483.15 C512.79,483.70 514.09,487.59 514.83,488.70 C515.57,489.81 516.86,491.84 517.60,491.47 C518.34,491.10 519.63,487.03 520.37,485.92 C521.11,484.81 522.41,485.37 523.15,483.15 C523.89,480.93 525.18,472.24 525.92,469.28 C526.66,466.32 527.96,460.96 528.70,460.96 C529.44,460.96 530.73,466.32 531.47,469.28 C532.21,472.24 533.50,478.34 534.24,483.15 C534.98,487.96 536.09,500.53 537.02,505.34 C537.94,510.15 539.70,516.44 541.18,519.21 C542.66,521.98 546.08,525.03 548.11,526.14 C550.15,527.25 554.29,527.35 556.44,527.53 C558.58,527.72 563.17,527.53 564.20,527.53 L564.20,527.80 L435.77,527.80Z" fill="#aeacaa" stroke="none"/>
<path d="M435.77,527.53 C438.17,527.49 450.66,527.40 453.80,527.25 C456.94,527.11 457.87,527.86 459.35,526.42 C460.83,524.98 463.60,523.31 464.90,516.44 C466.19,509.56 468.13,485.92 469.06,474.83 C469.98,463.73 471.09,441.35 471.83,433.22 C472.57,425.08 473.87,417.50 474.60,413.80 C475.34,410.10 476.64,405.66 477.38,405.48 C478.12,405.29 479.41,410.93 480.15,412.41 C480.89,413.89 482.19,414.17 482.93,416.57 C483.67,418.98 484.96,428.41 485.70,430.44 C486.44,432.48 487.73,430.17 488.47,431.83 C489.21,433.50 490.51,440.15 491.25,442.93 C491.99,445.70 493.28,449.12 494.02,452.64 C494.76,456.15 495.87,467.06 496.80,469.28 C497.72,471.50 500.03,468.72 500.96,469.28 C501.88,469.83 502.99,471.22 503.73,473.44 C504.47,475.66 505.77,484.44 506.50,485.92 C507.24,487.40 508.54,484.91 509.28,484.54 C510.02,484.17 511.31,482.59 512.05,483.15 C512.79,483.70 514.09,487.59 514.83,488.70 C515.57,489.81 516.86,491.84 517.60,491.47 C518.34,491.10 519.63,487.03 520.37,485.92 C521.11,484.81 522.41,485.37 523.15,483.15 C523.89,480.93 525.18,472.24 525.92,469.28 C526.66,466.32 527.96,460.96 528.70,460.96 C529.44,460.96 530.73,466.32 531.47,469.28 C532.21,472.24 533.50,478.34 534.24,483.15 C534.98,487.96 536.09,500.53 537.02,505.34 C537.94,510.15 539.70,516.44 541.18,519.21 C542.66,521.98 546.08,525.03 548.11,526.14 C550.15,527.25 554.29,527.35 556.44,527.53 C558.58,527.72 563.17,527.53 564.20,527.53" fill="none" stroke="#1a1a1a" stroke-width="0.9" stroke-linejoin="round"/>
<path d="M435.20,527.80 V394.40 H564.80 V527.80" fill="none" stroke="#c9c9c9" stroke-width="1"/>
<line x1="435.20" y1="394.40" x2="435.20" y2="527.80" stroke="#b5b5b5" stroke-width="1"/>
<line x1="431.70" y1="397.70" x2="435.20" y2="397.70" stroke="#111" stroke-width="1.1"/>
<text x="430.90" y="403.90" font-size="10" text-anchor="end" fill="#111">600</text>
<line x1="431.70" y1="441.50" x2="435.20" y2="441.50" stroke="#111" stroke-width="1.1"/>
<text x="430.90" y="447.70" font-size="10" text-anchor="end" fill="#111">400</text>
<line x1="431.70" y1="485.10" x2="435.20" y2="485.10" stroke="#111" stroke-width="1.1"/>
<text x="430.90" y="491.30" font-size="10" text-anchor="end" fill="#111">200</text>
<line x1="433.40" y1="516.85" x2="435.20" y2="516.85" stroke="#555" stroke-width="0.7"/>
<line x1="433.40" y1="505.90" x2="435.20" y2="505.90" stroke="#555" stroke-width="0.7"/>
<line x1="433.40" y1="494.95" x2="435.20" y2="494.95" stroke="#555" stroke-width="0.7"/>
<line x1="433.40" y1="484.00" x2="435.20" y2="484.00" stroke="#555" stroke-width="0.7"/>
<line x1="433.40" y1="473.05" x2="435.20" y2="473.05" stroke="#555" stroke-width="0.7"/>
<line x1="433.40" y1="462.10" x2="435.20" y2="462.10" stroke="#555" stroke-width="0.7"/>
<line x1="433.40" y1="451.15" x2="435.20" y2="451.15" stroke="#555" stroke-width="0.7"/>
<line x1="433.40" y1="440.20" x2="435.20" y2="440.20" stroke="#555" stroke-width="0.7"/>
<line x1="433.40" y1="429.25" x2="435.20" y2="429.25" stroke="#555" stroke-width="0.7"/>
<line x1="433.40" y1="418.30" x2="435.20" y2="418.30" stroke="#555" stroke-width="0.7"/>
<line x1="433.40" y1="407.35" x2="435.20" y2="407.35" stroke="#555" stroke-width="0.7"/>
<line x1="433.40" y1="396.40" x2="435.20" y2="396.40" stroke="#555" stroke-width="0.7"/>
<line x1="431.70" y1="527.80" x2="564.80" y2="527.80" stroke="#111" stroke-width="1.3"/>
<line x1="441.10" y1="527.80" x2="441.10" y2="532.10" stroke="#111" stroke-width="1.0"/>
<line x1="487.30" y1="527.80" x2="487.30" y2="532.10" stroke="#111" stroke-width="1.0"/>
<line x1="522.40" y1="527.80" x2="522.40" y2="532.10" stroke="#111" stroke-width="1.0"/>
<line x1="552.00" y1="527.80" x2="552.00" y2="532.10" stroke="#111" stroke-width="1.0"/>
<line x1="497.87" y1="527.80" x2="497.87" y2="530.10" stroke="#333" stroke-width="0.7"/>
<line x1="531.31" y1="527.80" x2="531.31" y2="530.10" stroke="#333" stroke-width="0.7"/>
<line x1="560.91" y1="527.80" x2="560.91" y2="530.10" stroke="#333" stroke-width="0.7"/>
<line x1="504.05" y1="527.80" x2="504.05" y2="530.10" stroke="#333" stroke-width="0.7"/>
<line x1="536.52" y1="527.80" x2="536.52" y2="530.10" stroke="#333" stroke-width="0.7"/>
<line x1="508.43" y1="527.80" x2="508.43" y2="530.10" stroke="#333" stroke-width="0.7"/>
<line x1="540.22" y1="527.80" x2="540.22" y2="530.10" stroke="#333" stroke-width="0.7"/>
<line x1="511.83" y1="527.80" x2="511.83" y2="530.10" stroke="#333" stroke-width="0.7"/>
<line x1="543.09" y1="527.80" x2="543.09" y2="530.10" stroke="#333" stroke-width="0.7"/>
<line x1="514.61" y1="527.80" x2="514.61" y2="530.10" stroke="#333" stroke-width="0.7"/>
<line x1="545.43" y1="527.80" x2="545.43" y2="530.10" stroke="#333" stroke-width="0.7"/>
<line x1="516.96" y1="527.80" x2="516.96" y2="530.10" stroke="#333" stroke-width="0.7"/>
<line x1="547.41" y1="527.80" x2="547.41" y2="530.10" stroke="#333" stroke-width="0.7"/>
<line x1="519.00" y1="527.80" x2="519.00" y2="530.10" stroke="#333" stroke-width="0.7"/>
<line x1="549.13" y1="527.80" x2="549.13" y2="530.10" stroke="#333" stroke-width="0.7"/>
<line x1="520.79" y1="527.80" x2="520.79" y2="530.10" stroke="#333" stroke-width="0.7"/>
<line x1="550.65" y1="527.80" x2="550.65" y2="530.10" stroke="#333" stroke-width="0.7"/>
<line x1="445.70" y1="527.80" x2="445.70" y2="530.10" stroke="#333" stroke-width="0.7"/>
<line x1="450.30" y1="527.80" x2="450.30" y2="530.10" stroke="#333" stroke-width="0.7"/>
<line x1="454.90" y1="527.80" x2="454.90" y2="530.10" stroke="#333" stroke-width="0.7"/>
<line x1="468.70" y1="527.80" x2="468.70" y2="530.10" stroke="#333" stroke-width="0.7"/>
<line x1="473.30" y1="527.80" x2="473.30" y2="530.10" stroke="#333" stroke-width="0.7"/>
<line x1="477.90" y1="527.80" x2="477.90" y2="530.10" stroke="#333" stroke-width="0.7"/>
<line x1="482.50" y1="527.80" x2="482.50" y2="530.10" stroke="#333" stroke-width="0.7"/>
<line x1="477.50" y1="527.80" x2="477.50" y2="531.00" stroke="#222" stroke-width="0.8"/>
<line x1="512.20" y1="527.80" x2="512.20" y2="531.00" stroke="#222" stroke-width="0.8"/>
<line x1="542.80" y1="527.80" x2="542.80" y2="531.00" stroke="#222" stroke-width="0.8"/>
<rect x="460.70" y="527.80" width="6.50" height="3.60" fill="#111" stroke="none" stroke-width="1"/>
<path d="M110.29,674.95 C115.63,674.89 142.97,674.57 150.36,674.51 C157.75,674.46 162.77,674.63 165.69,674.51 C168.61,674.40 170.65,673.99 172.26,673.64 C173.86,673.29 176.51,672.65 177.73,671.89 C178.96,671.13 180.72,669.35 181.45,667.95 C182.18,666.54 182.74,664.59 183.21,661.38 C183.67,658.17 184.52,649.70 184.96,643.86 C185.40,638.02 186.08,625.47 186.49,617.58 C186.90,609.70 187.64,592.62 188.02,584.74 C188.40,576.86 189.04,563.14 189.34,558.47 C189.63,553.79 189.92,550.44 190.21,549.71 C190.50,548.98 191.15,550.36 191.53,552.99 C191.91,555.62 192.65,563.72 193.06,569.41 C193.47,575.11 194.15,588.68 194.59,595.69 C195.03,602.70 195.88,615.54 196.34,621.96 C196.81,628.39 197.57,638.90 198.10,643.86 C198.62,648.82 199.64,656.12 200.28,659.19 C200.93,662.25 201.98,665.16 202.91,666.85 C203.85,668.54 205.83,670.92 207.29,671.89 C208.75,672.85 211.82,673.67 213.86,674.08 C215.90,674.49 219.12,674.84 222.62,674.95 C226.12,675.07 237.80,674.95 240.14,674.95 L240.14,675.10 L110.29,675.10Z" fill="#aeacaa" stroke="none"/>
<path d="M110.29,674.95 C115.63,674.89 142.97,674.57 150.36,674.51 C157.75,674.46 162.77,674.63 165.69,674.51 C168.61,674.40 170.65,673.99 172.26,673.64 C173.86,673.29 176.51,672.65 177.73,671.89 C178.96,671.13 180.72,669.35 181.45,667.95 C182.18,666.54 182.74,664.59 183.21,661.38 C183.67,658.17 184.52,649.70 184.96,643.86 C185.40,638.02 186.08,625.47 186.49,617.58 C186.90,609.70 187.64,592.62 188.02,584.74 C188.40,576.86 189.04,563.14 189.34,558.47 C189.63,553.79 189.92,550.44 190.21,549.71 C190.50,548.98 191.15,550.36 191.53,552.99 C191.91,555.62 192.65,563.72 193.06,569.41 C193.47,575.11 194.15,588.68 194.59,595.69 C195.03,602.70 195.88,615.54 196.34,621.96 C196.81,628.39 197.57,638.90 198.10,643.86 C198.62,648.82 199.64,656.12 200.28,659.19 C200.93,662.25 201.98,665.16 202.91,666.85 C203.85,668.54 205.83,670.92 207.29,671.89 C208.75,672.85 211.82,673.67 213.86,674.08 C215.90,674.49 219.12,674.84 222.62,674.95 C226.12,675.07 237.80,674.95 240.14,674.95" fill="none" stroke="#1a1a1a" stroke-width="0.9" stroke-linejoin="round"/>
<path d="M110.60,675.10 V541.00 H240.10 V675.10" fill="none" stroke="#c9c9c9" stroke-width="1"/>
<line x1="110.60" y1="541.00" x2="110.60" y2="675.10" stroke="#b5b5b5" stroke-width="1"/>
<line x1="107.10" y1="561.70" x2="110.60" y2="561.70" stroke="#111" stroke-width="1.1"/>
<text x="106.30" y="565.30" font-size="10" text-anchor="end" fill="#111">800</text>
<line x1="107.10" y1="590.20" x2="110.60" y2="590.20" stroke="#111" stroke-width="1.1"/>
<text x="106.30" y="593.80" font-size="10" text-anchor="end" fill="#111">600</text>
<line x1="107.10" y1="618.70" x2="110.60" y2="618.70" stroke="#111" stroke-width="1.1"/>
<text x="106.30" y="622.30" font-size="10" text-anchor="end" fill="#111">400</text>
<line x1="107.10" y1="646.70" x2="110.60" y2="646.70" stroke="#111" stroke-width="1.1"/>
<text x="106.30" y="650.30" font-size="10" text-anchor="end" fill="#111">200</text>
<line x1="108.80" y1="667.98" x2="110.60" y2="667.98" stroke="#555" stroke-width="0.7"/>
<line x1="108.80" y1="660.85" x2="110.60" y2="660.85" stroke="#555" stroke-width="0.7"/>
<line x1="108.80" y1="653.73" x2="110.60" y2="653.73" stroke="#555" stroke-width="0.7"/>
<line x1="108.80" y1="646.60" x2="110.60" y2="646.60" stroke="#555" stroke-width="0.7"/>
<line x1="108.80" y1="639.48" x2="110.60" y2="639.48" stroke="#555" stroke-width="0.7"/>
<line x1="108.80" y1="632.35" x2="110.60" y2="632.35" stroke="#555" stroke-width="0.7"/>
<line x1="108.80" y1="625.23" x2="110.60" y2="625.23" stroke="#555" stroke-width="0.7"/>
<line x1="108.80" y1="618.10" x2="110.60" y2="618.10" stroke="#555" stroke-width="0.7"/>
<line x1="108.80" y1="610.98" x2="110.60" y2="610.98" stroke="#555" stroke-width="0.7"/>
<line x1="108.80" y1="603.85" x2="110.60" y2="603.85" stroke="#555" stroke-width="0.7"/>
<line x1="108.80" y1="596.73" x2="110.60" y2="596.73" stroke="#555" stroke-width="0.7"/>
<line x1="108.80" y1="589.60" x2="110.60" y2="589.60" stroke="#555" stroke-width="0.7"/>
<line x1="108.80" y1="582.48" x2="110.60" y2="582.48" stroke="#555" stroke-width="0.7"/>
<line x1="108.80" y1="575.35" x2="110.60" y2="575.35" stroke="#555" stroke-width="0.7"/>
<line x1="108.80" y1="568.23" x2="110.60" y2="568.23" stroke="#555" stroke-width="0.7"/>
<line x1="108.80" y1="561.10" x2="110.60" y2="561.10" stroke="#555" stroke-width="0.7"/>
<line x1="108.80" y1="553.98" x2="110.60" y2="553.98" stroke="#555" stroke-width="0.7"/>
<line x1="108.80" y1="546.85" x2="110.60" y2="546.85" stroke="#555" stroke-width="0.7"/>
<line x1="107.10" y1="675.10" x2="240.10" y2="675.10" stroke="#111" stroke-width="1.3"/>
<line x1="117.30" y1="675.10" x2="117.30" y2="679.40" stroke="#111" stroke-width="1.0"/>
<line x1="163.50" y1="675.10" x2="163.50" y2="679.40" stroke="#111" stroke-width="1.0"/>
<line x1="198.60" y1="675.10" x2="198.60" y2="679.40" stroke="#111" stroke-width="1.0"/>
<line x1="228.20" y1="675.10" x2="228.20" y2="679.40" stroke="#111" stroke-width="1.0"/>
<line x1="174.07" y1="675.10" x2="174.07" y2="677.40" stroke="#333" stroke-width="0.7"/>
<line x1="207.51" y1="675.10" x2="207.51" y2="677.40" stroke="#333" stroke-width="0.7"/>
<line x1="237.11" y1="675.10" x2="237.11" y2="677.40" stroke="#333" stroke-width="0.7"/>
<line x1="180.25" y1="675.10" x2="180.25" y2="677.40" stroke="#333" stroke-width="0.7"/>
<line x1="212.72" y1="675.10" x2="212.72" y2="677.40" stroke="#333" stroke-width="0.7"/>
<line x1="184.63" y1="675.10" x2="184.63" y2="677.40" stroke="#333" stroke-width="0.7"/>
<line x1="216.42" y1="675.10" x2="216.42" y2="677.40" stroke="#333" stroke-width="0.7"/>
<line x1="188.03" y1="675.10" x2="188.03" y2="677.40" stroke="#333" stroke-width="0.7"/>
<line x1="219.29" y1="675.10" x2="219.29" y2="677.40" stroke="#333" stroke-width="0.7"/>
<line x1="190.81" y1="675.10" x2="190.81" y2="677.40" stroke="#333" stroke-width="0.7"/>
<line x1="221.63" y1="675.10" x2="221.63" y2="677.40" stroke="#333" stroke-width="0.7"/>
<line x1="193.16" y1="675.10" x2="193.16" y2="677.40" stroke="#333" stroke-width="0.7"/>
<line x1="223.61" y1="675.10" x2="223.61" y2="677.40" stroke="#333" stroke-width="0.7"/>
<line x1="195.20" y1="675.10" x2="195.20" y2="677.40" stroke="#333" stroke-width="0.7"/>
<line x1="225.33" y1="675.10" x2="225.33" y2="677.40" stroke="#333" stroke-width="0.7"/>
<line x1="196.99" y1="675.10" x2="196.99" y2="677.40" stroke="#333" stroke-width="0.7"/>
<line x1="226.85" y1="675.10" x2="226.85" y2="677.40" stroke="#333" stroke-width="0.7"/>
<line x1="121.90" y1="675.10" x2="121.90" y2="677.40" stroke="#333" stroke-width="0.7"/>
<line x1="126.50" y1="675.10" x2="126.50" y2="677.40" stroke="#333" stroke-width="0.7"/>
<line x1="131.10" y1="675.10" x2="131.10" y2="677.40" stroke="#333" stroke-width="0.7"/>
<line x1="144.90" y1="675.10" x2="144.90" y2="677.40" stroke="#333" stroke-width="0.7"/>
<line x1="149.50" y1="675.10" x2="149.50" y2="677.40" stroke="#333" stroke-width="0.7"/>
<line x1="154.10" y1="675.10" x2="154.10" y2="677.40" stroke="#333" stroke-width="0.7"/>
<line x1="158.70" y1="675.10" x2="158.70" y2="677.40" stroke="#333" stroke-width="0.7"/>
<line x1="153.70" y1="675.10" x2="153.70" y2="678.30" stroke="#222" stroke-width="0.8"/>
<line x1="188.40" y1="675.10" x2="188.40" y2="678.30" stroke="#222" stroke-width="0.8"/>
<line x1="219.00" y1="675.10" x2="219.00" y2="678.30" stroke="#222" stroke-width="0.8"/>
<rect x="136.90" y="675.10" width="6.50" height="3.60" fill="#111" stroke="none" stroke-width="1"/>
<text x="156.90" y="692.00" font-size="10" fill="#111">10<tspan font-size="6.2" dy="-3.9">3</tspan></text>
<text x="189.40" y="692.00" font-size="10" fill="#111">10<tspan font-size="6.2" dy="-3.9">4</tspan></text>
<text x="220.10" y="692.00" font-size="10" fill="#111">10<tspan font-size="6.2" dy="-3.9">5</tspan></text>
<path d="M273.28,676.27 C277.60,676.27 301.08,676.50 305.69,676.27 C310.30,676.03 307.15,675.68 307.88,674.51 C308.61,673.35 310.37,669.26 311.16,667.51 C311.95,665.76 313.21,662.49 313.79,661.38 C314.37,660.27 315.02,659.19 315.54,659.19 C316.07,659.19 317.15,660.36 317.73,661.38 C318.32,662.40 319.25,665.39 319.92,666.85 C320.59,668.31 321.89,671.25 322.77,672.33 C323.64,673.41 325.26,674.46 326.49,674.95 C327.72,675.45 329.77,675.96 331.96,676.05 C334.15,676.14 339.70,675.70 342.91,675.61 C346.12,675.52 353.95,675.83 356.05,675.39 C358.15,674.95 358.04,673.90 358.68,672.33 C359.32,670.75 360.34,666.05 360.87,663.57 C361.39,661.09 362.09,655.61 362.62,653.71 C363.14,651.82 364.22,649.77 364.81,649.33 C365.39,648.90 366.41,650.58 367.00,650.43 C367.58,650.28 368.66,651.16 369.19,648.24 C369.71,645.32 370.50,635.54 370.94,628.53 C371.38,621.53 372.06,603.57 372.47,595.69 C372.88,587.81 373.57,574.23 374.00,569.41 C374.44,564.60 375.29,560.44 375.76,559.56 C376.22,558.68 377.07,560.95 377.51,562.84 C377.95,564.74 378.73,571.89 379.04,573.79 C379.35,575.69 379.36,572.70 379.85,577.08 C380.34,581.46 381.88,598.90 382.70,606.64 C383.52,614.37 384.96,628.39 385.98,635.10 C387.00,641.82 389.34,652.33 390.36,657.00 C391.38,661.67 392.48,667.65 393.65,670.14 C394.81,672.62 397.81,674.79 399.12,675.61 C400.43,676.43 402.92,676.18 403.50,676.27 L403.50,676.30 L273.28,676.30Z" fill="#aeacaa" stroke="none"/>
<path d="M273.28,676.27 C277.60,676.27 301.08,676.50 305.69,676.27 C310.30,676.03 307.15,675.68 307.88,674.51 C308.61,673.35 310.37,669.26 311.16,667.51 C311.95,665.76 313.21,662.49 313.79,661.38 C314.37,660.27 315.02,659.19 315.54,659.19 C316.07,659.19 317.15,660.36 317.73,661.38 C318.32,662.40 319.25,665.39 319.92,666.85 C320.59,668.31 321.89,671.25 322.77,672.33 C323.64,673.41 325.26,674.46 326.49,674.95 C327.72,675.45 329.77,675.96 331.96,676.05 C334.15,676.14 339.70,675.70 342.91,675.61 C346.12,675.52 353.95,675.83 356.05,675.39 C358.15,674.95 358.04,673.90 358.68,672.33 C359.32,670.75 360.34,666.05 360.87,663.57 C361.39,661.09 362.09,655.61 362.62,653.71 C363.14,651.82 364.22,649.77 364.81,649.33 C365.39,648.90 366.41,650.58 367.00,650.43 C367.58,650.28 368.66,651.16 369.19,648.24 C369.71,645.32 370.50,635.54 370.94,628.53 C371.38,621.53 372.06,603.57 372.47,595.69 C372.88,587.81 373.57,574.23 374.00,569.41 C374.44,564.60 375.29,560.44 375.76,559.56 C376.22,558.68 377.07,560.95 377.51,562.84 C377.95,564.74 378.73,571.89 379.04,573.79 C379.35,575.69 379.36,572.70 379.85,577.08 C380.34,581.46 381.88,598.90 382.70,606.64 C383.52,614.37 384.96,628.39 385.98,635.10 C387.00,641.82 389.34,652.33 390.36,657.00 C391.38,661.67 392.48,667.65 393.65,670.14 C394.81,672.62 397.81,674.79 399.12,675.61 C400.43,676.43 402.92,676.18 403.50,676.27" fill="none" stroke="#1a1a1a" stroke-width="0.9" stroke-linejoin="round"/>
<path d="M273.30,676.30 V543.60 H403.50 V676.30" fill="none" stroke="#c9c9c9" stroke-width="1"/>
<line x1="273.30" y1="543.60" x2="273.30" y2="676.30" stroke="#b5b5b5" stroke-width="1"/>
<line x1="269.80" y1="566.80" x2="273.30" y2="566.80" stroke="#111" stroke-width="1.1"/>
<text x="269.00" y="570.40" font-size="10" text-anchor="end" fill="#111">800</text>
<line x1="269.80" y1="594.60" x2="273.30" y2="594.60" stroke="#111" stroke-width="1.1"/>
<text x="269.00" y="598.20" font-size="10" text-anchor="end" fill="#111">600</text>
<line x1="269.80" y1="622.00" x2="273.30" y2="622.00" stroke="#111" stroke-width="1.1"/>
<text x="269.00" y="625.60" font-size="10" text-anchor="end" fill="#111">400</text>
<line x1="269.80" y1="649.30" x2="273.30" y2="649.30" stroke="#111" stroke-width="1.1"/>
<text x="269.00" y="652.90" font-size="10" text-anchor="end" fill="#111">200</text>
<line x1="271.50" y1="669.35" x2="273.30" y2="669.35" stroke="#555" stroke-width="0.7"/>
<line x1="271.50" y1="662.40" x2="273.30" y2="662.40" stroke="#555" stroke-width="0.7"/>
<line x1="271.50" y1="655.45" x2="273.30" y2="655.45" stroke="#555" stroke-width="0.7"/>
<line x1="271.50" y1="648.50" x2="273.30" y2="648.50" stroke="#555" stroke-width="0.7"/>
<line x1="271.50" y1="641.55" x2="273.30" y2="641.55" stroke="#555" stroke-width="0.7"/>
<line x1="271.50" y1="634.60" x2="273.30" y2="634.60" stroke="#555" stroke-width="0.7"/>
<line x1="271.50" y1="627.65" x2="273.30" y2="627.65" stroke="#555" stroke-width="0.7"/>
<line x1="271.50" y1="620.70" x2="273.30" y2="620.70" stroke="#555" stroke-width="0.7"/>
<line x1="271.50" y1="613.75" x2="273.30" y2="613.75" stroke="#555" stroke-width="0.7"/>
<line x1="271.50" y1="606.80" x2="273.30" y2="606.80" stroke="#555" stroke-width="0.7"/>
<line x1="271.50" y1="599.85" x2="273.30" y2="599.85" stroke="#555" stroke-width="0.7"/>
<line x1="271.50" y1="592.90" x2="273.30" y2="592.90" stroke="#555" stroke-width="0.7"/>
<line x1="271.50" y1="585.95" x2="273.30" y2="585.95" stroke="#555" stroke-width="0.7"/>
<line x1="271.50" y1="579.00" x2="273.30" y2="579.00" stroke="#555" stroke-width="0.7"/>
<line x1="271.50" y1="572.05" x2="273.30" y2="572.05" stroke="#555" stroke-width="0.7"/>
<line x1="271.50" y1="565.10" x2="273.30" y2="565.10" stroke="#555" stroke-width="0.7"/>
<line x1="271.50" y1="558.15" x2="273.30" y2="558.15" stroke="#555" stroke-width="0.7"/>
<line x1="271.50" y1="551.20" x2="273.30" y2="551.20" stroke="#555" stroke-width="0.7"/>
<line x1="271.50" y1="544.25" x2="273.30" y2="544.25" stroke="#555" stroke-width="0.7"/>
<line x1="269.80" y1="676.30" x2="403.50" y2="676.30" stroke="#111" stroke-width="1.3"/>
<line x1="277.00" y1="676.30" x2="277.00" y2="680.60" stroke="#111" stroke-width="1.0"/>
<line x1="323.20" y1="676.30" x2="323.20" y2="680.60" stroke="#111" stroke-width="1.0"/>
<line x1="358.30" y1="676.30" x2="358.30" y2="680.60" stroke="#111" stroke-width="1.0"/>
<line x1="387.90" y1="676.30" x2="387.90" y2="680.60" stroke="#111" stroke-width="1.0"/>
<line x1="333.77" y1="676.30" x2="333.77" y2="678.60" stroke="#333" stroke-width="0.7"/>
<line x1="367.21" y1="676.30" x2="367.21" y2="678.60" stroke="#333" stroke-width="0.7"/>
<line x1="396.81" y1="676.30" x2="396.81" y2="678.60" stroke="#333" stroke-width="0.7"/>
<line x1="339.95" y1="676.30" x2="339.95" y2="678.60" stroke="#333" stroke-width="0.7"/>
<line x1="372.42" y1="676.30" x2="372.42" y2="678.60" stroke="#333" stroke-width="0.7"/>
<line x1="402.02" y1="676.30" x2="402.02" y2="678.60" stroke="#333" stroke-width="0.7"/>
<line x1="344.33" y1="676.30" x2="344.33" y2="678.60" stroke="#333" stroke-width="0.7"/>
<line x1="376.12" y1="676.30" x2="376.12" y2="678.60" stroke="#333" stroke-width="0.7"/>
<line x1="347.73" y1="676.30" x2="347.73" y2="678.60" stroke="#333" stroke-width="0.7"/>
<line x1="378.99" y1="676.30" x2="378.99" y2="678.60" stroke="#333" stroke-width="0.7"/>
<line x1="350.51" y1="676.30" x2="350.51" y2="678.60" stroke="#333" stroke-width="0.7"/>
<line x1="381.33" y1="676.30" x2="381.33" y2="678.60" stroke="#333" stroke-width="0.7"/>
<line x1="352.86" y1="676.30" x2="352.86" y2="678.60" stroke="#333" stroke-width="0.7"/>
<line x1="383.31" y1="676.30" x2="383.31" y2="678.60" stroke="#333" stroke-width="0.7"/>
<line x1="354.90" y1="676.30" x2="354.90" y2="678.60" stroke="#333" stroke-width="0.7"/>
<line x1="385.03" y1="676.30" x2="385.03" y2="678.60" stroke="#333" stroke-width="0.7"/>
<line x1="356.69" y1="676.30" x2="356.69" y2="678.60" stroke="#333" stroke-width="0.7"/>
<line x1="386.55" y1="676.30" x2="386.55" y2="678.60" stroke="#333" stroke-width="0.7"/>
<line x1="281.60" y1="676.30" x2="281.60" y2="678.60" stroke="#333" stroke-width="0.7"/>
<line x1="286.20" y1="676.30" x2="286.20" y2="678.60" stroke="#333" stroke-width="0.7"/>
<line x1="290.80" y1="676.30" x2="290.80" y2="678.60" stroke="#333" stroke-width="0.7"/>
<line x1="304.60" y1="676.30" x2="304.60" y2="678.60" stroke="#333" stroke-width="0.7"/>
<line x1="309.20" y1="676.30" x2="309.20" y2="678.60" stroke="#333" stroke-width="0.7"/>
<line x1="313.80" y1="676.30" x2="313.80" y2="678.60" stroke="#333" stroke-width="0.7"/>
<line x1="318.40" y1="676.30" x2="318.40" y2="678.60" stroke="#333" stroke-width="0.7"/>
<line x1="313.40" y1="676.30" x2="313.40" y2="679.50" stroke="#222" stroke-width="0.8"/>
<line x1="348.10" y1="676.30" x2="348.10" y2="679.50" stroke="#222" stroke-width="0.8"/>
<line x1="378.70" y1="676.30" x2="378.70" y2="679.50" stroke="#222" stroke-width="0.8"/>
<rect x="296.60" y="676.30" width="6.50" height="3.60" fill="#111" stroke="none" stroke-width="1"/>
<text x="316.60" y="692.00" font-size="10" fill="#111">10<tspan font-size="6.2" dy="-3.9">3</tspan></text>
<text x="349.10" y="692.00" font-size="10" fill="#111">10<tspan font-size="6.2" dy="-3.9">4</tspan></text>
<text x="379.80" y="692.00" font-size="10" fill="#111">10<tspan font-size="6.2" dy="-3.9">5</tspan></text>
<path d="M436.57,676.27 C438.03,676.27 444.31,676.50 447.52,676.27 C450.73,676.03 458.17,675.19 460.65,674.51 C463.14,673.84 464.81,672.98 466.13,671.23 C467.44,669.48 469.49,664.73 470.51,661.38 C471.53,658.02 473.06,650.14 473.79,646.05 C474.52,641.96 475.40,635.69 475.98,630.72 C476.57,625.76 477.59,614.08 478.17,608.83 C478.76,603.57 479.84,595.40 480.36,591.31 C480.89,587.22 481.73,581.97 482.11,578.17 C482.49,574.38 482.86,565.03 483.21,562.84 C483.56,560.65 484.30,561.02 484.74,561.75 C485.18,562.48 486.05,566.86 486.49,568.32 C486.93,569.78 487.62,573.43 488.02,572.70 C488.43,571.97 489.18,565.62 489.56,562.84 C489.94,560.07 490.49,553.01 490.87,551.90 C491.25,550.79 492.00,553.79 492.40,554.52 C492.81,555.25 493.50,553.63 493.94,557.37 C494.37,561.11 495.31,577.44 495.69,582.55 C496.07,587.66 496.35,591.31 496.78,595.69 C497.22,600.07 498.39,613.64 498.97,615.40 C499.56,617.15 500.58,610.29 501.16,608.83 C501.75,607.37 502.77,603.28 503.35,604.45 C503.94,605.61 504.81,614.37 505.54,617.58 C506.27,620.80 508.10,628.24 508.83,628.53 C509.56,628.82 510.43,621.67 511.02,619.77 C511.60,617.88 512.62,614.59 513.21,614.30 C513.79,614.01 514.81,617.00 515.40,617.58 C515.98,618.17 517.00,617.51 517.58,618.68 C518.17,619.85 519.25,625.32 519.77,626.34 C520.30,627.37 521.09,627.37 521.53,626.34 C521.96,625.32 522.56,618.97 523.06,618.68 C523.56,618.39 524.66,621.67 525.25,624.15 C525.83,626.64 526.71,634.66 527.44,637.29 C528.17,639.92 529.70,641.52 530.72,643.86 C531.74,646.20 533.93,652.18 535.10,654.81 C536.27,657.44 538.46,661.67 539.48,663.57 C540.50,665.46 541.89,667.87 542.77,669.04 C543.64,670.21 545.17,671.42 546.05,672.33 C546.93,673.23 548.46,675.30 549.33,675.83 C550.21,676.35 550.49,676.21 552.62,676.27 C554.75,676.33 563.63,676.27 565.32,676.27 L565.32,676.30 L436.57,676.30Z" fill="#aeacaa" stroke="none"/>
<path d="M436.57,676.27 C438.03,676.27 444.31,676.50 447.52,676.27 C450.73,676.03 458.17,675.19 460.65,674.51 C463.14,673.84 464.81,672.98 466.13,671.23 C467.44,669.48 469.49,664.73 470.51,661.38 C471.53,658.02 473.06,650.14 473.79,646.05 C474.52,641.96 475.40,635.69 475.98,630.72 C476.57,625.76 477.59,614.08 478.17,608.83 C478.76,603.57 479.84,595.40 480.36,591.31 C480.89,587.22 481.73,581.97 482.11,578.17 C482.49,574.38 482.86,565.03 483.21,562.84 C483.56,560.65 484.30,561.02 484.74,561.75 C485.18,562.48 486.05,566.86 486.49,568.32 C486.93,569.78 487.62,573.43 488.02,572.70 C488.43,571.97 489.18,565.62 489.56,562.84 C489.94,560.07 490.49,553.01 490.87,551.90 C491.25,550.79 492.00,553.79 492.40,554.52 C492.81,555.25 493.50,553.63 493.94,557.37 C494.37,561.11 495.31,577.44 495.69,582.55 C496.07,587.66 496.35,591.31 496.78,595.69 C497.22,600.07 498.39,613.64 498.97,615.40 C499.56,617.15 500.58,610.29 501.16,608.83 C501.75,607.37 502.77,603.28 503.35,604.45 C503.94,605.61 504.81,614.37 505.54,617.58 C506.27,620.80 508.10,628.24 508.83,628.53 C509.56,628.82 510.43,621.67 511.02,619.77 C511.60,617.88 512.62,614.59 513.21,614.30 C513.79,614.01 514.81,617.00 515.40,617.58 C515.98,618.17 517.00,617.51 517.58,618.68 C518.17,619.85 519.25,625.32 519.77,626.34 C520.30,627.37 521.09,627.37 521.53,626.34 C521.96,625.32 522.56,618.97 523.06,618.68 C523.56,618.39 524.66,621.67 525.25,624.15 C525.83,626.64 526.71,634.66 527.44,637.29 C528.17,639.92 529.70,641.52 530.72,643.86 C531.74,646.20 533.93,652.18 535.10,654.81 C536.27,657.44 538.46,661.67 539.48,663.57 C540.50,665.46 541.89,667.87 542.77,669.04 C543.64,670.21 545.17,671.42 546.05,672.33 C546.93,673.23 548.46,675.30 549.33,675.83 C550.21,676.35 550.49,676.21 552.62,676.27 C554.75,676.33 563.63,676.27 565.32,676.27" fill="none" stroke="#1a1a1a" stroke-width="0.9" stroke-linejoin="round"/>
<path d="M436.20,676.30 V543.30 H565.80 V676.30" fill="none" stroke="#c9c9c9" stroke-width="1"/>
<line x1="436.20" y1="543.30" x2="436.20" y2="676.30" stroke="#b5b5b5" stroke-width="1"/>
<line x1="432.70" y1="567.20" x2="436.20" y2="567.20" stroke="#111" stroke-width="1.1"/>
<text x="431.90" y="570.80" font-size="10" text-anchor="end" fill="#111">800</text>
<line x1="432.70" y1="594.00" x2="436.20" y2="594.00" stroke="#111" stroke-width="1.1"/>
<text x="431.90" y="597.60" font-size="10" text-anchor="end" fill="#111">600</text>
<line x1="432.70" y1="621.50" x2="436.20" y2="621.50" stroke="#111" stroke-width="1.1"/>
<text x="431.90" y="625.10" font-size="10" text-anchor="end" fill="#111">400</text>
<line x1="432.70" y1="649.30" x2="436.20" y2="649.30" stroke="#111" stroke-width="1.1"/>
<text x="431.90" y="652.90" font-size="10" text-anchor="end" fill="#111">200</text>
<line x1="434.40" y1="669.60" x2="436.20" y2="669.60" stroke="#555" stroke-width="0.7"/>
<line x1="434.40" y1="662.90" x2="436.20" y2="662.90" stroke="#555" stroke-width="0.7"/>
<line x1="434.40" y1="656.20" x2="436.20" y2="656.20" stroke="#555" stroke-width="0.7"/>
<line x1="434.40" y1="649.50" x2="436.20" y2="649.50" stroke="#555" stroke-width="0.7"/>
<line x1="434.40" y1="642.80" x2="436.20" y2="642.80" stroke="#555" stroke-width="0.7"/>
<line x1="434.40" y1="636.10" x2="436.20" y2="636.10" stroke="#555" stroke-width="0.7"/>
<line x1="434.40" y1="629.40" x2="436.20" y2="629.40" stroke="#555" stroke-width="0.7"/>
<line x1="434.40" y1="622.70" x2="436.20" y2="622.70" stroke="#555" stroke-width="0.7"/>
<line x1="434.40" y1="616.00" x2="436.20" y2="616.00" stroke="#555" stroke-width="0.7"/>
<line x1="434.40" y1="609.30" x2="436.20" y2="609.30" stroke="#555" stroke-width="0.7"/>
<line x1="434.40" y1="602.60" x2="436.20" y2="602.60" stroke="#555" stroke-width="0.7"/>
<line x1="434.40" y1="595.90" x2="436.20" y2="595.90" stroke="#555" stroke-width="0.7"/>
<line x1="434.40" y1="589.20" x2="436.20" y2="589.20" stroke="#555" stroke-width="0.7"/>
<line x1="434.40" y1="582.50" x2="436.20" y2="582.50" stroke="#555" stroke-width="0.7"/>
<line x1="434.40" y1="575.80" x2="436.20" y2="575.80" stroke="#555" stroke-width="0.7"/>
<line x1="434.40" y1="569.10" x2="436.20" y2="569.10" stroke="#555" stroke-width="0.7"/>
<line x1="434.40" y1="562.40" x2="436.20" y2="562.40" stroke="#555" stroke-width="0.7"/>
<line x1="434.40" y1="555.70" x2="436.20" y2="555.70" stroke="#555" stroke-width="0.7"/>
<line x1="434.40" y1="549.00" x2="436.20" y2="549.00" stroke="#555" stroke-width="0.7"/>
<line x1="432.70" y1="676.30" x2="565.80" y2="676.30" stroke="#111" stroke-width="1.3"/>
<line x1="443.40" y1="676.30" x2="443.40" y2="680.60" stroke="#111" stroke-width="1.0"/>
<line x1="489.60" y1="676.30" x2="489.60" y2="680.60" stroke="#111" stroke-width="1.0"/>
<line x1="524.70" y1="676.30" x2="524.70" y2="680.60" stroke="#111" stroke-width="1.0"/>
<line x1="554.30" y1="676.30" x2="554.30" y2="680.60" stroke="#111" stroke-width="1.0"/>
<line x1="500.17" y1="676.30" x2="500.17" y2="678.60" stroke="#333" stroke-width="0.7"/>
<line x1="533.61" y1="676.30" x2="533.61" y2="678.60" stroke="#333" stroke-width="0.7"/>
<line x1="563.21" y1="676.30" x2="563.21" y2="678.60" stroke="#333" stroke-width="0.7"/>
<line x1="506.35" y1="676.30" x2="506.35" y2="678.60" stroke="#333" stroke-width="0.7"/>
<line x1="538.82" y1="676.30" x2="538.82" y2="678.60" stroke="#333" stroke-width="0.7"/>
<line x1="510.73" y1="676.30" x2="510.73" y2="678.60" stroke="#333" stroke-width="0.7"/>
<line x1="542.52" y1="676.30" x2="542.52" y2="678.60" stroke="#333" stroke-width="0.7"/>
<line x1="514.13" y1="676.30" x2="514.13" y2="678.60" stroke="#333" stroke-width="0.7"/>
<line x1="545.39" y1="676.30" x2="545.39" y2="678.60" stroke="#333" stroke-width="0.7"/>
<line x1="516.91" y1="676.30" x2="516.91" y2="678.60" stroke="#333" stroke-width="0.7"/>
<line x1="547.73" y1="676.30" x2="547.73" y2="678.60" stroke="#333" stroke-width="0.7"/>
<line x1="519.26" y1="676.30" x2="519.26" y2="678.60" stroke="#333" stroke-width="0.7"/>
<line x1="549.71" y1="676.30" x2="549.71" y2="678.60" stroke="#333" stroke-width="0.7"/>
<line x1="521.30" y1="676.30" x2="521.30" y2="678.60" stroke="#333" stroke-width="0.7"/>
<line x1="551.43" y1="676.30" x2="551.43" y2="678.60" stroke="#333" stroke-width="0.7"/>
<line x1="523.09" y1="676.30" x2="523.09" y2="678.60" stroke="#333" stroke-width="0.7"/>
<line x1="552.95" y1="676.30" x2="552.95" y2="678.60" stroke="#333" stroke-width="0.7"/>
<line x1="448.00" y1="676.30" x2="448.00" y2="678.60" stroke="#333" stroke-width="0.7"/>
<line x1="452.60" y1="676.30" x2="452.60" y2="678.60" stroke="#333" stroke-width="0.7"/>
<line x1="457.20" y1="676.30" x2="457.20" y2="678.60" stroke="#333" stroke-width="0.7"/>
<line x1="471.00" y1="676.30" x2="471.00" y2="678.60" stroke="#333" stroke-width="0.7"/>
<line x1="475.60" y1="676.30" x2="475.60" y2="678.60" stroke="#333" stroke-width="0.7"/>
<line x1="480.20" y1="676.30" x2="480.20" y2="678.60" stroke="#333" stroke-width="0.7"/>
<line x1="484.80" y1="676.30" x2="484.80" y2="678.60" stroke="#333" stroke-width="0.7"/>
<line x1="479.80" y1="676.30" x2="479.80" y2="679.50" stroke="#222" stroke-width="0.8"/>
<line x1="514.50" y1="676.30" x2="514.50" y2="679.50" stroke="#222" stroke-width="0.8"/>
<line x1="545.10" y1="676.30" x2="545.10" y2="679.50" stroke="#222" stroke-width="0.8"/>
<rect x="463.00" y="676.30" width="6.50" height="3.60" fill="#111" stroke="none" stroke-width="1"/>
<text x="483.00" y="692.00" font-size="10" fill="#111">10<tspan font-size="6.2" dy="-3.9">3</tspan></text>
<text x="515.50" y="692.00" font-size="10" fill="#111">10<tspan font-size="6.2" dy="-3.9">4</tspan></text>
<text x="546.20" y="692.00" font-size="10" fill="#111">10<tspan font-size="6.2" dy="-3.9">5</tspan></text>
<line x1="31.40" y1="907.90" x2="31.40" y2="783.10" stroke="#000" stroke-width="1.3"/>
<line x1="27.60" y1="907.30" x2="31.40" y2="907.30" stroke="#000" stroke-width="1.3"/>
<text x="27.20" y="910.83" font-size="9.8" font-weight="bold" text-anchor="end" fill="#000" textLength="5.3" lengthAdjust="spacingAndGlyphs">0</text>
<line x1="27.60" y1="866.10" x2="31.40" y2="866.10" stroke="#000" stroke-width="1.3"/>
<text x="27.20" y="869.63" font-size="9.8" font-weight="bold" text-anchor="end" fill="#000" textLength="5.3" lengthAdjust="spacingAndGlyphs">5</text>
<line x1="27.60" y1="824.90" x2="31.40" y2="824.90" stroke="#000" stroke-width="1.3"/>
<text x="27.20" y="828.43" font-size="9.8" font-weight="bold" text-anchor="end" fill="#000" textLength="10.6" lengthAdjust="spacingAndGlyphs">10</text>
<line x1="27.60" y1="783.70" x2="31.40" y2="783.70" stroke="#000" stroke-width="1.3"/>
<text x="27.20" y="787.23" font-size="9.8" font-weight="bold" text-anchor="end" fill="#000" textLength="10.6" lengthAdjust="spacingAndGlyphs">15</text>
<line x1="31.40" y1="907.30" x2="215.90" y2="907.30" stroke="#000" stroke-width="1.2"/>
<line x1="77.50" y1="907.30" x2="77.50" y2="910.80" stroke="#000" stroke-width="1.2"/>
<line x1="169.70" y1="907.30" x2="169.70" y2="910.80" stroke="#000" stroke-width="1.2"/>
<text x="10.80" y="845.90" font-size="10.2" font-weight="bold" text-anchor="middle" fill="#000" transform="rotate(-90 10.80 845.90)" textLength="80.2" lengthAdjust="spacingAndGlyphs">Stimulation index</text>
<line x1="77.64" y1="841.54" x2="77.64" y2="887.69" stroke="#000" stroke-width="1.2"/>
<line x1="47.18" y1="864.51" x2="107.69" y2="864.51" stroke="#000" stroke-width="1.2"/>
<line x1="61.95" y1="841.54" x2="93.33" y2="841.54" stroke="#000" stroke-width="1.2"/>
<line x1="61.95" y1="887.69" x2="93.33" y2="887.69" stroke="#000" stroke-width="1.2"/>
<circle cx="77.54" cy="817.54" r="2.45" fill="#000"/>
<circle cx="77.54" cy="824.72" r="2.45" fill="#000"/>
<circle cx="73.85" cy="841.54" r="2.45" fill="#000"/>
<circle cx="81.03" cy="839.90" r="2.45" fill="#000"/>
<circle cx="66.26" cy="855.90" r="2.45" fill="#000"/>
<circle cx="88.62" cy="858.56" r="2.45" fill="#000"/>
<circle cx="73.85" cy="861.44" r="2.45" fill="#000"/>
<circle cx="81.03" cy="862.05" r="2.45" fill="#000"/>
<circle cx="70.15" cy="870.46" r="2.45" fill="#000"/>
<circle cx="77.54" cy="873.74" r="2.45" fill="#000"/>
<circle cx="84.72" cy="872.72" r="2.45" fill="#000"/>
<circle cx="66.26" cy="879.49" r="2.45" fill="#000"/>
<circle cx="73.85" cy="885.23" r="2.45" fill="#000"/>
<circle cx="84.72" cy="885.23" r="2.45" fill="#000"/>
<circle cx="91.90" cy="883.18" r="2.45" fill="#000"/>
<circle cx="81.03" cy="890.77" r="2.45" fill="#000"/>
<circle cx="73.85" cy="897.95" r="2.45" fill="#000"/>
<line x1="169.74" y1="862.46" x2="169.74" y2="900.62" stroke="#000" stroke-width="1.2"/>
<line x1="139.38" y1="881.54" x2="200.10" y2="881.54" stroke="#000" stroke-width="1.2"/>
<line x1="154.36" y1="862.46" x2="185.13" y2="862.46" stroke="#000" stroke-width="1.2"/>
<line x1="154.36" y1="900.62" x2="185.13" y2="900.62" stroke="#000" stroke-width="1.2"/>
<rect x="167.54" y="834.21" width="4.40" height="4.40" fill="#000"/>
<rect x="167.54" y="849.18" width="4.40" height="4.40" fill="#000"/>
<rect x="167.54" y="862.31" width="4.40" height="4.40" fill="#000"/>
<rect x="171.24" y="866.62" width="4.40" height="4.40" fill="#000"/>
<rect x="163.85" y="873.59" width="4.40" height="4.40" fill="#000"/>
<rect x="167.54" y="885.90" width="4.40" height="4.40" fill="#000"/>
<rect x="141.29" y="889.59" width="4.40" height="4.40" fill="#000"/>
<rect x="149.08" y="890.42" width="4.40" height="4.40" fill="#000"/>
<rect x="156.67" y="894.93" width="4.40" height="4.40" fill="#000"/>
<rect x="163.85" y="895.75" width="4.40" height="4.40" fill="#000"/>
<rect x="171.24" y="895.75" width="4.40" height="4.40" fill="#000"/>
<rect x="178.83" y="892.67" width="4.40" height="4.40" fill="#000"/>
<rect x="186.01" y="889.59" width="4.40" height="4.40" fill="#000"/>
<rect x="193.18" y="888.98" width="4.40" height="4.40" fill="#000"/>
<line x1="75.60" y1="795.40" x2="168.80" y2="795.40" stroke="#888" stroke-width="1.0"/>
<line x1="75.60" y1="793.00" x2="75.60" y2="797.80" stroke="#888" stroke-width="1.0"/>
<line x1="168.80" y1="793.00" x2="168.80" y2="797.80" stroke="#888" stroke-width="1.0"/>
<text x="122.00" y="794.20" font-size="11" text-anchor="middle" fill="#333">*</text>
<text x="76.40" y="927.70" font-size="11" font-weight="bold" text-anchor="middle" fill="#000" textLength="39.7" lengthAdjust="spacingAndGlyphs">BMI &lt; 35</text>
<text x="165.20" y="928.80" font-size="11" font-weight="bold" text-anchor="middle" fill="#000" textLength="39.7" lengthAdjust="spacingAndGlyphs">BMI &gt; 35</text>
<line x1="280.10" y1="900.00" x2="280.10" y2="779.30" stroke="#000" stroke-width="1.3"/>
<line x1="274.50" y1="899.40" x2="280.10" y2="899.40" stroke="#000" stroke-width="1.3"/>
<text x="274.40" y="902.50" font-size="8.6" font-weight="bold" text-anchor="end" fill="#000" textLength="4.4" lengthAdjust="spacingAndGlyphs">0</text>
<line x1="274.50" y1="875.50" x2="280.10" y2="875.50" stroke="#000" stroke-width="1.3"/>
<text x="274.40" y="878.60" font-size="8.6" font-weight="bold" text-anchor="end" fill="#000" textLength="8.8" lengthAdjust="spacingAndGlyphs">10</text>
<line x1="274.50" y1="851.60" x2="280.10" y2="851.60" stroke="#000" stroke-width="1.3"/>
<text x="274.40" y="854.70" font-size="8.6" font-weight="bold" text-anchor="end" fill="#000" textLength="8.8" lengthAdjust="spacingAndGlyphs">20</text>
<line x1="274.50" y1="827.70" x2="280.10" y2="827.70" stroke="#000" stroke-width="1.3"/>
<text x="274.40" y="830.80" font-size="8.6" font-weight="bold" text-anchor="end" fill="#000" textLength="8.8" lengthAdjust="spacingAndGlyphs">30</text>
<line x1="274.50" y1="803.80" x2="280.10" y2="803.80" stroke="#000" stroke-width="1.3"/>
<text x="274.40" y="806.90" font-size="8.6" font-weight="bold" text-anchor="end" fill="#000" textLength="8.8" lengthAdjust="spacingAndGlyphs">40</text>
<line x1="274.50" y1="779.90" x2="280.10" y2="779.90" stroke="#000" stroke-width="1.3"/>
<text x="274.40" y="783.00" font-size="8.6" font-weight="bold" text-anchor="end" fill="#000" textLength="8.8" lengthAdjust="spacingAndGlyphs">50</text>
<line x1="280.10" y1="899.40" x2="458.30" y2="899.40" stroke="#000" stroke-width="1.2"/>
<line x1="324.60" y1="899.40" x2="324.60" y2="902.90" stroke="#000" stroke-width="1.2"/>
<line x1="414.50" y1="899.40" x2="414.50" y2="902.90" stroke="#000" stroke-width="1.2"/>
<text x="234.00" y="833.70" font-size="10.8" font-weight="bold" text-anchor="middle" fill="#000" transform="rotate(-90 234.00 833.70)" textLength="90.8" lengthAdjust="spacingAndGlyphs">% CCR7-CD45RA-</text>
<text x="244.40" y="835.80" font-size="10.4" font-weight="bold" text-anchor="middle" fill="#000" transform="rotate(-90 244.40 835.80)" textLength="93.6" lengthAdjust="spacingAndGlyphs">gated on proliferated</text>
<text x="257.00" y="836.10" font-size="10.6" font-weight="bold" text-anchor="middle" fill="#000" transform="rotate(-90 257.00 836.10)" textLength="56.6" lengthAdjust="spacingAndGlyphs">CD4+ T cells</text>
<circle cx="328.10" cy="797.85" r="2.35" fill="#000"/>
<circle cx="320.92" cy="805.23" r="2.35" fill="#000"/>
<circle cx="317.44" cy="814.26" r="2.35" fill="#000"/>
<circle cx="324.62" cy="814.26" r="2.35" fill="#000"/>
<circle cx="331.79" cy="812.82" r="2.35" fill="#000"/>
<circle cx="317.44" cy="826.56" r="2.35" fill="#000"/>
<circle cx="324.62" cy="827.79" r="2.35" fill="#000"/>
<circle cx="335.28" cy="827.79" r="2.35" fill="#000"/>
<circle cx="331.79" cy="834.77" r="2.35" fill="#000"/>
<circle cx="317.44" cy="839.90" r="2.35" fill="#000"/>
<circle cx="324.62" cy="840.92" r="2.35" fill="#000"/>
<circle cx="324.62" cy="866.15" r="2.35" fill="#000"/>
<line x1="324.60" y1="806.90" x2="324.60" y2="844.40" stroke="#000" stroke-width="1.2"/>
<line x1="295.30" y1="825.10" x2="354.20" y2="825.10" stroke="#000" stroke-width="1.2"/>
<line x1="309.30" y1="806.90" x2="340.20" y2="806.90" stroke="#000" stroke-width="1.2"/>
<line x1="309.30" y1="844.40" x2="340.20" y2="844.40" stroke="#000" stroke-width="1.2"/>
<rect x="405.35" y="832.75" width="4.30" height="4.30" fill="#000"/>
<rect x="419.65" y="830.35" width="4.30" height="4.30" fill="#000"/>
<rect x="412.35" y="837.65" width="4.30" height="4.30" fill="#000"/>
<rect x="416.15" y="849.55" width="4.30" height="4.30" fill="#000"/>
<rect x="408.85" y="854.55" width="4.30" height="4.30" fill="#000"/>
<line x1="414.50" y1="832.10" x2="414.50" y2="853.50" stroke="#000" stroke-width="1.2"/>
<line x1="384.70" y1="843.00" x2="444.20" y2="843.00" stroke="#000" stroke-width="1.2"/>
<line x1="399.40" y1="832.10" x2="429.50" y2="832.10" stroke="#000" stroke-width="1.2"/>
<line x1="399.40" y1="853.50" x2="429.50" y2="853.50" stroke="#000" stroke-width="1.2"/>
<text x="321.55" y="923.20" font-size="11.2" font-weight="bold" text-anchor="middle" fill="#000" textLength="45.3" lengthAdjust="spacingAndGlyphs">BMI &lt; 35</text>
<text x="413.20" y="924.90" font-size="11.2" font-weight="bold" text-anchor="middle" fill="#000" textLength="45.3" lengthAdjust="spacingAndGlyphs">BMI &gt; 35</text>
<line x1="504.60" y1="897.70" x2="504.60" y2="777.80" stroke="#000" stroke-width="1.3"/>
<line x1="499.60" y1="897.10" x2="504.60" y2="897.10" stroke="#000" stroke-width="1.3"/>
<text x="499.30" y="900.34" font-size="9.0" font-weight="bold" text-anchor="end" fill="#000" textLength="4.4" lengthAdjust="spacingAndGlyphs">0</text>
<line x1="499.60" y1="857.53" x2="504.60" y2="857.53" stroke="#000" stroke-width="1.3"/>
<text x="499.30" y="860.77" font-size="9.0" font-weight="bold" text-anchor="end" fill="#000" textLength="4.4" lengthAdjust="spacingAndGlyphs">5</text>
<line x1="499.60" y1="817.97" x2="504.60" y2="817.97" stroke="#000" stroke-width="1.3"/>
<text x="499.30" y="821.21" font-size="9.0" font-weight="bold" text-anchor="end" fill="#000" textLength="8.8" lengthAdjust="spacingAndGlyphs">10</text>
<line x1="499.60" y1="778.40" x2="504.60" y2="778.40" stroke="#000" stroke-width="1.3"/>
<text x="499.30" y="781.64" font-size="9.0" font-weight="bold" text-anchor="end" fill="#000" textLength="8.8" lengthAdjust="spacingAndGlyphs">15</text>
<line x1="504.60" y1="897.10" x2="685.00" y2="897.10" stroke="#000" stroke-width="1.2"/>
<line x1="504.00" y1="897.10" x2="504.00" y2="900.60" stroke="#000" stroke-width="1.2"/>
<text x="504.00" y="909.30" font-size="9.0" font-weight="bold" text-anchor="middle" fill="#000" textLength="4.4" lengthAdjust="spacingAndGlyphs">0</text>
<line x1="548.57" y1="897.10" x2="548.57" y2="900.60" stroke="#000" stroke-width="1.2"/>
<text x="548.57" y="909.30" font-size="9.0" font-weight="bold" text-anchor="middle" fill="#000" textLength="4.4" lengthAdjust="spacingAndGlyphs">1</text>
<line x1="593.13" y1="897.10" x2="593.13" y2="900.60" stroke="#000" stroke-width="1.2"/>
<text x="593.13" y="909.30" font-size="9.0" font-weight="bold" text-anchor="middle" fill="#000" textLength="4.4" lengthAdjust="spacingAndGlyphs">2</text>
<line x1="637.70" y1="897.10" x2="637.70" y2="900.60" stroke="#000" stroke-width="1.2"/>
<text x="637.70" y="909.30" font-size="9.0" font-weight="bold" text-anchor="middle" fill="#000" textLength="4.4" lengthAdjust="spacingAndGlyphs">3</text>
<line x1="682.27" y1="897.10" x2="682.27" y2="900.60" stroke="#000" stroke-width="1.2"/>
<text x="682.27" y="909.30" font-size="9.0" font-weight="bold" text-anchor="middle" fill="#000" textLength="4.4" lengthAdjust="spacingAndGlyphs">4</text>
<text x="471.40" y="836.00" font-size="10.6" font-weight="bold" text-anchor="middle" fill="#000" transform="rotate(-90 471.40 836.00)" textLength="50.4" lengthAdjust="spacingAndGlyphs">CD3+CD4+</text>
<text x="483.90" y="835.80" font-size="10.6" font-weight="bold" text-anchor="middle" fill="#000" transform="rotate(-90 483.90 835.80)" textLength="75.9" lengthAdjust="spacingAndGlyphs">stimulation index</text>
<text x="593.60" y="924.30" font-size="10.5" font-weight="bold" text-anchor="middle" fill="#000" textLength="107.2" lengthAdjust="spacingAndGlyphs">log anti-HBs titres (IU/L)</text>
<text x="634.90" y="777.90" font-size="11.5" text-anchor="start" fill="#000" textLength="32.0" lengthAdjust="spacingAndGlyphs">r = 0.6</text>
<text x="634.90" y="791.30" font-size="11.5" text-anchor="start" fill="#000" textLength="46.4" lengthAdjust="spacingAndGlyphs">p = 0.001</text>
<rect x="511.35" y="879.35" width="4.30" height="4.30" fill="#000"/>
<rect x="531.85" y="885.15" width="4.30" height="4.30" fill="#000"/>
<rect x="537.55" y="878.75" width="4.30" height="4.30" fill="#000"/>
<rect x="542.05" y="864.65" width="4.30" height="4.30" fill="#000"/>
<rect x="542.65" y="885.95" width="4.30" height="4.30" fill="#000"/>
<rect x="561.45" y="879.35" width="4.30" height="4.30" fill="#000"/>
<rect x="567.75" y="853.75" width="4.30" height="4.30" fill="#000"/>
<rect x="573.15" y="872.65" width="4.30" height="4.30" fill="#000"/>
<rect x="592.35" y="840.75" width="4.30" height="4.30" fill="#000"/>
<rect x="593.65" y="871.75" width="4.30" height="4.30" fill="#000"/>
<rect x="599.95" y="876.45" width="4.30" height="4.30" fill="#000"/>
<rect x="598.35" y="885.95" width="4.30" height="4.30" fill="#000"/>
<rect x="605.95" y="882.55" width="4.30" height="4.30" fill="#000"/>
<rect x="608.25" y="878.75" width="4.30" height="4.30" fill="#000"/>
<rect x="622.55" y="867.55" width="4.30" height="4.30" fill="#000"/>
<rect x="622.55" y="880.25" width="4.30" height="4.30" fill="#000"/>
<rect x="630.65" y="873.05" width="4.30" height="4.30" fill="#000"/>
<rect x="633.55" y="845.55" width="4.30" height="4.30" fill="#000"/>
<rect x="634.85" y="808.75" width="4.30" height="4.30" fill="#000"/>
<rect x="634.85" y="815.35" width="4.30" height="4.30" fill="#000"/>
<rect x="634.85" y="827.15" width="4.30" height="4.30" fill="#000"/>
<rect x="634.85" y="829.95" width="4.30" height="4.30" fill="#000"/>
<rect x="634.85" y="831.85" width="4.30" height="4.30" fill="#000"/>
<rect x="634.85" y="847.05" width="4.30" height="4.30" fill="#000"/>
<rect x="634.85" y="849.85" width="4.30" height="4.30" fill="#000"/>
<rect x="634.85" y="852.75" width="4.30" height="4.30" fill="#000"/>
<rect x="634.85" y="858.45" width="4.30" height="4.30" fill="#000"/>
<rect x="634.85" y="861.25" width="4.30" height="4.30" fill="#000"/>
<rect x="634.85" y="863.15" width="4.30" height="4.30" fill="#000"/>
<line x1="513.50" y1="892.20" x2="637.00" y2="852.20" stroke="#000" stroke-width="1.1"/>
</svg></body></html>
